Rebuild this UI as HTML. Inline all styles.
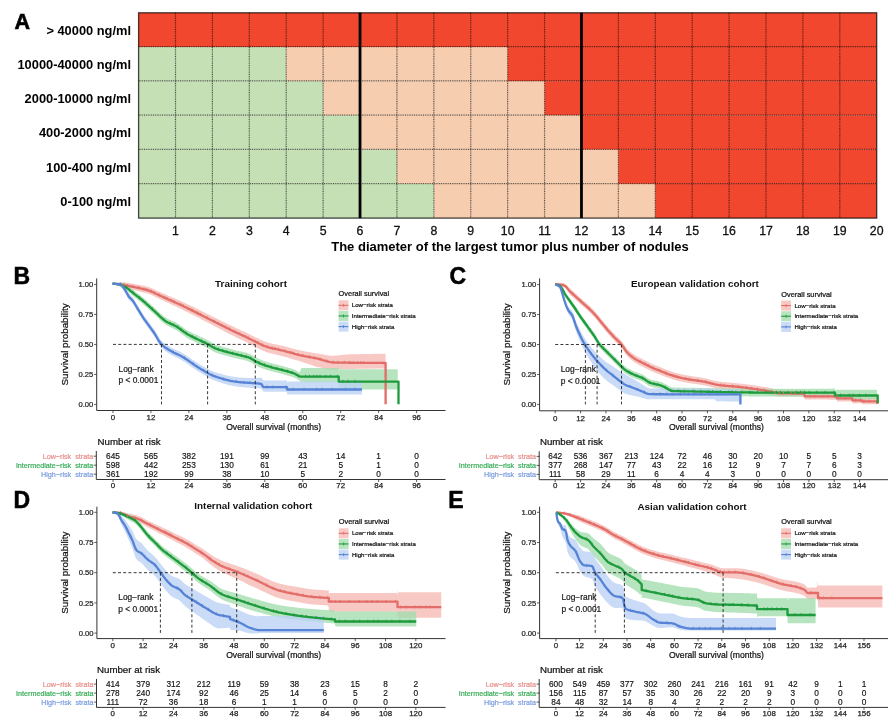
<!DOCTYPE html>
<html><head><meta charset="utf-8"><style>
html,body{margin:0;padding:0;background:#fff;}
svg{display:block;will-change:transform;}
text{font-family:"Liberation Sans", sans-serif;}
</style></head><body>
<svg width="891" height="720" viewBox="0 0 891 720">
<rect width="891" height="720" fill="#fff"/>
<rect x="138.60" y="12.80" width="738.10" height="34.22" fill="#F2472F"/>
<rect x="138.60" y="47.02" width="147.62" height="34.22" fill="#C6E0B6"/>
<rect x="286.22" y="47.02" width="221.43" height="34.22" fill="#F7CDAF"/>
<rect x="507.65" y="47.02" width="369.05" height="34.22" fill="#F2472F"/>
<rect x="138.60" y="81.23" width="184.53" height="34.22" fill="#C6E0B6"/>
<rect x="323.12" y="81.23" width="221.43" height="34.22" fill="#F7CDAF"/>
<rect x="544.56" y="81.23" width="332.14" height="34.22" fill="#F2472F"/>
<rect x="138.60" y="115.45" width="221.43" height="34.22" fill="#C6E0B6"/>
<rect x="360.03" y="115.45" width="221.43" height="34.22" fill="#F7CDAF"/>
<rect x="581.46" y="115.45" width="295.24" height="34.22" fill="#F2472F"/>
<rect x="138.60" y="149.67" width="258.34" height="34.22" fill="#C6E0B6"/>
<rect x="396.94" y="149.67" width="221.43" height="34.22" fill="#F7CDAF"/>
<rect x="618.37" y="149.67" width="258.34" height="34.22" fill="#F2472F"/>
<rect x="138.60" y="183.88" width="295.24" height="34.22" fill="#C6E0B6"/>
<rect x="433.84" y="183.88" width="221.43" height="34.22" fill="#F7CDAF"/>
<rect x="655.27" y="183.88" width="221.43" height="34.22" fill="#F2472F"/>
<line x1="175.50" y1="12.8" x2="175.50" y2="218.1" stroke="#000" stroke-width="1.2" stroke-dasharray="1,0.8" opacity="0.62"/>
<line x1="212.41" y1="12.8" x2="212.41" y2="218.1" stroke="#000" stroke-width="1.2" stroke-dasharray="1,0.8" opacity="0.62"/>
<line x1="249.31" y1="12.8" x2="249.31" y2="218.1" stroke="#000" stroke-width="1.2" stroke-dasharray="1,0.8" opacity="0.62"/>
<line x1="286.22" y1="12.8" x2="286.22" y2="218.1" stroke="#000" stroke-width="1.2" stroke-dasharray="1,0.8" opacity="0.62"/>
<line x1="323.12" y1="12.8" x2="323.12" y2="218.1" stroke="#000" stroke-width="1.2" stroke-dasharray="1,0.8" opacity="0.62"/>
<line x1="360.03" y1="12.8" x2="360.03" y2="218.1" stroke="#000" stroke-width="1.2" stroke-dasharray="1,0.8" opacity="0.62"/>
<line x1="396.94" y1="12.8" x2="396.94" y2="218.1" stroke="#000" stroke-width="1.2" stroke-dasharray="1,0.8" opacity="0.62"/>
<line x1="433.84" y1="12.8" x2="433.84" y2="218.1" stroke="#000" stroke-width="1.2" stroke-dasharray="1,0.8" opacity="0.62"/>
<line x1="470.75" y1="12.8" x2="470.75" y2="218.1" stroke="#000" stroke-width="1.2" stroke-dasharray="1,0.8" opacity="0.62"/>
<line x1="507.65" y1="12.8" x2="507.65" y2="218.1" stroke="#000" stroke-width="1.2" stroke-dasharray="1,0.8" opacity="0.62"/>
<line x1="544.56" y1="12.8" x2="544.56" y2="218.1" stroke="#000" stroke-width="1.2" stroke-dasharray="1,0.8" opacity="0.62"/>
<line x1="581.46" y1="12.8" x2="581.46" y2="218.1" stroke="#000" stroke-width="1.2" stroke-dasharray="1,0.8" opacity="0.62"/>
<line x1="618.37" y1="12.8" x2="618.37" y2="218.1" stroke="#000" stroke-width="1.2" stroke-dasharray="1,0.8" opacity="0.62"/>
<line x1="655.27" y1="12.8" x2="655.27" y2="218.1" stroke="#000" stroke-width="1.2" stroke-dasharray="1,0.8" opacity="0.62"/>
<line x1="692.18" y1="12.8" x2="692.18" y2="218.1" stroke="#000" stroke-width="1.2" stroke-dasharray="1,0.8" opacity="0.62"/>
<line x1="729.08" y1="12.8" x2="729.08" y2="218.1" stroke="#000" stroke-width="1.2" stroke-dasharray="1,0.8" opacity="0.62"/>
<line x1="765.99" y1="12.8" x2="765.99" y2="218.1" stroke="#000" stroke-width="1.2" stroke-dasharray="1,0.8" opacity="0.62"/>
<line x1="802.89" y1="12.8" x2="802.89" y2="218.1" stroke="#000" stroke-width="1.2" stroke-dasharray="1,0.8" opacity="0.62"/>
<line x1="839.80" y1="12.8" x2="839.80" y2="218.1" stroke="#000" stroke-width="1.2" stroke-dasharray="1,0.8" opacity="0.62"/>
<line x1="138.6" y1="46.72" x2="876.7" y2="46.72" stroke="#000" stroke-width="1.2" stroke-dasharray="1,0.8" opacity="0.62"/>
<line x1="138.6" y1="80.93" x2="876.7" y2="80.93" stroke="#000" stroke-width="1.2" stroke-dasharray="1,0.8" opacity="0.62"/>
<line x1="138.6" y1="115.15" x2="876.7" y2="115.15" stroke="#000" stroke-width="1.2" stroke-dasharray="1,0.8" opacity="0.62"/>
<line x1="138.6" y1="149.37" x2="876.7" y2="149.37" stroke="#000" stroke-width="1.2" stroke-dasharray="1,0.8" opacity="0.62"/>
<line x1="138.6" y1="183.58" x2="876.7" y2="183.58" stroke="#000" stroke-width="1.2" stroke-dasharray="1,0.8" opacity="0.62"/>
<rect x="138.6" y="12.8" width="738.10" height="205.30" fill="none" stroke="#000" stroke-opacity="0.72" stroke-width="1.3"/>
<line x1="360.03" y1="12.8" x2="360.03" y2="218.1" stroke="#000" stroke-width="2.8"/>
<line x1="581.46" y1="12.8" x2="581.46" y2="218.1" stroke="#000" stroke-width="2.8"/>
<text x="14.4" y="29" font-size="21.5" font-weight="bold" stroke="#000" stroke-width="0.6">A</text>
<text x="131" y="34.71" font-size="12.85" font-weight="bold" text-anchor="end">&gt; 40000 ng/ml</text>
<text x="131" y="68.92" font-size="12.85" font-weight="bold" text-anchor="end">10000-40000 ng/ml</text>
<text x="131" y="103.14" font-size="12.85" font-weight="bold" text-anchor="end">2000-10000 ng/ml</text>
<text x="131" y="137.36" font-size="12.85" font-weight="bold" text-anchor="end">400-2000 ng/ml</text>
<text x="131" y="171.57" font-size="12.85" font-weight="bold" text-anchor="end">100-400 ng/ml</text>
<text x="131" y="205.79" font-size="12.85" font-weight="bold" text-anchor="end">0-100 ng/ml</text>
<text x="175.50" y="235.2" font-size="12.3" text-anchor="middle" fill="#111" stroke="#111" stroke-width="0.3" stroke="#111" stroke-width="0.22">1</text>
<text x="212.41" y="235.2" font-size="12.3" text-anchor="middle" fill="#111" stroke="#111" stroke-width="0.3" stroke="#111" stroke-width="0.22">2</text>
<text x="249.31" y="235.2" font-size="12.3" text-anchor="middle" fill="#111" stroke="#111" stroke-width="0.3" stroke="#111" stroke-width="0.22">3</text>
<text x="286.22" y="235.2" font-size="12.3" text-anchor="middle" fill="#111" stroke="#111" stroke-width="0.3" stroke="#111" stroke-width="0.22">4</text>
<text x="323.12" y="235.2" font-size="12.3" text-anchor="middle" fill="#111" stroke="#111" stroke-width="0.3" stroke="#111" stroke-width="0.22">5</text>
<text x="360.03" y="235.2" font-size="12.3" text-anchor="middle" fill="#111" stroke="#111" stroke-width="0.3" stroke="#111" stroke-width="0.22">6</text>
<text x="396.94" y="235.2" font-size="12.3" text-anchor="middle" fill="#111" stroke="#111" stroke-width="0.3" stroke="#111" stroke-width="0.22">7</text>
<text x="433.84" y="235.2" font-size="12.3" text-anchor="middle" fill="#111" stroke="#111" stroke-width="0.3" stroke="#111" stroke-width="0.22">8</text>
<text x="470.75" y="235.2" font-size="12.3" text-anchor="middle" fill="#111" stroke="#111" stroke-width="0.3" stroke="#111" stroke-width="0.22">9</text>
<text x="507.65" y="235.2" font-size="12.3" text-anchor="middle" fill="#111" stroke="#111" stroke-width="0.3" stroke="#111" stroke-width="0.22">10</text>
<text x="544.56" y="235.2" font-size="12.3" text-anchor="middle" fill="#111" stroke="#111" stroke-width="0.3" stroke="#111" stroke-width="0.22">11</text>
<text x="581.46" y="235.2" font-size="12.3" text-anchor="middle" fill="#111" stroke="#111" stroke-width="0.3" stroke="#111" stroke-width="0.22">12</text>
<text x="618.37" y="235.2" font-size="12.3" text-anchor="middle" fill="#111" stroke="#111" stroke-width="0.3" stroke="#111" stroke-width="0.22">13</text>
<text x="655.27" y="235.2" font-size="12.3" text-anchor="middle" fill="#111" stroke="#111" stroke-width="0.3" stroke="#111" stroke-width="0.22">14</text>
<text x="692.18" y="235.2" font-size="12.3" text-anchor="middle" fill="#111" stroke="#111" stroke-width="0.3" stroke="#111" stroke-width="0.22">15</text>
<text x="729.08" y="235.2" font-size="12.3" text-anchor="middle" fill="#111" stroke="#111" stroke-width="0.3" stroke="#111" stroke-width="0.22">16</text>
<text x="765.99" y="235.2" font-size="12.3" text-anchor="middle" fill="#111" stroke="#111" stroke-width="0.3" stroke="#111" stroke-width="0.22">17</text>
<text x="802.89" y="235.2" font-size="12.3" text-anchor="middle" fill="#111" stroke="#111" stroke-width="0.3" stroke="#111" stroke-width="0.22">18</text>
<text x="839.80" y="235.2" font-size="12.3" text-anchor="middle" fill="#111" stroke="#111" stroke-width="0.3" stroke="#111" stroke-width="0.22">19</text>
<text x="876.70" y="235.2" font-size="12.3" text-anchor="middle" fill="#111" stroke="#111" stroke-width="0.3" stroke="#111" stroke-width="0.22">20</text>
<text x="510" y="251" font-size="13" font-weight="bold" text-anchor="middle">The diameter of the largest tumor plus number of nodules</text>
<polygon points="112.50,283.48 113.50,283.36 114.50,283.23 115.50,283.09 116.50,282.96 117.50,282.83 118.50,282.71 119.50,282.60 120.50,282.51 121.50,282.43 122.50,282.38 123.50,282.33 124.50,282.29 125.50,282.36 126.50,282.54 127.50,282.71 128.50,282.88 129.50,283.05 130.50,283.23 131.50,283.40 132.50,283.58 133.50,283.76 134.50,283.95 135.50,284.14 136.50,284.33 137.50,284.53 138.50,284.74 139.50,284.94 140.50,285.15 141.50,285.36 142.50,285.58 143.50,285.80 144.50,286.03 145.50,286.28 146.50,286.53 147.50,286.81 148.50,287.10 149.50,287.41 150.50,287.76 151.50,288.15 152.50,288.57 153.50,289.02 154.50,289.48 155.50,289.95 156.50,290.42 157.50,290.90 158.50,291.37 159.50,291.82 160.50,292.26 161.50,292.69 162.50,293.13 163.50,293.56 164.50,294.00 165.50,294.43 166.50,294.86 167.50,295.30 168.50,295.73 169.50,296.17 170.50,296.60 171.50,297.04 172.50,297.47 173.50,297.90 174.50,298.33 175.50,298.75 176.50,299.18 177.50,299.61 178.50,300.05 179.50,300.48 180.50,300.92 181.50,301.37 182.50,301.82 183.50,302.28 184.50,302.75 185.50,303.22 186.50,303.69 187.50,304.17 188.50,304.64 189.50,305.12 190.50,305.60 191.50,306.08 192.50,306.56 193.50,307.04 194.50,307.53 195.50,308.01 196.50,308.50 197.50,308.98 198.50,309.47 199.50,309.96 200.50,310.45 201.50,310.94 202.50,311.44 203.50,311.94 204.50,312.44 205.50,312.93 206.50,313.43 207.50,313.93 208.50,314.43 209.50,314.93 210.50,315.43 211.50,315.92 212.50,316.42 213.50,316.92 214.50,317.41 215.50,317.91 216.50,318.41 217.50,318.91 218.50,319.41 219.50,319.91 220.50,320.41 221.50,320.91 222.50,321.41 223.50,321.91 224.50,322.41 225.50,322.90 226.50,323.40 227.50,323.89 228.50,324.39 229.50,324.88 230.50,325.36 231.50,325.85 232.50,326.33 233.50,326.81 234.50,327.28 235.50,327.75 236.50,328.21 237.50,328.66 238.50,329.12 239.50,329.57 240.50,330.02 241.50,330.47 242.50,330.93 243.50,331.39 244.50,331.85 245.50,332.33 246.50,332.81 247.50,333.30 248.50,333.80 249.50,334.31 250.50,334.81 251.50,335.32 252.50,335.82 253.50,336.31 254.50,336.79 255.50,337.26 256.50,337.73 257.50,338.21 258.50,338.70 259.50,339.18 260.50,339.65 261.50,340.11 262.50,340.56 263.50,340.99 264.50,341.39 265.50,341.77 266.50,342.10 267.50,342.41 268.50,342.70 269.50,342.97 270.50,343.22 271.50,343.46 272.50,343.69 273.50,343.91 274.50,344.13 275.50,344.33 276.50,344.54 277.50,344.74 278.50,344.95 279.50,345.16 280.50,345.37 281.50,345.59 282.50,345.81 283.50,346.05 284.50,346.30 285.50,346.55 286.50,346.81 287.50,347.08 288.50,347.35 289.50,347.63 290.50,347.91 291.50,348.18 292.50,348.46 293.50,348.73 294.50,349.01 295.50,349.27 296.50,349.53 297.50,349.79 298.50,350.03 299.50,350.27 300.50,350.49 301.50,350.70 302.50,350.91 303.50,351.10 304.50,351.29 305.50,351.48 306.50,351.66 307.50,351.83 308.50,352.01 309.50,352.18 310.50,352.35 311.50,352.53 312.50,352.70 313.50,352.88 314.50,353.06 315.50,353.25 316.50,353.44 317.50,353.59 318.50,353.72 319.50,353.86 320.50,354.03 321.50,354.21 322.50,354.40 323.50,354.60 324.50,354.79 325.50,354.98 326.50,355.16 327.50,355.32 328.50,355.46 329.50,355.58 330.50,355.67 331.50,355.73 332.50,355.75 333.50,355.72 334.50,355.65 335.50,355.57 336.50,355.48 337.50,355.39 338.50,355.31 339.50,355.22 340.50,355.13 341.50,355.04 342.50,354.95 343.50,354.86 344.50,354.76 345.50,354.67 346.50,354.58 347.50,354.48 348.50,354.39 349.50,354.30 350.50,354.24 351.50,354.23 352.50,354.22 353.50,354.20 354.50,354.19 355.50,354.17 356.50,354.16 357.50,354.14 358.50,354.13 359.50,354.11 360.50,354.10 361.50,354.08 362.50,354.07 363.50,354.05 364.50,354.03 365.50,354.02 366.50,354.00 367.50,353.98 368.50,353.96 369.50,353.95 370.50,353.93 371.50,353.91 372.50,353.90 373.50,353.88 374.50,353.86 375.50,353.85 376.50,353.83 377.50,353.82 378.50,353.80 379.50,353.79 380.50,353.77 381.50,353.76 382.50,353.74 383.50,353.73 384.50,353.71 385.50,353.70 385.60,353.70 385.60,395.00 385.60,409.80 385.60,368.50 385.50,368.50 384.50,368.51 383.50,368.52 382.50,368.53 381.50,368.54 380.50,368.56 379.50,368.57 378.50,368.58 377.50,368.59 376.50,368.61 375.50,368.62 374.50,368.63 373.50,368.65 372.50,368.66 371.50,368.67 370.50,368.69 369.50,368.70 368.50,368.72 367.50,368.73 366.50,368.74 365.50,368.76 364.50,368.77 363.50,368.79 362.50,368.80 361.50,368.81 360.50,368.83 359.50,368.84 358.50,368.85 357.50,368.87 356.50,368.88 355.50,368.89 354.50,368.90 353.50,368.91 352.50,368.92 351.50,368.93 350.50,368.94 349.50,368.98 348.50,369.03 347.50,369.09 346.50,369.14 345.50,369.19 344.50,369.25 343.50,369.30 342.50,369.35 341.50,369.40 340.50,369.45 339.50,369.50 338.50,369.55 337.50,369.60 336.50,369.65 335.50,369.69 334.50,369.74 333.50,369.77 332.50,369.76 331.50,369.70 330.50,369.61 329.50,369.48 328.50,369.32 327.50,369.13 326.50,368.93 325.50,368.71 324.50,368.48 323.50,368.25 322.50,368.02 321.50,367.79 320.50,367.57 319.50,367.36 318.50,367.17 317.50,367.01 316.50,366.76 315.50,366.42 314.50,366.08 313.50,365.74 312.50,365.41 311.50,365.08 310.50,364.76 309.50,364.43 308.50,364.11 307.50,363.78 306.50,363.45 305.50,363.12 304.50,362.78 303.50,362.44 302.50,362.09 301.50,361.73 300.50,361.37 299.50,361.06 298.50,360.80 297.50,360.53 296.50,360.25 295.50,359.96 294.50,359.67 293.50,359.38 292.50,359.08 291.50,358.78 290.50,358.48 289.50,358.18 288.50,357.88 287.50,357.58 286.50,357.29 285.50,357.00 284.50,356.72 283.50,356.45 282.50,356.19 281.50,355.94 280.50,355.70 279.50,355.46 278.50,355.23 277.50,355.00 276.50,354.78 275.50,354.55 274.50,354.31 273.50,354.08 272.50,353.83 271.50,353.58 270.50,353.31 269.50,353.03 268.50,352.74 267.50,352.43 266.50,352.10 265.50,351.74 264.50,351.34 263.50,350.91 262.50,350.46 261.50,349.99 260.50,349.50 259.50,349.01 258.50,348.50 257.50,347.99 256.50,347.49 255.50,346.99 254.50,346.50 253.50,345.99 252.50,345.48 251.50,344.95 250.50,344.42 249.50,343.89 248.50,343.37 247.50,342.84 246.50,342.33 245.50,341.82 244.50,341.32 243.50,340.83 242.50,340.35 241.50,339.87 240.50,339.39 239.50,338.92 238.50,338.44 237.50,337.96 236.50,337.48 235.50,337.00 234.50,336.51 233.50,336.01 232.50,335.51 231.50,335.00 230.50,334.49 229.50,333.98 228.50,333.47 227.50,332.95 226.50,332.43 225.50,331.91 224.50,331.39 223.50,330.87 222.50,330.35 221.50,329.82 220.50,329.30 219.50,328.77 218.50,328.25 217.50,327.73 216.50,327.20 215.50,326.68 214.50,326.16 213.50,325.64 212.50,325.12 211.50,324.60 210.50,324.08 209.50,323.56 208.50,323.03 207.50,322.51 206.50,321.99 205.50,321.47 204.50,320.94 203.50,320.42 202.50,319.90 201.50,319.38 200.50,318.86 199.50,318.34 198.50,317.82 197.50,317.30 196.50,316.79 195.50,316.27 194.50,315.75 193.50,315.23 192.50,314.72 191.50,314.21 190.50,313.69 189.50,313.19 188.50,312.68 187.50,312.17 186.50,311.66 185.50,311.15 184.50,310.65 183.50,310.15 182.50,309.66 181.50,309.18 180.50,308.70 179.50,308.23 178.50,307.76 177.50,307.29 176.50,306.83 175.50,306.37 174.50,305.91 173.50,305.45 172.50,304.99 171.50,304.52 170.50,304.06 169.50,303.59 168.50,303.12 167.50,302.66 166.50,302.19 165.50,301.73 164.50,301.26 163.50,300.79 162.50,300.33 161.50,299.86 160.50,299.39 159.50,298.92 158.50,298.44 157.50,297.94 156.50,297.43 155.50,296.92 154.50,296.42 153.50,295.93 152.50,295.45 151.50,295.00 150.50,294.58 149.50,294.19 148.50,293.85 147.50,293.53 146.50,293.22 145.50,292.93 144.50,292.66 143.50,292.39 142.50,292.14 141.50,291.89 140.50,291.65 139.50,291.41 138.50,291.17 137.50,290.93 136.50,290.70 135.50,290.47 134.50,290.25 133.50,290.03 132.50,289.82 131.50,289.61 130.50,289.40 129.50,289.20 128.50,288.99 127.50,288.79 126.50,288.59 125.50,288.38 124.50,288.06 123.50,287.64 122.50,287.22 121.50,286.82 120.50,286.43 119.50,286.07 118.50,285.71 117.50,285.37 116.50,285.04 115.50,284.71 114.50,284.38 113.50,284.05 112.50,283.72" fill="#F6BBB5" opacity="0.8"/>
<polygon points="112.50,283.48 113.50,283.38 114.50,283.26 115.50,283.14 116.50,283.02 117.50,282.91 118.50,282.83 119.50,282.77 120.50,282.76 121.50,282.85 122.50,283.04 123.50,283.30 124.50,283.61 125.50,284.07 126.50,284.66 127.50,285.29 128.50,286.03 129.50,286.85 130.50,287.69 131.50,288.54 132.50,289.34 133.50,290.12 134.50,290.90 135.50,291.67 136.50,292.45 137.50,293.22 138.50,294.00 139.50,294.78 140.50,295.57 141.50,296.38 142.50,297.19 143.50,298.02 144.50,298.87 145.50,299.74 146.50,300.61 147.50,301.50 148.50,302.40 149.50,303.30 150.50,304.21 151.50,305.11 152.50,306.01 153.50,306.91 154.50,307.80 155.50,308.70 156.50,309.64 157.50,310.60 158.50,311.56 159.50,312.51 160.50,313.45 161.50,314.37 162.50,315.24 163.50,316.06 164.50,316.81 165.50,317.50 166.50,318.10 167.50,318.65 168.50,319.16 169.50,319.63 170.50,320.08 171.50,320.52 172.50,320.96 173.50,321.40 174.50,321.87 175.50,322.36 176.50,322.90 177.50,323.49 178.50,324.12 179.50,324.80 180.50,325.51 181.50,326.24 182.50,326.97 183.50,327.71 184.50,328.42 185.50,329.12 186.50,329.78 187.50,330.39 188.50,330.95 189.50,331.49 190.50,332.01 191.50,332.51 192.50,332.99 193.50,333.46 194.50,333.93 195.50,334.40 196.50,334.86 197.50,335.33 198.50,335.79 199.50,336.24 200.50,336.68 201.50,337.13 202.50,337.58 203.50,338.03 204.50,338.49 205.50,338.96 206.50,339.44 207.50,339.95 208.50,340.50 209.50,341.10 210.50,341.74 211.50,342.37 212.50,342.98 213.50,343.53 214.50,344.00 215.50,344.40 216.50,344.79 217.50,345.15 218.50,345.50 219.50,345.84 220.50,346.15 221.50,346.46 222.50,346.75 223.50,347.04 224.50,347.32 225.50,347.59 226.50,347.85 227.50,348.11 228.50,348.37 229.50,348.63 230.50,348.89 231.50,349.15 232.50,349.42 233.50,349.69 234.50,349.96 235.50,350.22 236.50,350.46 237.50,350.70 238.50,350.92 239.50,351.14 240.50,351.35 241.50,351.57 242.50,351.80 243.50,352.03 244.50,352.28 245.50,352.54 246.50,352.82 247.50,353.12 248.50,353.45 249.50,353.81 250.50,354.22 251.50,354.77 252.50,355.42 253.50,356.11 254.50,356.77 255.50,357.35 256.50,357.84 257.50,358.31 258.50,358.76 259.50,359.19 260.50,359.61 261.50,360.01 262.50,360.39 263.50,360.76 264.50,361.12 265.50,361.47 266.50,361.80 267.50,362.12 268.50,362.43 269.50,362.72 270.50,363.01 271.50,363.28 272.50,363.54 273.50,363.80 274.50,364.05 275.50,364.30 276.50,364.54 277.50,364.79 278.50,365.03 279.50,365.28 280.50,365.54 281.50,365.80 282.50,366.07 283.50,366.34 284.50,366.63 285.50,366.90 286.50,367.18 287.50,367.45 288.50,367.73 289.50,368.01 290.50,368.31 291.50,368.61 292.50,368.94 293.50,369.28 294.50,369.65 295.50,370.08 296.50,370.67 297.50,371.34 298.50,371.96 299.50,372.42 300.50,370.35 301.50,368.10 302.50,368.10 303.50,368.10 304.50,368.10 305.50,368.10 306.50,368.10 307.50,368.10 308.50,368.10 309.50,368.10 310.50,368.10 311.50,368.10 312.50,368.10 313.50,368.10 314.50,368.10 315.50,368.10 316.50,368.10 317.50,368.10 318.50,368.10 319.50,368.10 320.50,368.10 321.50,368.10 322.50,368.10 323.50,368.10 324.50,368.10 325.50,368.10 326.50,368.10 327.50,368.10 328.50,368.10 329.50,368.10 330.50,368.10 331.50,368.10 332.50,368.10 333.50,368.10 334.50,368.10 335.50,368.10 336.50,368.10 337.50,368.10 338.50,366.20 338.70,365.44 338.70,370.44 339.70,369.30 340.70,369.30 341.70,369.30 342.70,369.30 343.70,369.30 344.70,369.30 345.70,369.30 346.70,369.30 347.70,369.30 348.70,369.30 349.70,369.30 350.70,369.30 351.70,369.30 352.70,369.30 353.70,369.30 354.70,369.30 355.70,369.30 356.70,369.30 357.70,369.30 358.70,369.30 359.70,369.30 360.70,369.30 361.70,369.30 362.70,369.30 363.70,369.30 364.70,369.30 365.70,369.30 366.70,369.30 367.70,369.30 368.70,369.30 369.70,369.30 370.70,369.30 371.70,369.30 372.70,369.30 373.70,369.30 374.70,369.30 375.70,369.30 376.70,369.30 377.70,369.30 378.70,369.30 379.70,369.30 380.70,369.30 381.70,369.30 382.70,369.30 383.70,369.30 384.70,369.30 385.70,369.30 386.70,369.30 387.70,369.30 388.70,369.30 389.70,369.30 390.70,369.30 391.70,369.30 392.70,369.30 393.70,369.30 394.70,369.30 395.70,369.30 396.70,369.30 397.70,369.30 397.70,389.60 396.70,389.60 395.70,389.60 394.70,389.60 393.70,389.60 392.70,389.60 391.70,389.60 390.70,389.60 389.70,389.60 388.70,389.60 387.70,389.60 386.70,389.60 385.70,389.60 384.70,389.60 383.70,389.60 382.70,389.60 381.70,389.60 380.70,389.60 379.70,389.60 378.70,389.60 377.70,389.60 376.70,389.60 375.70,389.60 374.70,389.60 373.70,389.60 372.70,389.60 371.70,389.60 370.70,389.60 369.70,389.60 368.70,389.60 367.70,389.60 366.70,389.60 365.70,389.60 364.70,389.60 363.70,389.60 362.70,389.60 361.70,389.60 360.70,389.60 359.70,389.60 358.70,389.60 357.70,389.60 356.70,389.60 355.70,389.60 354.70,389.60 353.70,389.60 352.70,389.60 351.70,389.60 350.70,389.60 349.70,389.60 348.70,389.60 347.70,389.60 346.70,389.60 345.70,389.60 344.70,389.60 343.70,389.60 342.70,389.60 341.70,389.60 340.70,389.60 339.70,389.60 338.70,389.00 338.70,384.00 338.50,383.60 337.50,382.60 336.50,382.60 335.50,382.60 334.50,382.60 333.50,382.60 332.50,382.60 331.50,382.60 330.50,382.60 329.50,382.60 328.50,382.60 327.50,382.60 326.50,382.60 325.50,382.60 324.50,382.60 323.50,382.60 322.50,382.60 321.50,382.60 320.50,382.60 319.50,382.60 318.50,382.60 317.50,382.60 316.50,382.60 315.50,382.60 314.50,382.60 313.50,382.60 312.50,382.60 311.50,382.60 310.50,382.60 309.50,382.60 308.50,382.60 307.50,382.60 306.50,382.60 305.50,382.60 304.50,382.60 303.50,382.60 302.50,382.60 301.50,382.60 300.50,381.60 299.50,380.42 298.50,379.96 297.50,379.34 296.50,378.67 295.50,378.08 294.50,377.65 293.50,377.28 292.50,376.94 291.50,376.61 290.50,376.31 289.50,376.01 288.50,375.73 287.50,375.45 286.50,375.18 285.50,374.90 284.50,374.63 283.50,374.34 282.50,374.07 281.50,373.80 280.50,373.54 279.50,373.28 278.50,373.03 277.50,372.79 276.50,372.54 275.50,372.30 274.50,372.05 273.50,371.80 272.50,371.54 271.50,371.28 270.50,371.01 269.50,370.72 268.50,370.43 267.50,370.12 266.50,369.80 265.50,369.47 264.50,369.12 263.50,368.76 262.50,368.39 261.50,368.01 260.50,367.61 259.50,367.19 258.50,366.76 257.50,366.31 256.50,365.84 255.50,365.35 254.50,364.77 253.50,364.11 252.50,363.42 251.50,362.77 250.50,362.22 249.50,361.81 248.50,361.45 247.50,361.12 246.50,360.82 245.50,360.54 244.50,360.28 243.50,360.03 242.50,359.80 241.50,359.57 240.50,359.35 239.50,359.14 238.50,358.92 237.50,358.70 236.50,358.46 235.50,358.22 234.50,357.96 233.50,357.69 232.50,357.42 231.50,357.15 230.50,356.89 229.50,356.63 228.50,356.37 227.50,356.11 226.50,355.85 225.50,355.59 224.50,355.32 223.50,355.04 222.50,354.75 221.50,354.46 220.50,354.15 219.50,353.84 218.50,353.50 217.50,353.15 216.50,352.79 215.50,352.40 214.50,352.00 213.50,351.53 212.50,350.98 211.50,350.37 210.50,349.74 209.50,349.10 208.50,348.50 207.50,347.95 206.50,347.44 205.50,346.96 204.50,346.49 203.50,346.03 202.50,345.58 201.50,345.13 200.50,344.68 199.50,344.22 198.50,343.75 197.50,343.26 196.50,342.77 195.50,342.28 194.50,341.78 193.50,341.29 192.50,340.79 191.50,340.28 190.50,339.76 189.50,339.21 188.50,338.65 187.50,338.06 186.50,337.42 185.50,336.73 184.50,336.01 183.50,335.27 182.50,334.51 181.50,333.74 180.50,332.99 179.50,332.26 178.50,331.55 177.50,330.89 176.50,330.27 175.50,329.71 174.50,329.19 173.50,328.70 172.50,328.22 171.50,327.76 170.50,327.30 169.50,326.82 168.50,326.32 167.50,325.79 166.50,325.21 165.50,324.58 164.50,323.87 163.50,323.08 162.50,322.24 161.50,321.34 160.50,320.40 159.50,319.43 158.50,318.45 157.50,317.46 156.50,316.48 155.50,315.52 154.50,314.58 153.50,313.67 152.50,312.75 151.50,311.82 150.50,310.89 149.50,309.96 148.50,309.03 147.50,308.10 146.50,307.19 145.50,306.28 144.50,305.39 143.50,304.52 142.50,303.66 141.50,302.82 140.50,301.99 139.50,301.17 138.50,300.36 137.50,299.55 136.50,298.75 135.50,297.95 134.50,297.15 133.50,296.35 132.50,295.54 131.50,294.71 130.50,293.84 129.50,292.97 128.50,292.13 127.50,291.36 126.50,290.70 125.50,290.08 124.50,289.38 123.50,288.60 122.50,287.88 121.50,287.23 120.50,286.68 119.50,286.23 118.50,285.83 117.50,285.45 116.50,285.09 115.50,284.75 114.50,284.41 113.50,284.07 112.50,283.72" fill="#A3DDAE" opacity="0.8"/>
<polygon points="112.50,283.48 113.50,283.35 114.50,283.20 115.50,283.04 116.50,282.89 117.50,282.75 118.50,282.64 119.50,282.57 120.50,282.62 121.50,283.12 122.50,283.99 123.50,285.06 124.50,286.15 125.50,287.62 126.50,289.50 127.50,291.43 128.50,293.11 129.50,294.32 130.50,295.25 131.50,296.15 132.50,297.27 133.50,298.65 134.50,300.21 135.50,301.88 136.50,303.58 137.50,305.25 138.50,306.85 139.50,308.49 140.50,310.13 141.50,311.76 142.50,313.34 143.50,314.85 144.50,316.29 145.50,317.67 146.50,319.03 147.50,320.37 148.50,321.73 149.50,323.11 150.50,324.47 151.50,325.83 152.50,327.20 153.50,328.61 154.50,330.06 155.50,331.64 156.50,333.36 157.50,335.12 158.50,336.83 159.50,338.41 160.50,339.75 161.50,340.81 162.50,341.73 163.50,342.58 164.50,343.35 165.50,344.07 166.50,344.74 167.50,345.37 168.50,345.97 169.50,346.56 170.50,347.14 171.50,347.71 172.50,348.26 173.50,348.77 174.50,349.26 175.50,349.73 176.50,350.18 177.50,350.64 178.50,351.09 179.50,351.56 180.50,352.05 181.50,352.56 182.50,353.10 183.50,353.68 184.50,354.28 185.50,354.91 186.50,355.55 187.50,356.21 188.50,356.89 189.50,357.57 190.50,358.26 191.50,358.95 192.50,359.64 193.50,360.33 194.50,361.01 195.50,361.68 196.50,362.34 197.50,362.99 198.50,363.61 199.50,364.21 200.50,364.79 201.50,365.36 202.50,365.94 203.50,366.53 204.50,367.10 205.50,367.68 206.50,368.24 207.50,368.79 208.50,369.32 209.50,369.83 210.50,370.31 211.50,370.77 212.50,371.20 213.50,371.59 214.50,371.94 215.50,372.26 216.50,372.59 217.50,372.90 218.50,373.21 219.50,373.51 220.50,373.81 221.50,374.10 222.50,374.37 223.50,374.64 224.50,374.91 225.50,375.16 226.50,375.40 227.50,375.63 228.50,375.85 229.50,376.06 230.50,376.26 231.50,376.44 232.50,376.62 233.50,376.78 234.50,376.93 235.50,377.06 236.50,377.18 237.50,377.28 238.50,377.38 239.50,377.46 240.50,377.53 241.50,377.60 242.50,377.66 243.50,377.71 244.50,377.76 245.50,377.81 246.50,377.85 247.50,377.90 248.50,377.94 249.50,377.98 250.50,378.03 251.50,378.07 252.50,378.12 253.50,378.18 254.50,378.24 255.50,378.21 256.50,378.07 257.50,377.92 258.50,377.78 259.50,377.67 260.50,377.60 261.50,377.72 262.50,379.33 263.50,380.50 264.50,380.50 265.50,380.50 266.50,380.50 267.50,380.50 268.50,380.50 269.50,380.50 270.50,380.50 271.50,380.50 272.50,380.50 273.50,380.50 274.50,380.50 275.50,380.50 276.50,380.50 277.50,380.50 278.50,380.50 279.50,380.50 280.50,380.50 281.50,380.50 282.50,380.50 283.50,380.50 284.50,380.50 285.50,380.50 286.50,380.50 287.00,380.50 287.00,382.80 288.00,381.50 289.00,381.50 290.00,381.50 291.00,381.50 292.00,381.50 293.00,381.50 294.00,381.50 295.00,381.50 296.00,381.50 297.00,381.50 298.00,381.50 299.00,381.50 300.00,381.50 301.00,381.50 302.00,381.50 303.00,381.50 304.00,381.50 305.00,381.50 306.00,381.50 307.00,381.50 308.00,381.50 309.00,381.50 310.00,381.50 311.00,381.50 312.00,381.50 313.00,381.50 314.00,381.50 315.00,381.50 316.00,381.50 317.00,381.50 318.00,381.50 319.00,381.50 320.00,381.50 321.00,381.50 322.00,381.50 323.00,381.50 324.00,381.50 325.00,381.50 326.00,381.50 327.00,381.50 328.00,381.50 329.00,381.50 330.00,381.50 331.00,381.50 332.00,381.50 333.00,381.50 334.00,381.50 335.00,381.50 336.00,381.50 337.00,381.50 338.00,381.50 339.00,381.50 340.00,381.50 341.00,381.50 342.00,381.50 343.00,381.50 344.00,381.50 345.00,381.50 346.00,381.50 347.00,381.50 348.00,381.50 349.00,381.50 350.00,381.50 351.00,381.50 352.00,381.50 353.00,381.50 354.00,381.50 355.00,381.50 356.00,381.50 357.00,381.50 358.00,381.50 359.00,381.50 360.00,381.50 361.00,381.50 361.90,381.50 361.90,394.50 361.00,394.50 360.00,394.50 359.00,394.50 358.00,394.50 357.00,394.50 356.00,394.50 355.00,394.50 354.00,394.50 353.00,394.50 352.00,394.50 351.00,394.50 350.00,394.50 349.00,394.50 348.00,394.50 347.00,394.50 346.00,394.50 345.00,394.50 344.00,394.50 343.00,394.50 342.00,394.50 341.00,394.50 340.00,394.50 339.00,394.50 338.00,394.50 337.00,394.50 336.00,394.50 335.00,394.50 334.00,394.50 333.00,394.50 332.00,394.50 331.00,394.50 330.00,394.50 329.00,394.50 328.00,394.50 327.00,394.50 326.00,394.50 325.00,394.50 324.00,394.50 323.00,394.50 322.00,394.50 321.00,394.50 320.00,394.50 319.00,394.50 318.00,394.50 317.00,394.50 316.00,394.50 315.00,394.50 314.00,394.50 313.00,394.50 312.00,394.50 311.00,394.50 310.00,394.50 309.00,394.50 308.00,394.50 307.00,394.50 306.00,394.50 305.00,394.50 304.00,394.50 303.00,394.50 302.00,394.50 301.00,394.50 300.00,394.50 299.00,394.50 298.00,394.50 297.00,394.50 296.00,394.50 295.00,394.50 294.00,394.50 293.00,394.50 292.00,394.50 291.00,394.50 290.00,394.50 289.00,394.50 288.00,394.50 287.00,394.00 287.00,391.70 286.50,391.70 285.50,391.70 284.50,391.70 283.50,391.70 282.50,391.70 281.50,391.70 280.50,391.70 279.50,391.70 278.50,391.70 277.50,391.70 276.50,391.70 275.50,391.70 274.50,391.70 273.50,391.70 272.50,391.70 271.50,391.70 270.50,391.70 269.50,391.70 268.50,391.70 267.50,391.70 266.50,391.70 265.50,391.70 264.50,391.70 263.50,391.70 262.50,390.46 261.50,388.70 260.50,388.42 259.50,388.34 258.50,388.31 257.50,388.30 256.50,388.30 255.50,388.29 254.50,388.22 253.50,388.13 252.50,388.03 251.50,387.95 250.50,387.86 249.50,387.78 248.50,387.70 247.50,387.62 246.50,387.54 245.50,387.46 244.50,387.38 243.50,387.29 242.50,387.20 241.50,387.11 240.50,387.00 239.50,386.89 238.50,386.78 237.50,386.65 236.50,386.51 235.50,386.35 234.50,386.18 233.50,386.00 232.50,385.80 231.50,385.59 230.50,385.37 229.50,385.13 228.50,384.89 227.50,384.63 226.50,384.36 225.50,384.08 224.50,383.80 223.50,383.50 222.50,383.19 221.50,382.88 220.50,382.55 219.50,382.22 218.50,381.88 217.50,381.54 216.50,381.19 215.50,380.83 214.50,380.46 213.50,380.08 212.50,379.65 211.50,379.19 210.50,378.69 209.50,378.17 208.50,377.63 207.50,377.06 206.50,376.47 205.50,375.88 204.50,375.27 203.50,374.65 202.50,374.03 201.50,373.42 200.50,372.80 199.50,372.20 198.50,371.57 197.50,370.92 196.50,370.25 195.50,369.56 194.50,368.87 193.50,368.16 192.50,367.44 191.50,366.72 190.50,366.00 189.50,365.29 188.50,364.58 187.50,363.88 186.50,363.19 185.50,362.52 184.50,361.87 183.50,361.24 182.50,360.64 181.50,360.07 180.50,359.53 179.50,359.01 178.50,358.52 177.50,358.04 176.50,357.56 175.50,357.07 174.50,356.58 173.50,356.07 172.50,355.53 171.50,354.95 170.50,354.35 169.50,353.75 168.50,353.13 167.50,352.50 166.50,351.85 165.50,351.15 164.50,350.41 163.50,349.60 162.50,348.73 161.50,347.79 160.50,346.70 159.50,345.33 158.50,343.72 157.50,341.99 156.50,340.20 155.50,338.46 154.50,336.84 153.50,335.37 152.50,333.94 151.50,332.54 150.50,331.15 149.50,329.76 148.50,328.36 147.50,326.97 146.50,325.60 145.50,324.22 144.50,322.81 143.50,321.34 142.50,319.81 141.50,318.20 140.50,316.55 139.50,314.88 138.50,313.21 137.50,311.58 136.50,309.89 135.50,308.16 134.50,306.47 133.50,304.88 132.50,303.47 131.50,302.33 130.50,301.40 129.50,300.44 128.50,299.20 127.50,297.49 126.50,295.54 125.50,293.63 124.50,291.92 123.50,290.36 122.50,288.84 121.50,287.51 120.50,286.54 119.50,286.03 118.50,285.64 117.50,285.29 116.50,284.96 115.50,284.65 114.50,284.35 113.50,284.04 112.50,283.72" fill="#BBD2F4" opacity="0.8"/>
<polyline points="112.50,283.60 113.50,283.70 114.50,283.80 115.50,283.90 116.50,284.00 117.50,284.10 118.50,284.21 119.50,284.33 120.50,284.47 121.50,284.63 122.50,284.80 123.50,284.98 124.50,285.18 125.50,285.37 126.50,285.56 127.50,285.75 128.50,285.94 129.50,286.13 130.50,286.32 131.50,286.51 132.50,286.70 133.50,286.90 134.50,287.10 135.50,287.31 136.50,287.52 137.50,287.73 138.50,287.96 139.50,288.18 140.50,288.40 141.50,288.63 142.50,288.86 143.50,289.10 144.50,289.34 145.50,289.60 146.50,289.88 147.50,290.17 148.50,290.47 149.50,290.80 150.50,291.17 151.50,291.58 152.50,292.01 153.50,292.47 154.50,292.95 155.50,293.44 156.50,293.93 157.50,294.42 158.50,294.90 159.50,295.37 160.50,295.83 161.50,296.28 162.50,296.73 163.50,297.18 164.50,297.63 165.50,298.08 166.50,298.53 167.50,298.98 168.50,299.43 169.50,299.88 170.50,300.33 171.50,300.78 172.50,301.23 173.50,301.67 174.50,302.12 175.50,302.56 176.50,303.01 177.50,303.45 178.50,303.90 179.50,304.35 180.50,304.81 181.50,305.27 182.50,305.74 183.50,306.22 184.50,306.70 185.50,307.18 186.50,307.67 187.50,308.17 188.50,308.66 189.50,309.15 190.50,309.65 191.50,310.14 192.50,310.64 193.50,311.14 194.50,311.64 195.50,312.14 196.50,312.64 197.50,313.14 198.50,313.65 199.50,314.15 200.50,314.65 201.50,315.15 202.50,315.66 203.50,316.16 204.50,316.66 205.50,317.17 206.50,317.67 207.50,318.18 208.50,318.68 209.50,319.18 210.50,319.69 211.50,320.19 212.50,320.70 213.50,321.20 214.50,321.70 215.50,322.20 216.50,322.71 217.50,323.21 218.50,323.72 219.50,324.22 220.50,324.73 221.50,325.24 222.50,325.74 223.50,326.25 224.50,326.75 225.50,327.26 226.50,327.76 227.50,328.26 228.50,328.76 229.50,329.25 230.50,329.75 231.50,330.24 232.50,330.72 233.50,331.21 234.50,331.69 235.50,332.16 236.50,332.63 237.50,333.09 238.50,333.55 239.50,334.01 240.50,334.46 241.50,334.92 242.50,335.38 243.50,335.85 244.50,336.32 245.50,336.80 246.50,337.29 247.50,337.79 248.50,338.29 249.50,338.80 250.50,339.32 251.50,339.83 252.50,340.33 253.50,340.83 254.50,341.32 255.50,341.79 256.50,342.27 257.50,342.76 258.50,343.25 259.50,343.73 260.50,344.21 261.50,344.68 262.50,345.14 263.50,345.57 264.50,345.98 265.50,346.36 266.50,346.70 267.50,347.02 268.50,347.31 269.50,347.58 270.50,347.84 271.50,348.09 272.50,348.33 273.50,348.55 274.50,348.77 275.50,348.99 276.50,349.20 277.50,349.41 278.50,349.62 279.50,349.83 280.50,350.05 281.50,350.27 282.50,350.51 283.50,350.75 284.50,351.00 285.50,351.27 286.50,351.53 287.50,351.81 288.50,352.09 289.50,352.37 290.50,352.65 291.50,352.93 292.50,353.21 293.50,353.50 294.50,353.77 295.50,354.05 296.50,354.31 297.50,354.57 298.50,354.82 299.50,355.07 300.50,355.30 301.50,355.52 302.50,355.74 303.50,355.94 304.50,356.14 305.50,356.34 306.50,356.53 307.50,356.72 308.50,356.91 309.50,357.09 310.50,357.28 311.50,357.46 312.50,357.65 313.50,357.84 314.50,358.03 315.50,358.23 316.50,358.43 317.50,358.64 318.50,358.87 319.50,359.13 320.50,359.40 321.50,359.69 322.50,359.98 323.50,360.29 324.50,360.58 325.50,360.88 326.50,361.16 327.50,361.43 328.50,361.68 329.50,361.91 330.50,362.11 331.50,362.27 332.50,362.39 333.50,362.47 334.50,362.51 335.50,362.53 336.50,362.55 337.50,362.57 338.50,362.59 339.50,362.60 340.50,362.62 341.50,362.64 342.50,362.65 343.50,362.67 344.50,362.68 345.50,362.69 346.50,362.71 347.50,362.72 348.50,362.73 349.50,362.74 350.50,362.75 351.50,362.76 352.50,362.77 353.50,362.78 354.50,362.79 355.50,362.80 356.50,362.81 357.50,362.81 358.50,362.82 359.50,362.83 360.50,362.83 361.50,362.84 362.50,362.85 363.50,362.85 364.50,362.86 365.50,362.86 366.50,362.87 367.50,362.87 368.50,362.88 369.50,362.89 370.50,362.89 371.50,362.90 372.50,362.90 373.50,362.91 374.50,362.92 375.50,362.92 376.50,362.93 377.50,362.93 378.50,362.94 379.50,362.95 380.50,362.96 381.50,362.96 382.50,362.97 383.50,362.98 384.50,362.99 385.50,363.00 385.60,363.00 385.60,404.30" fill="none" stroke="#E36D68" stroke-width="2.3" stroke-linejoin="round"/>
<polyline points="112.50,283.60 113.50,283.72 114.50,283.84 115.50,283.94 116.50,284.06 117.50,284.18 118.50,284.33 119.50,284.50 120.50,284.72 121.50,285.04 122.50,285.46 123.50,285.95 124.50,286.50 125.50,287.08 126.50,287.68 127.50,288.32 128.50,289.08 129.50,289.91 130.50,290.77 131.50,291.62 132.50,292.44 133.50,293.24 134.50,294.03 135.50,294.81 136.50,295.60 137.50,296.39 138.50,297.18 139.50,297.98 140.50,298.78 141.50,299.60 142.50,300.43 143.50,301.27 144.50,302.13 145.50,303.01 146.50,303.90 147.50,304.80 148.50,305.71 149.50,306.63 150.50,307.55 151.50,308.46 152.50,309.38 153.50,310.29 154.50,311.19 155.50,312.11 156.50,313.06 157.50,314.03 158.50,315.00 159.50,315.97 160.50,316.93 161.50,317.85 162.50,318.74 163.50,319.57 164.50,320.34 165.50,321.04 166.50,321.66 167.50,322.22 168.50,322.74 169.50,323.23 170.50,323.69 171.50,324.14 172.50,324.59 173.50,325.05 174.50,325.53 175.50,326.03 176.50,326.58 177.50,327.19 178.50,327.84 179.50,328.53 180.50,329.25 181.50,329.99 182.50,330.74 183.50,331.49 184.50,332.22 185.50,332.92 186.50,333.60 187.50,334.22 188.50,334.80 189.50,335.35 190.50,335.88 191.50,336.39 192.50,336.89 193.50,337.38 194.50,337.86 195.50,338.34 196.50,338.81 197.50,339.30 198.50,339.77 199.50,340.23 200.50,340.68 201.50,341.13 202.50,341.58 203.50,342.03 204.50,342.49 205.50,342.96 206.50,343.44 207.50,343.95 208.50,344.50 209.50,345.10 210.50,345.74 211.50,346.37 212.50,346.98 213.50,347.53 214.50,348.00 215.50,348.40 216.50,348.79 217.50,349.15 218.50,349.50 219.50,349.84 220.50,350.15 221.50,350.46 222.50,350.75 223.50,351.04 224.50,351.32 225.50,351.59 226.50,351.85 227.50,352.11 228.50,352.37 229.50,352.63 230.50,352.89 231.50,353.15 232.50,353.42 233.50,353.69 234.50,353.96 235.50,354.22 236.50,354.46 237.50,354.70 238.50,354.92 239.50,355.14 240.50,355.35 241.50,355.57 242.50,355.80 243.50,356.03 244.50,356.28 245.50,356.54 246.50,356.82 247.50,357.12 248.50,357.45 249.50,357.81 250.50,358.22 251.50,358.77 252.50,359.42 253.50,360.11 254.50,360.77 255.50,361.35 256.50,361.84 257.50,362.31 258.50,362.76 259.50,363.19 260.50,363.61 261.50,364.01 262.50,364.39 263.50,364.76 264.50,365.12 265.50,365.47 266.50,365.80 267.50,366.12 268.50,366.43 269.50,366.72 270.50,367.01 271.50,367.28 272.50,367.54 273.50,367.80 274.50,368.05 275.50,368.30 276.50,368.54 277.50,368.79 278.50,369.03 279.50,369.28 280.50,369.54 281.50,369.80 282.50,370.07 283.50,370.34 284.50,370.63 285.50,370.90 286.50,371.18 287.50,371.45 288.50,371.73 289.50,372.01 290.50,372.31 291.50,372.61 292.50,372.94 293.50,373.28 294.50,373.65 295.50,374.08 296.50,374.67 297.50,375.34 298.50,375.96 299.50,376.42 300.50,376.60 301.50,376.60 302.50,376.60 303.50,376.60 304.50,376.60 305.50,376.60 306.50,376.60 307.50,376.60 308.50,376.60 309.50,376.60 310.50,376.60 311.50,376.60 312.50,376.60 313.50,376.60 314.50,376.60 315.50,376.60 316.50,376.60 317.50,376.60 318.50,376.60 319.50,376.60 320.50,376.60 321.50,376.60 322.50,376.60 323.50,376.60 324.50,376.60 325.50,376.60 326.50,376.60 327.50,376.60 328.50,376.60 329.50,376.60 330.50,376.60 331.50,376.60 332.50,376.60 333.50,376.60 334.50,376.60 335.50,376.60 336.50,376.60 337.50,376.60 338.50,376.60 338.70,376.60 338.70,381.60 339.70,381.60 340.70,381.60 341.70,381.60 342.70,381.60 343.70,381.60 344.70,381.60 345.70,381.60 346.70,381.60 347.70,381.60 348.70,381.60 349.70,381.60 350.70,381.60 351.70,381.60 352.70,381.60 353.70,381.60 354.70,381.60 355.70,381.60 356.70,381.60 357.70,381.60 358.70,381.60 359.70,381.60 360.70,381.60 361.70,381.60 362.70,381.60 363.70,381.60 364.70,381.60 365.70,381.60 366.70,381.60 367.70,381.60 368.70,381.60 369.70,381.60 370.70,381.60 371.70,381.60 372.70,381.60 373.70,381.60 374.70,381.60 375.70,381.60 376.70,381.60 377.70,381.60 378.70,381.60 379.70,381.60 380.70,381.60 381.70,381.60 382.70,381.60 383.70,381.60 384.70,381.60 385.70,381.60 386.70,381.60 387.70,381.60 388.70,381.60 389.70,381.60 390.70,381.60 391.70,381.60 392.70,381.60 393.70,381.60 394.70,381.60 395.70,381.60 396.70,381.60 397.70,381.60 398.50,381.60 398.50,404.30" fill="none" stroke="#1E9B3C" stroke-width="2.3" stroke-linejoin="round"/>
<polyline points="112.50,283.60 113.50,283.69 114.50,283.77 115.50,283.85 116.50,283.93 117.50,284.02 118.50,284.14 119.50,284.30 120.50,284.58 121.50,285.31 122.50,286.42 123.50,287.71 124.50,289.03 125.50,290.62 126.50,292.52 127.50,294.46 128.50,296.15 129.50,297.38 130.50,298.33 131.50,299.24 132.50,300.37 133.50,301.77 134.50,303.34 135.50,305.02 136.50,306.73 137.50,308.41 138.50,310.03 139.50,311.68 140.50,313.34 141.50,314.98 142.50,316.57 143.50,318.10 144.50,319.55 145.50,320.95 146.50,322.32 147.50,323.67 148.50,325.04 149.50,326.43 150.50,327.81 151.50,329.18 152.50,330.57 153.50,331.99 154.50,333.45 155.50,335.05 156.50,336.78 157.50,338.55 158.50,340.28 159.50,341.87 160.50,343.23 161.50,344.30 162.50,345.23 163.50,346.09 164.50,346.88 165.50,347.61 166.50,348.29 167.50,348.94 168.50,349.55 169.50,350.15 170.50,350.74 171.50,351.33 172.50,351.89 173.50,352.42 174.50,352.92 175.50,353.40 176.50,353.87 177.50,354.34 178.50,354.81 179.50,355.29 180.50,355.79 181.50,356.31 182.50,356.87 183.50,357.46 184.50,358.08 185.50,358.72 186.50,359.37 187.50,360.05 188.50,360.73 189.50,361.43 190.50,362.13 191.50,362.84 192.50,363.54 193.50,364.24 194.50,364.94 195.50,365.62 196.50,366.30 197.50,366.95 198.50,367.59 199.50,368.20 200.50,368.79 201.50,369.39 202.50,369.99 203.50,370.59 204.50,371.19 205.50,371.78 206.50,372.36 207.50,372.92 208.50,373.47 209.50,374.00 210.50,374.50 211.50,374.98 212.50,375.42 213.50,375.83 214.50,376.20 215.50,376.55 216.50,376.89 217.50,377.22 218.50,377.55 219.50,377.87 220.50,378.18 221.50,378.49 222.50,378.78 223.50,379.07 224.50,379.35 225.50,379.62 226.50,379.88 227.50,380.13 228.50,380.37 229.50,380.60 230.50,380.81 231.50,381.02 232.50,381.21 233.50,381.39 234.50,381.55 235.50,381.70 236.50,381.84 237.50,381.97 238.50,382.08 239.50,382.18 240.50,382.27 241.50,382.35 242.50,382.43 243.50,382.50 244.50,382.57 245.50,382.64 246.50,382.70 247.50,382.76 248.50,382.82 249.50,382.88 250.50,382.94 251.50,383.01 252.50,383.08 253.50,383.15 254.50,383.23 255.50,383.32 256.50,383.39 257.50,383.45 258.50,383.52 259.50,383.62 260.50,383.76 261.50,384.10 262.50,385.92 263.50,387.20 264.50,387.20 265.50,387.20 266.50,387.20 267.50,387.20 268.50,387.20 269.50,387.20 270.50,387.20 271.50,387.20 272.50,387.20 273.50,387.20 274.50,387.20 275.50,387.20 276.50,387.20 277.50,387.20 278.50,387.20 279.50,387.20 280.50,387.20 281.50,387.20 282.50,387.20 283.50,387.20 284.50,387.20 285.50,387.20 286.50,387.20 287.00,387.20 287.00,389.50 288.00,389.50 289.00,389.50 290.00,389.50 291.00,389.50 292.00,389.50 293.00,389.50 294.00,389.50 295.00,389.50 296.00,389.50 297.00,389.50 298.00,389.50 299.00,389.50 300.00,389.50 301.00,389.50 302.00,389.50 303.00,389.50 304.00,389.50 305.00,389.50 306.00,389.50 307.00,389.50 308.00,389.50 309.00,389.50 310.00,389.50 311.00,389.50 312.00,389.50 313.00,389.50 314.00,389.50 315.00,389.50 316.00,389.50 317.00,389.50 318.00,389.50 319.00,389.50 320.00,389.50 321.00,389.50 322.00,389.50 323.00,389.50 324.00,389.50 325.00,389.50 326.00,389.50 327.00,389.50 328.00,389.50 329.00,389.50 330.00,389.50 331.00,389.50 332.00,389.50 333.00,389.50 334.00,389.50 335.00,389.50 336.00,389.50 337.00,389.50 338.00,389.50 339.00,389.50 340.00,389.50 341.00,389.50 342.00,389.50 343.00,389.50 344.00,389.50 345.00,389.50 346.00,389.50 347.00,389.50 348.00,389.50 349.00,389.50 350.00,389.50 351.00,389.50 352.00,389.50 353.00,389.50 354.00,389.50 355.00,389.50 356.00,389.50 357.00,389.50 358.00,389.50 359.00,389.50 360.00,389.50 361.00,389.50 361.90,389.50" fill="none" stroke="#5683D6" stroke-width="2.3" stroke-linejoin="round"/>
<path d="M120.50 282.67V285.67M123.95 283.27V286.27M127.42 283.94V286.94M132.73 284.95V287.95M138.67 286.19V289.19M144.05 287.43V290.43M146.83 288.17V291.17M150.85 289.51V292.51M154.40 291.10V294.10M159.29 293.47V296.47M164.40 295.78V298.78M166.97 296.94V299.94M171.68 299.06V302.06M174.46 300.30V303.30M180.77 303.14V306.14M183.52 304.43V307.43M187.66 306.44V309.44M192.15 308.67V311.67M197.72 311.45V314.45M200.45 312.83V315.83M207.41 316.33V319.33M214.27 319.78V322.78M218.21 321.77V324.77M221.95 323.66V326.66M225.72 325.56V328.56M229.34 327.37V330.37M234.04 329.67V332.67M239.79 332.34V335.34M245.70 335.10V338.10M248.51 336.50V339.50M254.97 339.74V342.74M258.14 341.27V344.27M262.47 343.32V346.32M267.29 345.15V348.15M272.26 346.47V349.47M275.07 347.10V350.10M278.54 347.83V350.83M284.68 349.25V352.25M290.92 350.97V353.97M293.65 351.74V354.74M298.20 352.95V355.95M302.74 353.99V356.99M309.43 355.28V358.28M314.65 356.26V359.26M320.18 357.51V360.51M326.74 359.43V362.43M333.09 360.64V363.64M337.89 360.78V363.78M344.27 360.88V363.88M349.48 360.94V363.94M354.12 360.99V363.99M357.70 361.01V364.01M360.93 361.04V364.04M363.81 361.05V364.05" stroke="#E36D68" stroke-width="0.9" fill="none"/>
<path d="M120.50 282.92V285.92M126.37 285.80V288.80M133.33 291.30V294.30M139.83 296.44V299.44M142.65 298.75V301.75M145.47 301.18V304.18M152.31 307.40V310.40M158.49 313.19V316.19M164.55 318.58V321.58M170.26 321.78V324.78M173.86 323.42V326.42M177.91 325.65V328.65M180.98 327.81V330.81M186.46 331.77V334.77M192.42 335.05V338.05M195.63 336.60V339.60M201.42 339.30V342.30M205.14 340.99V343.99M210.14 343.71V346.71M214.62 346.25V349.25M218.22 347.61V350.61M222.70 349.01V352.01M226.80 350.13V353.13M232.78 351.69V354.69M237.13 352.81V355.81M241.40 353.75V356.75M246.01 354.88V357.88M250.84 356.59V359.59M254.36 358.89V361.89M259.19 361.26V364.26M264.66 363.38V366.38M271.26 365.41V368.41M277.14 366.90V369.90M281.80 368.08V371.08M287.58 369.67V372.67M292.16 371.03V374.03M298.91 374.37V377.37M305.46 374.80V377.80M309.69 374.80V377.80M313.49 374.80V377.80M316.98 374.80V377.80M320.04 374.80V377.80M325.92 374.80V377.80M330.54 374.80V377.80M337.41 374.80V377.80M342.89 379.80V382.80M348.06 379.80V382.80M354.78 379.80V382.80" stroke="#1E9B3C" stroke-width="0.9" fill="none"/>
<path d="M120.50 282.78V285.78M129.02 295.04V298.04M141.60 313.34V316.34M153.66 330.42V333.42M160.49 341.41V344.41M173.28 350.51V353.51M184.54 356.30V359.30M192.98 362.08V365.08M203.69 368.90V371.90M212.54 373.64V376.64M223.69 377.33V380.33M236.46 380.04V383.04M244.20 380.75V383.75M249.61 381.09V384.09M255.53 381.52V384.52M266.86 385.40V388.40M272.99 385.40V388.40M285.62 385.40V388.40M292.95 387.70V390.70M304.14 387.70V390.70M316.61 387.70V390.70M322.19 387.70V390.70M331.83 387.70V390.70M345.60 387.70V390.70M354.91 387.70V390.70" stroke="#5683D6" stroke-width="0.9" fill="none"/>
<line x1="113.00" y1="344.40" x2="255.30" y2="344.40" stroke="#222" stroke-width="0.9" stroke-dasharray="3,2.2"/>
<line x1="161.50" y1="344.40" x2="161.50" y2="404.40" stroke="#222" stroke-width="0.9" stroke-dasharray="3,2.2"/>
<line x1="207.60" y1="344.40" x2="207.60" y2="404.40" stroke="#222" stroke-width="0.9" stroke-dasharray="3,2.2"/>
<line x1="255.30" y1="344.40" x2="255.30" y2="404.40" stroke="#222" stroke-width="0.9" stroke-dasharray="3,2.2"/>
<line x1="96.70" y1="278.40" x2="96.70" y2="410.50" stroke="#333" stroke-width="1"/>
<line x1="96.70" y1="410.50" x2="445.50" y2="410.50" stroke="#333" stroke-width="1"/>
<line x1="94.10" y1="404.40" x2="96.70" y2="404.40" stroke="#333" stroke-width="0.8"/>
<text x="93.30" y="407.10" font-size="7.6" text-anchor="end" fill="#222" stroke="#222" stroke-width="0.22">0.00</text>
<line x1="94.10" y1="374.40" x2="96.70" y2="374.40" stroke="#333" stroke-width="0.8"/>
<text x="93.30" y="377.10" font-size="7.6" text-anchor="end" fill="#222" stroke="#222" stroke-width="0.22">0.25</text>
<line x1="94.10" y1="344.40" x2="96.70" y2="344.40" stroke="#333" stroke-width="0.8"/>
<text x="93.30" y="347.10" font-size="7.6" text-anchor="end" fill="#222" stroke="#222" stroke-width="0.22">0.50</text>
<line x1="94.10" y1="314.40" x2="96.70" y2="314.40" stroke="#333" stroke-width="0.8"/>
<text x="93.30" y="317.10" font-size="7.6" text-anchor="end" fill="#222" stroke="#222" stroke-width="0.22">0.75</text>
<line x1="94.10" y1="284.40" x2="96.70" y2="284.40" stroke="#333" stroke-width="0.8"/>
<text x="93.30" y="287.10" font-size="7.6" text-anchor="end" fill="#222" stroke="#222" stroke-width="0.22">1.00</text>
<line x1="113.00" y1="410.50" x2="113.00" y2="413.10" stroke="#333" stroke-width="0.8"/>
<text x="113.00" y="420.30" font-size="7.9" text-anchor="middle" fill="#222" stroke="#222" stroke-width="0.25">0</text>
<line x1="150.95" y1="410.50" x2="150.95" y2="413.10" stroke="#333" stroke-width="0.8"/>
<text x="150.95" y="420.30" font-size="7.9" text-anchor="middle" fill="#222" stroke="#222" stroke-width="0.25">12</text>
<line x1="188.90" y1="410.50" x2="188.90" y2="413.10" stroke="#333" stroke-width="0.8"/>
<text x="188.90" y="420.30" font-size="7.9" text-anchor="middle" fill="#222" stroke="#222" stroke-width="0.25">24</text>
<line x1="226.85" y1="410.50" x2="226.85" y2="413.10" stroke="#333" stroke-width="0.8"/>
<text x="226.85" y="420.30" font-size="7.9" text-anchor="middle" fill="#222" stroke="#222" stroke-width="0.25">36</text>
<line x1="264.80" y1="410.50" x2="264.80" y2="413.10" stroke="#333" stroke-width="0.8"/>
<text x="264.80" y="420.30" font-size="7.9" text-anchor="middle" fill="#222" stroke="#222" stroke-width="0.25">48</text>
<line x1="302.75" y1="410.50" x2="302.75" y2="413.10" stroke="#333" stroke-width="0.8"/>
<text x="302.75" y="420.30" font-size="7.9" text-anchor="middle" fill="#222" stroke="#222" stroke-width="0.25">60</text>
<line x1="340.70" y1="410.50" x2="340.70" y2="413.10" stroke="#333" stroke-width="0.8"/>
<text x="340.70" y="420.30" font-size="7.9" text-anchor="middle" fill="#222" stroke="#222" stroke-width="0.25">72</text>
<line x1="378.65" y1="410.50" x2="378.65" y2="413.10" stroke="#333" stroke-width="0.8"/>
<text x="378.65" y="420.30" font-size="7.9" text-anchor="middle" fill="#222" stroke="#222" stroke-width="0.25">84</text>
<line x1="416.60" y1="410.50" x2="416.60" y2="413.10" stroke="#333" stroke-width="0.8"/>
<text x="416.60" y="420.30" font-size="7.9" text-anchor="middle" fill="#222" stroke="#222" stroke-width="0.25">96</text>
<text x="273.70" y="429.80" font-size="8.6" text-anchor="middle" fill="#111" stroke="#111" stroke-width="0.22">Overall survival (months)</text>
<text transform="translate(67.50,344.40) rotate(-90)" font-size="9.8" text-anchor="middle" fill="#111" stroke="#111" stroke-width="0.22">Survival probability</text>
<text x="251.00" y="287.00" font-size="9.9" font-weight="bold" text-anchor="middle" fill="#111">Training cohort</text>
<text x="13.50" y="284.30" font-size="23" font-weight="bold" stroke="#000" stroke-width="0.5">B</text>
<text x="118.50" y="372.00" font-size="8.4" fill="#222" stroke="#222" stroke-width="0.22">Log−rank</text>
<text x="118.50" y="383.40" font-size="8.4" fill="#222" stroke="#222" stroke-width="0.22">p &lt; 0.0001</text>
<text x="338.60" y="296.40" font-size="7.4" fill="#111" stroke="#111" stroke-width="0.22">Overall survival</text>
<rect x="338.60" y="300.30" width="9.8" height="10" fill="#F6BBB5" opacity="0.8"/>
<line x1="338.60" y1="305.30" x2="348.40" y2="305.30" stroke="#E36D68" stroke-width="1.1"/>
<line x1="343.50" y1="303.80" x2="343.50" y2="306.80" stroke="#E36D68" stroke-width="0.8"/>
<text x="351.80" y="307.40" font-size="6.1" fill="#111" stroke="#111" stroke-width="0.22">Low−risk strata</text>
<rect x="338.60" y="310.95" width="9.8" height="10" fill="#A3DDAE" opacity="0.8"/>
<line x1="338.60" y1="315.95" x2="348.40" y2="315.95" stroke="#1E9B3C" stroke-width="1.1"/>
<line x1="343.50" y1="314.45" x2="343.50" y2="317.45" stroke="#1E9B3C" stroke-width="0.8"/>
<text x="351.80" y="318.05" font-size="6.1" fill="#111" stroke="#111" stroke-width="0.22">Intermediate−risk strata</text>
<rect x="338.60" y="321.60" width="9.8" height="10" fill="#BBD2F4" opacity="0.8"/>
<line x1="338.60" y1="326.60" x2="348.40" y2="326.60" stroke="#5683D6" stroke-width="1.1"/>
<line x1="343.50" y1="325.10" x2="343.50" y2="328.10" stroke="#5683D6" stroke-width="0.8"/>
<text x="351.80" y="328.70" font-size="6.1" fill="#111" stroke="#111" stroke-width="0.22">High−risk strata</text>
<text x="97.60" y="445.00" font-size="9.7" fill="#111" stroke="#111" stroke-width="0.22">Number at risk</text>
<line x1="96.30" y1="451.00" x2="96.30" y2="479.50" stroke="#333" stroke-width="1"/>
<line x1="96.30" y1="479.50" x2="445.50" y2="479.50" stroke="#333" stroke-width="1"/>
<line x1="93.70" y1="456.20" x2="96.70" y2="456.20" stroke="#333" stroke-width="0.8"/>
<text x="93.20" y="458.80" font-size="7.2" text-anchor="end" fill="#E8908C" stroke="#E8908C" stroke-width="0.22">Low−risk <tspan dx="2.0">strata</tspan></text>
<text x="113.00" y="459.20" font-size="8.3" text-anchor="middle" fill="#111" stroke="#111" stroke-width="0.16">645</text>
<text x="150.95" y="459.20" font-size="8.3" text-anchor="middle" fill="#111" stroke="#111" stroke-width="0.16">565</text>
<text x="188.90" y="459.20" font-size="8.3" text-anchor="middle" fill="#111" stroke="#111" stroke-width="0.16">382</text>
<text x="226.85" y="459.20" font-size="8.3" text-anchor="middle" fill="#111" stroke="#111" stroke-width="0.16">191</text>
<text x="264.80" y="459.20" font-size="8.3" text-anchor="middle" fill="#111" stroke="#111" stroke-width="0.16">99</text>
<text x="302.75" y="459.20" font-size="8.3" text-anchor="middle" fill="#111" stroke="#111" stroke-width="0.16">43</text>
<text x="340.70" y="459.20" font-size="8.3" text-anchor="middle" fill="#111" stroke="#111" stroke-width="0.16">14</text>
<text x="378.65" y="459.20" font-size="8.3" text-anchor="middle" fill="#111" stroke="#111" stroke-width="0.16">1</text>
<text x="416.60" y="459.20" font-size="8.3" text-anchor="middle" fill="#111" stroke="#111" stroke-width="0.16">0</text>
<line x1="93.70" y1="465.20" x2="96.70" y2="465.20" stroke="#333" stroke-width="0.8"/>
<text x="93.20" y="467.80" font-size="7.2" text-anchor="end" fill="#3DAF5C" stroke="#3DAF5C" stroke-width="0.22">Intermediate−risk <tspan dx="2.0">strata</tspan></text>
<text x="113.00" y="468.20" font-size="8.3" text-anchor="middle" fill="#111" stroke="#111" stroke-width="0.16">598</text>
<text x="150.95" y="468.20" font-size="8.3" text-anchor="middle" fill="#111" stroke="#111" stroke-width="0.16">442</text>
<text x="188.90" y="468.20" font-size="8.3" text-anchor="middle" fill="#111" stroke="#111" stroke-width="0.16">253</text>
<text x="226.85" y="468.20" font-size="8.3" text-anchor="middle" fill="#111" stroke="#111" stroke-width="0.16">130</text>
<text x="264.80" y="468.20" font-size="8.3" text-anchor="middle" fill="#111" stroke="#111" stroke-width="0.16">61</text>
<text x="302.75" y="468.20" font-size="8.3" text-anchor="middle" fill="#111" stroke="#111" stroke-width="0.16">21</text>
<text x="340.70" y="468.20" font-size="8.3" text-anchor="middle" fill="#111" stroke="#111" stroke-width="0.16">5</text>
<text x="378.65" y="468.20" font-size="8.3" text-anchor="middle" fill="#111" stroke="#111" stroke-width="0.16">1</text>
<text x="416.60" y="468.20" font-size="8.3" text-anchor="middle" fill="#111" stroke="#111" stroke-width="0.16">0</text>
<line x1="93.70" y1="474.20" x2="96.70" y2="474.20" stroke="#333" stroke-width="0.8"/>
<text x="93.20" y="476.80" font-size="7.2" text-anchor="end" fill="#7C9EE0" stroke="#7C9EE0" stroke-width="0.22">High−risk <tspan dx="2.0">strata</tspan></text>
<text x="113.00" y="477.20" font-size="8.3" text-anchor="middle" fill="#111" stroke="#111" stroke-width="0.16">361</text>
<text x="150.95" y="477.20" font-size="8.3" text-anchor="middle" fill="#111" stroke="#111" stroke-width="0.16">192</text>
<text x="188.90" y="477.20" font-size="8.3" text-anchor="middle" fill="#111" stroke="#111" stroke-width="0.16">99</text>
<text x="226.85" y="477.20" font-size="8.3" text-anchor="middle" fill="#111" stroke="#111" stroke-width="0.16">38</text>
<text x="264.80" y="477.20" font-size="8.3" text-anchor="middle" fill="#111" stroke="#111" stroke-width="0.16">10</text>
<text x="302.75" y="477.20" font-size="8.3" text-anchor="middle" fill="#111" stroke="#111" stroke-width="0.16">5</text>
<text x="340.70" y="477.20" font-size="8.3" text-anchor="middle" fill="#111" stroke="#111" stroke-width="0.16">2</text>
<text x="378.65" y="477.20" font-size="8.3" text-anchor="middle" fill="#111" stroke="#111" stroke-width="0.16">0</text>
<text x="416.60" y="477.20" font-size="8.3" text-anchor="middle" fill="#111" stroke="#111" stroke-width="0.16">0</text>
<line x1="113.00" y1="479.50" x2="113.00" y2="482.00" stroke="#333" stroke-width="0.8"/>
<text x="113.00" y="487.90" font-size="7.9" text-anchor="middle" fill="#222" stroke="#222" stroke-width="0.25">0</text>
<line x1="150.95" y1="479.50" x2="150.95" y2="482.00" stroke="#333" stroke-width="0.8"/>
<text x="150.95" y="487.90" font-size="7.9" text-anchor="middle" fill="#222" stroke="#222" stroke-width="0.25">12</text>
<line x1="188.90" y1="479.50" x2="188.90" y2="482.00" stroke="#333" stroke-width="0.8"/>
<text x="188.90" y="487.90" font-size="7.9" text-anchor="middle" fill="#222" stroke="#222" stroke-width="0.25">24</text>
<line x1="226.85" y1="479.50" x2="226.85" y2="482.00" stroke="#333" stroke-width="0.8"/>
<text x="226.85" y="487.90" font-size="7.9" text-anchor="middle" fill="#222" stroke="#222" stroke-width="0.25">36</text>
<line x1="264.80" y1="479.50" x2="264.80" y2="482.00" stroke="#333" stroke-width="0.8"/>
<text x="264.80" y="487.90" font-size="7.9" text-anchor="middle" fill="#222" stroke="#222" stroke-width="0.25">48</text>
<line x1="302.75" y1="479.50" x2="302.75" y2="482.00" stroke="#333" stroke-width="0.8"/>
<text x="302.75" y="487.90" font-size="7.9" text-anchor="middle" fill="#222" stroke="#222" stroke-width="0.25">60</text>
<line x1="340.70" y1="479.50" x2="340.70" y2="482.00" stroke="#333" stroke-width="0.8"/>
<text x="340.70" y="487.90" font-size="7.9" text-anchor="middle" fill="#222" stroke="#222" stroke-width="0.25">72</text>
<line x1="378.65" y1="479.50" x2="378.65" y2="482.00" stroke="#333" stroke-width="0.8"/>
<text x="378.65" y="487.90" font-size="7.9" text-anchor="middle" fill="#222" stroke="#222" stroke-width="0.25">84</text>
<line x1="416.60" y1="479.50" x2="416.60" y2="482.00" stroke="#333" stroke-width="0.8"/>
<text x="416.60" y="487.90" font-size="7.9" text-anchor="middle" fill="#222" stroke="#222" stroke-width="0.25">96</text>
<polygon points="555.20,284.16 556.20,284.00 557.20,283.83 558.20,283.66 559.20,283.51 560.20,283.38 561.20,283.33 562.20,283.40 563.20,283.55 564.20,283.78 565.20,284.07 566.20,284.69 567.20,285.63 568.20,286.71 569.20,287.78 570.20,288.69 571.20,289.61 572.20,290.48 573.20,291.35 574.20,292.23 575.20,293.13 576.20,294.04 577.20,294.94 578.20,295.85 579.20,296.76 580.20,297.66 581.20,298.55 582.20,299.42 583.20,300.28 584.20,301.14 585.20,302.00 586.20,302.87 587.20,303.77 588.20,304.69 589.20,305.63 590.20,306.59 591.20,307.56 592.20,308.55 593.20,309.57 594.20,310.62 595.20,311.70 596.20,312.84 597.20,314.01 598.20,315.22 599.20,316.44 600.20,317.67 601.20,318.88 602.20,320.08 603.20,321.29 604.20,322.50 605.20,323.72 606.20,324.92 607.20,326.10 608.20,327.26 609.20,328.39 610.20,329.49 611.20,330.57 612.20,331.64 613.20,332.69 614.20,333.73 615.20,334.75 616.20,335.73 617.20,336.67 618.20,337.60 619.20,338.54 620.20,339.55 621.20,340.63 622.20,341.88 623.20,343.30 624.20,344.80 625.20,346.29 626.20,347.69 627.20,348.91 628.20,349.91 629.20,350.84 630.20,351.71 631.20,352.53 632.20,353.29 633.20,354.02 634.20,354.70 635.20,355.34 636.20,355.96 637.20,356.53 638.20,357.06 639.20,357.56 640.20,358.03 641.20,358.50 642.20,358.98 643.20,359.47 644.20,359.98 645.20,360.49 646.20,361.01 647.20,361.52 648.20,362.03 649.20,362.52 650.20,363.01 651.20,363.49 652.20,363.94 653.20,364.38 654.20,364.80 655.20,365.20 656.20,365.60 657.20,365.99 658.20,366.38 659.20,366.77 660.20,367.16 661.20,367.56 662.20,367.96 663.20,368.37 664.20,368.78 665.20,369.18 666.20,369.58 667.20,369.98 668.20,370.36 669.20,370.72 670.20,371.07 671.20,371.41 672.20,371.74 673.20,372.06 674.20,372.38 675.20,372.68 676.20,372.98 677.20,373.26 678.20,373.52 679.20,373.77 680.20,374.00 681.20,374.23 682.20,374.44 683.20,374.65 684.20,374.85 685.20,375.04 686.20,375.23 687.20,375.42 688.20,375.60 689.20,375.77 690.20,375.94 691.20,376.10 692.20,376.25 693.20,376.40 694.20,376.54 695.20,376.69 696.20,376.83 697.20,376.98 698.20,377.12 699.20,377.27 700.20,377.43 701.20,377.59 702.20,377.76 703.20,377.94 704.20,378.13 705.20,378.32 706.20,378.55 707.20,378.80 708.20,379.07 709.20,379.35 710.20,379.63 711.20,379.90 712.20,380.16 713.20,380.39 714.20,380.60 715.20,380.81 716.20,381.00 717.20,381.19 718.20,381.36 719.20,381.52 720.20,381.66 721.20,381.79 722.20,381.91 723.20,382.02 724.20,382.12 725.20,382.22 726.20,382.31 727.20,382.40 728.20,382.49 729.20,382.58 730.20,382.66 731.20,382.74 732.20,382.83 733.20,382.91 734.20,383.00 735.20,383.09 736.20,383.18 737.20,383.28 738.20,383.39 739.20,383.50 740.20,383.61 741.20,383.73 742.20,383.84 743.20,383.96 744.20,384.08 745.20,384.21 746.20,384.33 747.20,384.46 748.20,384.59 749.20,384.72 750.20,384.85 751.20,384.99 752.20,385.13 753.20,385.27 754.20,385.41 755.20,385.55 756.20,385.69 757.20,385.84 758.20,385.99 759.20,386.14 760.20,386.29 761.20,386.44 762.20,386.60 763.20,386.76 764.20,386.91 765.20,387.07 766.20,387.23 767.20,387.41 768.20,387.62 769.20,387.84 770.20,388.07 771.20,388.31 772.20,388.55 773.20,388.78 774.20,389.01 775.20,389.21 776.20,389.40 777.20,389.56 778.20,389.68 779.20,389.76 780.20,389.80 781.20,389.83 782.20,389.85 783.20,389.87 784.20,389.89 785.20,389.90 786.20,389.92 787.20,389.93 788.20,389.95 789.20,389.96 790.20,389.97 791.20,389.98 792.20,389.99 793.20,390.00 794.20,390.01 795.20,390.01 796.20,390.02 797.20,390.03 798.20,390.04 799.20,390.05 800.20,390.06 801.20,390.06 802.20,390.07 803.20,390.08 804.20,390.10 804.50,390.10 804.50,392.80 805.50,392.81 806.50,392.81 807.50,392.82 808.50,392.82 809.50,392.83 810.50,392.84 811.50,392.84 812.50,392.85 813.50,392.86 814.50,392.86 815.50,392.87 816.50,392.87 817.50,392.88 818.50,392.89 819.50,392.89 820.50,392.90 821.50,392.90 822.50,392.91 823.50,392.92 824.50,392.92 825.50,392.93 826.50,392.94 827.50,392.94 828.50,392.95 829.50,392.95 830.50,392.96 831.50,392.97 832.50,392.97 833.50,392.98 834.50,392.98 835.50,392.99 836.50,393.00 837.00,393.00 837.00,394.90 838.00,394.90 839.00,394.90 840.00,394.90 841.00,394.90 842.00,394.90 843.00,394.90 844.00,394.90 845.00,394.90 846.00,394.90 847.00,394.90 848.00,394.90 849.00,394.90 850.00,394.90 851.00,394.90 852.00,394.90 852.40,394.90 852.40,396.80 853.40,396.80 854.40,396.80 855.40,396.80 856.40,396.80 857.40,396.80 858.40,396.80 859.40,396.80 860.40,396.80 861.40,396.80 862.00,396.80 862.00,397.80 863.00,397.80 864.00,397.80 865.00,397.80 866.00,397.80 867.00,397.80 868.00,397.80 869.00,397.80 870.00,397.80 871.00,397.80 872.00,397.80 873.00,397.80 874.00,397.80 875.00,397.80 876.00,397.80 877.00,397.80 877.00,404.30 876.00,404.30 875.00,404.31 874.00,404.31 873.00,404.31 872.00,404.32 871.00,404.32 870.00,404.33 869.00,404.33 868.00,404.33 867.00,404.34 866.00,404.34 865.00,404.34 864.00,404.35 863.00,404.35 862.00,404.35 862.00,403.35 861.40,403.36 860.40,403.36 859.40,403.36 858.40,403.37 857.40,403.37 856.40,403.38 855.40,403.38 854.40,403.38 853.40,403.39 852.40,403.39 852.40,401.49 852.00,401.49 851.00,401.49 850.00,401.50 849.00,401.50 848.00,401.51 847.00,401.51 846.00,401.51 845.00,401.52 844.00,401.52 843.00,401.52 842.00,401.53 841.00,401.53 840.00,401.54 839.00,401.54 838.00,401.54 837.00,401.55 837.00,399.65 836.50,399.64 835.50,399.64 834.50,399.64 833.50,399.64 832.50,399.63 831.50,399.63 830.50,399.63 829.50,399.63 828.50,399.62 827.50,399.62 826.50,399.62 825.50,399.62 824.50,399.61 823.50,399.61 822.50,399.61 821.50,399.61 820.50,399.60 819.50,399.60 818.50,399.60 817.50,399.60 816.50,399.59 815.50,399.59 814.50,399.59 813.50,399.59 812.50,399.58 811.50,399.58 810.50,399.58 809.50,399.58 808.50,399.57 807.50,399.57 806.50,399.57 805.50,399.57 804.50,399.56 804.50,396.86 804.20,396.86 803.20,396.85 802.20,396.85 801.20,396.84 800.20,396.84 799.20,396.83 798.20,396.83 797.20,396.82 796.20,396.82 795.20,396.81 794.20,396.81 793.20,396.80 792.20,396.80 791.20,396.79 790.20,396.79 789.20,396.78 788.20,396.77 787.20,396.76 786.20,396.75 785.20,396.74 784.20,396.73 783.20,396.71 782.20,396.70 781.20,396.68 780.20,396.66 779.20,396.62 778.20,396.54 777.20,396.42 776.20,396.27 775.20,396.09 774.20,395.88 773.20,395.66 772.20,395.43 771.20,395.20 770.20,394.96 769.20,394.73 768.20,394.51 767.20,394.31 766.20,394.14 765.20,393.98 764.20,393.82 763.20,393.67 762.20,393.52 761.20,393.37 760.20,393.22 759.20,393.07 758.20,392.92 757.20,392.78 756.20,392.64 755.20,392.49 754.20,392.35 753.20,392.22 752.20,392.08 751.20,391.95 750.20,391.82 749.20,391.69 748.20,391.56 747.20,391.43 746.20,391.31 745.20,391.19 744.20,391.07 743.20,390.95 742.20,390.83 741.20,390.72 740.20,390.61 739.20,390.50 738.20,390.40 737.20,390.30 736.20,390.21 735.20,390.12 734.20,390.04 733.20,389.96 732.20,389.88 731.20,389.80 730.20,389.73 729.20,389.65 728.20,389.57 727.20,389.49 726.20,389.41 725.20,389.32 724.20,389.23 723.20,389.13 722.20,389.02 721.20,388.91 720.20,388.79 719.20,388.66 718.20,388.51 717.20,388.34 716.20,388.16 715.20,387.97 714.20,387.77 713.20,387.57 712.20,387.34 711.20,387.10 710.20,386.83 709.20,386.56 708.20,386.28 707.20,386.02 706.20,385.78 705.20,385.56 704.20,385.36 703.20,385.18 702.20,385.01 701.20,384.85 700.20,384.70 699.20,384.55 698.20,384.40 697.20,384.26 696.20,384.12 695.20,383.99 694.20,383.85 693.20,383.71 692.20,383.57 691.20,383.42 690.20,383.27 689.20,383.11 688.20,382.94 687.20,382.77 686.20,382.59 685.20,382.41 684.20,382.22 683.20,382.03 682.20,381.83 681.20,381.62 680.20,381.40 679.20,381.17 678.20,380.93 677.20,380.67 676.20,380.40 675.20,380.12 674.20,379.82 673.20,379.51 672.20,379.19 671.20,378.87 670.20,378.53 669.20,378.19 668.20,377.84 667.20,377.46 666.20,377.08 665.20,376.68 664.20,376.28 663.20,375.88 662.20,375.48 661.20,375.08 660.20,374.69 659.20,374.31 658.20,373.93 657.20,373.55 656.20,373.16 655.20,372.77 654.20,372.37 653.20,371.95 652.20,371.53 651.20,371.08 650.20,370.61 649.20,370.11 648.20,369.59 647.20,369.06 646.20,368.53 645.20,367.99 644.20,367.46 643.20,366.93 642.20,366.42 641.20,365.93 640.20,365.44 639.20,364.94 638.20,364.42 637.20,363.88 636.20,363.28 635.20,362.65 634.20,361.98 633.20,361.28 632.20,360.54 631.20,359.75 630.20,358.92 629.20,358.03 628.20,357.08 627.20,356.05 626.20,354.82 625.20,353.40 624.20,351.88 623.20,350.36 622.20,348.92 621.20,347.65 620.20,346.55 619.20,345.53 618.20,344.56 617.20,343.61 616.20,342.65 615.20,341.66 614.20,340.61 613.20,339.55 612.20,338.48 611.20,337.40 610.20,336.29 609.20,335.17 608.20,334.02 607.20,332.85 606.20,331.64 605.20,330.42 604.20,329.19 603.20,327.95 602.20,326.73 601.20,325.51 600.20,324.27 599.20,323.03 598.20,321.79 597.20,320.56 596.20,319.36 595.20,318.20 594.20,317.10 593.20,316.03 592.20,314.99 591.20,313.98 590.20,312.99 589.20,312.02 588.20,311.06 587.20,310.11 586.20,309.20 585.20,308.30 584.20,307.42 583.20,306.54 582.20,305.66 581.20,304.77 580.20,303.86 579.20,302.94 578.20,302.02 577.20,301.09 576.20,300.16 575.20,299.23 574.20,298.31 573.20,297.41 572.20,296.53 571.20,295.64 570.20,294.70 569.20,293.46 568.20,291.99 567.20,290.51 566.20,289.17 565.20,288.15 564.20,287.46 563.20,286.83 562.20,286.28 561.20,285.81 560.20,285.46 559.20,285.19 558.20,284.94 557.20,284.71 556.20,284.48 555.20,284.24" fill="#F6BBB5" opacity="0.8"/>
<polygon points="555.20,284.16 556.20,284.30 557.20,284.40 558.20,284.53 559.20,284.74 560.20,285.09 561.20,285.96 562.20,287.33 563.20,288.98 564.20,290.72 565.20,292.32 566.20,293.66 567.20,294.92 568.20,296.15 569.20,297.35 570.20,298.57 571.20,299.96 572.20,301.35 573.20,302.76 574.20,304.21 575.20,305.70 576.20,307.21 577.20,308.74 578.20,310.26 579.20,311.77 580.20,313.26 581.20,314.71 582.20,316.13 583.20,317.53 584.20,318.92 585.20,320.29 586.20,321.67 587.20,323.05 588.20,324.44 589.20,325.82 590.20,327.18 591.20,328.54 592.20,329.92 593.20,331.34 594.20,332.79 595.20,334.34 596.20,336.05 597.20,337.80 598.20,339.43 599.20,340.80 600.20,341.99 601.20,343.08 602.20,344.10 603.20,345.07 604.20,346.02 605.20,346.98 606.20,347.98 607.20,348.98 608.20,349.98 609.20,350.98 610.20,351.96 611.20,352.95 612.20,353.94 613.20,354.93 614.20,355.93 615.20,356.93 616.20,357.93 617.20,358.93 618.20,359.93 619.20,360.92 620.20,361.90 621.20,362.88 622.20,363.90 623.20,364.91 624.20,365.83 625.20,366.60 626.20,367.27 627.20,367.89 628.20,368.47 629.20,369.01 630.20,369.52 631.20,370.01 632.20,370.48 633.20,370.94 634.20,371.39 635.20,371.81 636.20,372.20 637.20,372.57 638.20,372.93 639.20,373.28 640.20,373.65 641.20,374.04 642.20,374.47 643.20,374.94 644.20,375.53 645.20,376.20 646.20,376.93 647.20,377.65 648.20,378.32 649.20,378.90 650.20,379.34 651.20,379.67 652.20,379.95 653.20,380.20 654.20,380.41 655.20,380.61 656.20,380.81 657.20,381.01 658.20,381.22 659.20,381.46 660.20,381.74 661.20,382.07 662.20,382.47 663.20,382.94 664.20,383.45 665.20,383.99 666.20,384.54 667.20,385.08 668.20,385.59 669.20,386.19 670.20,386.80 671.20,387.24 672.20,387.36 673.20,387.41 674.20,387.46 675.20,387.50 676.20,387.54 677.20,387.57 678.20,387.59 679.20,387.62 680.20,387.64 681.20,387.65 682.20,387.67 683.20,387.68 684.20,387.69 685.20,387.70 686.20,387.71 687.20,387.73 688.20,387.74 689.20,387.75 690.20,387.77 691.20,387.79 692.20,387.80 693.20,387.82 694.20,387.84 695.20,387.86 696.20,387.88 697.20,387.89 698.20,387.91 699.20,387.93 700.20,387.95 701.20,387.96 702.20,387.98 703.20,388.00 704.20,388.02 705.20,388.04 706.20,388.05 707.20,388.07 708.20,388.09 709.20,388.11 710.20,388.12 711.20,388.14 712.20,388.16 713.20,388.17 714.20,388.19 715.20,388.21 716.20,388.23 717.20,388.24 718.20,388.26 719.20,388.28 720.20,388.29 721.20,388.31 722.20,388.32 723.20,388.34 724.20,388.35 725.20,388.37 726.20,388.38 727.20,388.40 728.20,388.41 729.20,388.43 730.20,388.44 731.20,388.46 732.20,388.47 733.20,388.48 734.20,388.50 735.20,388.51 736.20,388.52 737.20,388.53 738.20,388.54 739.20,388.56 740.20,388.57 741.20,388.58 742.20,388.60 743.20,388.61 744.20,388.62 745.20,388.63 746.20,388.65 747.20,388.66 748.20,388.67 749.20,388.68 750.20,388.69 751.20,388.70 752.20,388.71 753.20,388.72 754.20,388.73 755.20,388.74 756.20,388.75 757.20,388.75 758.20,388.76 759.20,388.77 760.20,388.77 761.20,388.78 762.20,388.78 763.20,388.79 764.20,388.79 765.20,388.79 766.20,388.80 767.20,388.80 768.20,388.80 769.20,388.80 770.20,388.80 771.20,388.80 772.20,388.80 773.20,388.80 774.20,388.80 775.20,388.80 776.20,388.80 777.20,388.80 778.20,388.80 779.20,388.80 780.20,388.80 781.20,388.80 782.20,388.80 783.20,388.80 784.20,388.80 785.20,388.80 786.20,388.80 787.20,388.80 788.20,388.80 789.20,388.80 790.20,388.80 791.20,388.80 792.20,388.80 793.20,388.80 794.20,388.80 795.20,388.80 796.20,388.80 797.20,388.80 798.20,388.80 799.20,388.80 800.20,388.80 801.20,388.80 802.20,388.80 803.20,388.80 804.20,388.80 805.20,388.80 806.20,388.80 807.20,388.80 808.20,388.80 809.20,388.80 810.20,388.80 811.20,388.80 812.20,388.80 813.20,388.80 814.20,388.80 815.20,388.80 816.20,388.80 817.20,388.80 818.20,388.80 819.20,388.80 820.20,388.80 821.20,388.80 822.20,388.80 823.20,388.80 824.20,388.80 825.20,388.80 826.20,388.80 827.20,388.80 828.20,388.80 829.20,388.80 830.20,388.80 831.20,388.80 832.20,388.80 833.20,388.80 834.20,388.60 835.00,387.80 835.00,390.70 836.00,389.70 837.00,389.70 838.00,389.70 839.00,389.70 840.00,389.70 841.00,389.70 842.00,389.70 843.00,389.70 844.00,389.70 845.00,389.70 846.00,389.70 847.00,389.70 848.00,389.70 849.00,389.70 850.00,389.70 851.00,389.70 852.00,389.70 853.00,389.70 854.00,389.70 855.00,389.70 856.00,389.70 857.00,389.70 858.00,389.70 859.00,389.70 860.00,389.70 861.00,389.70 862.00,389.70 863.00,389.70 864.00,389.70 865.00,389.70 866.00,389.70 867.00,389.70 868.00,389.70 869.00,389.70 870.00,389.70 871.00,389.70 872.00,389.70 873.00,389.70 874.00,389.70 875.00,389.70 876.00,389.70 877.00,389.70 877.00,399.30 876.00,399.30 875.00,399.30 874.00,399.30 873.00,399.30 872.00,399.30 871.00,399.30 870.00,399.30 869.00,399.30 868.00,399.30 867.00,399.30 866.00,399.30 865.00,399.30 864.00,399.30 863.00,399.30 862.00,399.30 861.00,399.30 860.00,399.30 859.00,399.30 858.00,399.30 857.00,399.30 856.00,399.30 855.00,399.30 854.00,399.30 853.00,399.30 852.00,399.30 851.00,399.30 850.00,399.30 849.00,399.30 848.00,399.30 847.00,399.30 846.00,399.30 845.00,399.30 844.00,399.30 843.00,399.30 842.00,399.30 841.00,399.30 840.00,399.30 839.00,399.30 838.00,399.30 837.00,399.30 836.00,399.30 835.00,399.35 835.00,396.45 834.20,396.49 833.20,396.50 832.20,396.50 831.20,396.50 830.20,396.50 829.20,396.50 828.20,396.50 827.20,396.50 826.20,396.50 825.20,396.50 824.20,396.50 823.20,396.50 822.20,396.50 821.20,396.50 820.20,396.50 819.20,396.50 818.20,396.50 817.20,396.50 816.20,396.50 815.20,396.50 814.20,396.50 813.20,396.50 812.20,396.50 811.20,396.50 810.20,396.50 809.20,396.50 808.20,396.50 807.20,396.50 806.20,396.50 805.20,396.50 804.20,396.50 803.20,396.50 802.20,396.50 801.20,396.50 800.20,396.50 799.20,396.50 798.20,396.50 797.20,396.50 796.20,396.50 795.20,396.50 794.20,396.50 793.20,396.50 792.20,396.50 791.20,396.50 790.20,396.50 789.20,396.50 788.20,396.50 787.20,396.50 786.20,396.50 785.20,396.50 784.20,396.50 783.20,396.50 782.20,396.50 781.20,396.50 780.20,396.50 779.20,396.50 778.20,396.50 777.20,396.50 776.20,396.50 775.20,396.50 774.20,396.50 773.20,396.50 772.20,396.50 771.20,396.50 770.20,396.50 769.20,396.50 768.20,396.50 767.20,396.50 766.20,396.50 765.20,396.49 764.20,396.49 763.20,396.49 762.20,396.48 761.20,396.48 760.20,396.47 759.20,396.47 758.20,396.46 757.20,396.45 756.20,396.45 755.20,396.44 754.20,396.43 753.20,396.42 752.20,396.41 751.20,396.40 750.20,396.39 749.20,396.38 748.20,396.37 747.20,396.36 746.20,396.35 745.20,396.33 744.20,396.32 743.20,396.31 742.20,396.30 741.20,396.28 740.20,396.27 739.20,396.25 738.20,396.23 737.20,396.21 736.20,396.19 735.20,396.17 734.20,396.15 733.20,396.13 732.20,396.11 731.20,396.09 730.20,396.07 729.20,396.04 728.20,396.02 727.20,396.00 726.20,395.98 725.20,395.95 724.20,395.93 723.20,395.91 722.20,395.88 721.20,395.86 720.20,395.84 719.20,395.81 718.20,395.79 717.20,395.76 716.20,395.74 715.20,395.72 714.20,395.69 713.20,395.67 712.20,395.64 711.20,395.62 710.20,395.59 709.20,395.57 708.20,395.54 707.20,395.52 706.20,395.49 705.20,395.46 704.20,395.44 703.20,395.41 702.20,395.39 701.20,395.36 700.20,395.34 699.20,395.31 698.20,395.29 697.20,395.26 696.20,395.23 695.20,395.21 694.20,395.18 693.20,395.16 692.20,395.13 691.20,395.11 690.20,395.08 689.20,395.06 688.20,395.04 687.20,395.02 686.20,395.00 685.20,394.98 684.20,394.96 683.20,394.94 682.20,394.92 681.20,394.90 680.20,394.87 679.20,394.84 678.20,394.81 677.20,394.78 676.20,394.74 675.20,394.70 674.20,394.65 673.20,394.59 672.20,394.53 671.20,394.41 670.20,393.96 669.20,393.34 668.20,392.73 667.20,392.21 666.20,391.66 665.20,391.11 664.20,390.56 663.20,390.04 662.20,389.57 661.20,389.16 660.20,388.82 659.20,388.53 658.20,388.28 657.20,388.06 656.20,387.85 655.20,387.65 654.20,387.44 653.20,387.22 652.20,386.97 651.20,386.68 650.20,386.34 649.20,385.89 648.20,385.30 647.20,384.62 646.20,383.88 645.20,383.14 644.20,382.45 643.20,381.86 642.20,381.37 641.20,380.93 640.20,380.53 639.20,380.15 638.20,379.78 637.20,379.41 636.20,379.03 635.20,378.63 634.20,378.19 633.20,377.73 632.20,377.25 631.20,376.77 630.20,376.27 629.20,375.75 628.20,375.19 627.20,374.60 626.20,373.97 625.20,373.29 624.20,372.51 623.20,371.57 622.20,370.56 621.20,369.52 620.20,368.52 619.20,367.53 618.20,366.53 617.20,365.52 616.20,364.51 615.20,363.49 614.20,362.48 613.20,361.47 612.20,360.47 611.20,359.47 610.20,358.47 609.20,357.47 608.20,356.46 607.20,355.45 606.20,354.43 605.20,353.42 604.20,352.45 603.20,351.48 602.20,350.50 601.20,349.47 600.20,348.37 599.20,347.17 598.20,345.78 597.20,344.14 596.20,342.37 595.20,340.65 594.20,339.10 593.20,337.63 592.20,336.20 591.20,334.81 590.20,333.43 589.20,332.06 588.20,330.67 587.20,329.27 586.20,327.87 585.20,326.48 584.20,325.09 583.20,323.69 582.20,322.28 581.20,320.85 580.20,319.39 579.20,317.89 578.20,316.36 577.20,314.83 576.20,313.29 575.20,311.77 574.20,310.27 573.20,308.80 572.20,307.38 571.20,305.97 570.20,304.58 569.20,303.03 568.20,301.43 567.20,299.80 566.20,298.14 565.20,296.40 564.20,294.40 563.20,292.26 562.20,290.21 561.20,288.44 560.20,287.17 559.20,286.42 558.20,285.81 557.20,285.28 556.20,284.78 555.20,284.24" fill="#A3DDAE" opacity="0.8"/>
<polygon points="555.20,284.14 556.20,284.35 557.20,284.49 558.20,284.68 559.20,285.03 560.20,285.69 561.20,287.78 562.20,290.86 563.20,293.84 564.20,297.02 565.20,299.82 566.20,302.42 567.20,304.75 568.20,306.64 569.20,307.99 570.20,308.98 571.20,309.93 572.20,311.19 573.20,313.27 574.20,316.36 575.20,319.40 576.20,321.84 577.20,324.13 578.20,326.28 579.20,328.34 580.20,330.34 581.20,332.28 582.20,334.15 583.20,335.91 584.20,337.55 585.20,339.08 586.20,340.57 587.20,342.00 588.20,343.37 589.20,344.68 590.20,345.96 591.20,347.20 592.20,348.42 593.20,349.60 594.20,350.74 595.20,351.85 596.20,352.93 597.20,353.98 598.20,355.01 599.20,356.01 600.20,356.98 601.20,357.90 602.20,358.78 603.20,359.64 604.20,360.48 605.20,361.27 606.20,362.03 607.20,362.75 608.20,363.43 609.20,364.08 610.20,364.72 611.20,365.35 612.20,365.98 613.20,366.63 614.20,367.29 615.20,367.97 616.20,368.65 617.20,369.32 618.20,369.99 619.20,370.64 620.20,371.26 621.20,371.86 622.20,372.46 623.20,373.04 624.20,373.56 625.20,374.04 626.20,374.73 627.20,375.38 628.20,375.99 629.20,376.58 630.20,377.15 631.20,377.72 632.20,378.29 633.20,378.86 634.20,379.46 635.20,380.06 636.20,380.67 637.20,381.27 638.20,381.87 639.20,382.47 640.20,383.08 641.20,383.68 642.20,384.29 643.20,384.90 644.20,385.57 645.20,386.27 646.20,386.95 647.20,387.55 648.20,388.00 649.20,388.26 650.20,388.40 651.20,388.41 652.20,388.41 653.20,388.42 654.20,388.42 655.20,388.43 656.20,388.44 657.20,388.44 658.20,388.45 659.20,388.45 660.20,388.46 661.20,388.46 662.20,388.46 663.20,388.47 664.20,388.47 665.20,388.48 666.20,388.48 667.20,388.48 668.20,388.49 669.20,388.49 670.20,388.49 671.20,388.50 672.20,388.50 673.20,388.50 674.20,388.51 675.20,388.51 676.20,388.51 677.20,388.51 678.20,388.52 679.20,388.52 680.20,388.52 681.20,388.52 682.20,388.53 683.20,388.53 684.20,388.53 685.20,388.53 686.20,388.53 687.20,388.53 688.20,388.54 689.20,388.54 690.20,388.54 691.20,388.54 692.20,388.54 693.20,388.54 694.20,388.54 695.20,388.55 696.20,388.55 697.20,388.55 698.20,388.55 699.20,388.55 700.20,388.55 701.20,388.55 702.20,388.55 703.20,388.55 704.20,388.56 705.20,388.56 706.20,388.56 707.20,388.56 708.20,388.56 709.20,388.56 710.20,388.56 711.20,388.56 712.20,388.56 713.20,388.56 714.20,388.56 715.20,388.72 716.20,389.37 717.20,389.37 718.20,389.37 719.20,389.37 720.20,389.37 721.20,389.37 722.20,389.37 723.20,389.37 724.20,389.37 725.20,389.38 726.20,389.38 727.20,389.38 728.20,389.38 729.20,389.38 730.20,389.38 731.20,389.38 732.20,389.38 733.20,389.39 734.20,389.39 735.20,389.39 736.20,389.39 737.20,389.39 738.20,389.40 739.20,389.40 740.20,389.40 740.20,401.40 739.20,401.40 738.20,401.40 737.20,401.39 736.20,401.39 735.20,401.39 734.20,401.39 733.20,401.39 732.20,401.38 731.20,401.38 730.20,401.38 729.20,401.38 728.20,401.38 727.20,401.38 726.20,401.38 725.20,401.38 724.20,401.37 723.20,401.37 722.20,401.37 721.20,401.37 720.20,401.37 719.20,401.37 718.20,401.37 717.20,401.37 716.20,401.37 715.20,399.76 714.20,399.36 713.20,399.36 712.20,399.36 711.20,399.36 710.20,399.36 709.20,399.36 708.20,399.36 707.20,399.36 706.20,399.36 705.20,399.36 704.20,399.36 703.20,399.35 702.20,399.35 701.20,399.35 700.20,399.35 699.20,399.35 698.20,399.35 697.20,399.35 696.20,399.35 695.20,399.35 694.20,399.34 693.20,399.34 692.20,399.34 691.20,399.34 690.20,399.34 689.20,399.34 688.20,399.34 687.20,399.33 686.20,399.33 685.20,399.33 684.20,399.33 683.20,399.33 682.20,399.33 681.20,399.32 680.20,399.32 679.20,399.32 678.20,399.32 677.20,399.31 676.20,399.31 675.20,399.31 674.20,399.31 673.20,399.30 672.20,399.30 671.20,399.30 670.20,399.29 669.20,399.29 668.20,399.29 667.20,399.28 666.20,399.28 665.20,399.28 664.20,399.27 663.20,399.27 662.20,399.26 661.20,399.26 660.20,399.26 659.20,399.25 658.20,399.25 657.20,399.24 656.20,399.24 655.20,399.23 654.20,399.22 653.20,399.22 652.20,399.21 651.20,399.21 650.20,399.20 649.20,399.34 648.20,399.43 647.20,399.34 646.20,399.09 645.20,398.77 644.20,398.42 643.20,398.11 642.20,397.86 641.20,397.61 640.20,397.36 639.20,397.11 638.20,396.86 637.20,396.62 636.20,396.37 635.20,396.13 634.20,395.88 633.20,395.64 632.20,395.42 631.20,395.21 630.20,395.00 629.20,394.78 628.20,394.55 627.20,394.30 626.20,394.01 625.20,393.67 624.20,393.19 623.20,392.59 622.20,391.93 621.20,391.24 620.20,390.56 619.20,389.85 618.20,389.12 617.20,388.37 616.20,387.61 615.20,386.84 614.20,386.08 613.20,385.33 612.20,384.60 611.20,383.89 610.20,383.18 609.20,382.46 608.20,381.72 607.20,380.96 606.20,380.15 605.20,379.31 604.20,378.43 603.20,377.51 602.20,376.57 601.20,375.60 600.20,374.60 599.20,373.37 598.20,372.06 597.20,370.73 596.20,369.37 595.20,367.98 594.20,366.56 593.20,365.11 592.20,363.62 591.20,362.10 590.20,360.55 589.20,358.97 588.20,357.35 587.20,355.67 586.20,353.94 585.20,352.14 584.20,350.27 583.20,348.28 582.20,346.17 581.20,343.95 580.20,341.66 579.20,339.31 578.20,336.90 577.20,334.40 576.20,331.76 575.20,328.97 574.20,325.58 573.20,322.14 572.20,319.71 571.20,318.10 570.20,316.80 569.20,315.46 568.20,313.76 567.20,311.52 566.20,308.84 565.20,305.89 564.20,302.54 563.20,298.76 562.20,295.18 561.20,291.50 560.20,288.81 559.20,287.55 558.20,286.60 557.20,285.81 556.20,285.07 555.20,284.26" fill="#BBD2F4" opacity="0.8"/>
<polyline points="555.20,284.20 556.20,284.24 557.20,284.27 558.20,284.30 559.20,284.35 560.20,284.42 561.20,284.57 562.20,284.84 563.20,285.19 564.20,285.62 565.20,286.11 566.20,286.93 567.20,288.07 568.20,289.35 569.20,290.62 570.20,291.70 571.20,292.63 572.20,293.51 573.20,294.38 574.20,295.27 575.20,296.18 576.20,297.10 577.20,298.02 578.20,298.93 579.20,299.85 580.20,300.76 581.20,301.66 582.20,302.54 583.20,303.41 584.20,304.28 585.20,305.15 586.20,306.04 587.20,306.94 588.20,307.88 589.20,308.83 590.20,309.79 591.20,310.77 592.20,311.77 593.20,312.80 594.20,313.86 595.20,314.95 596.20,316.10 597.20,317.29 598.20,318.50 599.20,319.74 600.20,320.97 601.20,322.20 602.20,323.40 603.20,324.62 604.20,325.84 605.20,327.07 606.20,328.28 607.20,329.47 608.20,330.64 609.20,331.78 610.20,332.89 611.20,333.98 612.20,335.06 613.20,336.12 614.20,337.17 615.20,338.21 616.20,339.19 617.20,340.14 618.20,341.08 619.20,342.04 620.20,343.05 621.20,344.14 622.20,345.40 623.20,346.83 624.20,348.34 625.20,349.85 626.20,351.26 627.20,352.48 628.20,353.50 629.20,354.43 630.20,355.31 631.20,356.14 632.20,356.92 633.20,357.65 634.20,358.34 635.20,359.00 636.20,359.62 637.20,360.20 638.20,360.74 639.20,361.25 640.20,361.73 641.20,362.21 642.20,362.70 643.20,363.20 644.20,363.72 645.20,364.24 646.20,364.77 647.20,365.29 648.20,365.81 649.20,366.31 650.20,366.81 651.20,367.28 652.20,367.73 653.20,368.17 654.20,368.58 655.20,368.99 656.20,369.38 657.20,369.77 658.20,370.15 659.20,370.54 660.20,370.93 661.20,371.32 662.20,371.72 663.20,372.12 664.20,372.53 665.20,372.93 666.20,373.33 667.20,373.72 668.20,374.10 669.20,374.46 670.20,374.80 671.20,375.14 672.20,375.46 673.20,375.79 674.20,376.10 675.20,376.40 676.20,376.69 677.20,376.97 678.20,377.23 679.20,377.47 680.20,377.70 681.20,377.93 682.20,378.14 683.20,378.34 684.20,378.54 685.20,378.73 686.20,378.91 687.20,379.09 688.20,379.27 689.20,379.44 690.20,379.60 691.20,379.76 692.20,379.91 693.20,380.05 694.20,380.20 695.20,380.34 696.20,380.48 697.20,380.62 698.20,380.76 699.20,380.91 700.20,381.06 701.20,381.22 702.20,381.39 703.20,381.56 704.20,381.74 705.20,381.94 706.20,382.16 707.20,382.41 708.20,382.68 709.20,382.95 710.20,383.23 711.20,383.50 712.20,383.75 713.20,383.98 714.20,384.19 715.20,384.39 716.20,384.58 717.20,384.77 718.20,384.94 719.20,385.09 720.20,385.23 721.20,385.35 722.20,385.46 723.20,385.57 724.20,385.67 725.20,385.77 726.20,385.86 727.20,385.95 728.20,386.03 729.20,386.11 730.20,386.19 731.20,386.27 732.20,386.35 733.20,386.44 734.20,386.52 735.20,386.61 736.20,386.70 737.20,386.79 738.20,386.89 739.20,387.00 740.20,387.11 741.20,387.23 742.20,387.34 743.20,387.46 744.20,387.58 745.20,387.71 746.20,387.83 747.20,387.96 748.20,388.09 749.20,388.22 750.20,388.35 751.20,388.49 752.20,388.63 753.20,388.77 754.20,388.91 755.20,389.05 756.20,389.19 757.20,389.34 758.20,389.49 759.20,389.64 760.20,389.79 761.20,389.94 762.20,390.10 763.20,390.26 764.20,390.41 765.20,390.57 766.20,390.73 767.20,390.91 768.20,391.12 769.20,391.34 770.20,391.57 771.20,391.81 772.20,392.05 773.20,392.28 774.20,392.51 775.20,392.71 776.20,392.90 777.20,393.06 778.20,393.18 779.20,393.26 780.20,393.30 781.20,393.33 782.20,393.35 783.20,393.37 784.20,393.39 785.20,393.40 786.20,393.42 787.20,393.43 788.20,393.45 789.20,393.46 790.20,393.47 791.20,393.48 792.20,393.49 793.20,393.50 794.20,393.51 795.20,393.51 796.20,393.52 797.20,393.53 798.20,393.54 799.20,393.55 800.20,393.56 801.20,393.56 802.20,393.57 803.20,393.58 804.20,393.60 804.50,393.60 804.50,396.30 805.50,396.31 806.50,396.31 807.50,396.32 808.50,396.32 809.50,396.33 810.50,396.34 811.50,396.34 812.50,396.35 813.50,396.36 814.50,396.36 815.50,396.37 816.50,396.37 817.50,396.38 818.50,396.39 819.50,396.39 820.50,396.40 821.50,396.40 822.50,396.41 823.50,396.42 824.50,396.42 825.50,396.43 826.50,396.44 827.50,396.44 828.50,396.45 829.50,396.45 830.50,396.46 831.50,396.47 832.50,396.47 833.50,396.48 834.50,396.48 835.50,396.49 836.50,396.50 837.00,396.50 837.00,398.40 838.00,398.40 839.00,398.40 840.00,398.40 841.00,398.40 842.00,398.40 843.00,398.40 844.00,398.40 845.00,398.40 846.00,398.40 847.00,398.40 848.00,398.40 849.00,398.40 850.00,398.40 851.00,398.40 852.00,398.40 852.40,398.40 852.40,400.30 853.40,400.30 854.40,400.30 855.40,400.30 856.40,400.30 857.40,400.30 858.40,400.30 859.40,400.30 860.40,400.30 861.40,400.30 862.00,400.30 862.00,401.30 863.00,401.30 864.00,401.30 865.00,401.30 866.00,401.30 867.00,401.30 868.00,401.30 869.00,401.30 870.00,401.30 871.00,401.30 872.00,401.30 873.00,401.30 874.00,401.30 875.00,401.30 876.00,401.30 877.00,401.30 877.40,401.30 877.40,404.00" fill="none" stroke="#E36D68" stroke-width="2.3" stroke-linejoin="round"/>
<polyline points="555.20,284.20 556.20,284.54 557.20,284.84 558.20,285.17 559.20,285.58 560.20,286.13 561.20,287.20 562.20,288.77 563.20,290.62 564.20,292.56 565.20,294.36 566.20,295.90 567.20,297.36 568.20,298.79 569.20,300.19 570.20,301.58 571.20,302.96 572.20,304.36 573.20,305.78 574.20,307.24 575.20,308.73 576.20,310.25 577.20,311.78 578.20,313.31 579.20,314.83 580.20,316.32 581.20,317.78 582.20,319.21 583.20,320.61 584.20,322.00 585.20,323.39 586.20,324.77 587.20,326.16 588.20,327.56 589.20,328.94 590.20,330.31 591.20,331.68 592.20,333.06 593.20,334.48 594.20,335.95 595.20,337.49 596.20,339.21 597.20,340.97 598.20,342.61 599.20,343.98 600.20,345.18 601.20,346.28 602.20,347.30 603.20,348.28 604.20,349.23 605.20,350.20 606.20,351.20 607.20,352.22 608.20,353.22 609.20,354.22 610.20,355.22 611.20,356.21 612.20,357.20 613.20,358.20 614.20,359.20 615.20,360.21 616.20,361.22 617.20,362.22 618.20,363.23 619.20,364.22 620.20,365.21 621.20,366.20 622.20,367.23 623.20,368.24 624.20,369.17 625.20,369.94 626.20,370.62 627.20,371.25 628.20,371.83 629.20,372.38 630.20,372.90 631.20,373.39 632.20,373.87 633.20,374.33 634.20,374.79 635.20,375.22 636.20,375.62 637.20,375.99 638.20,376.35 639.20,376.72 640.20,377.09 641.20,377.49 642.20,377.92 643.20,378.40 644.20,378.99 645.20,379.67 646.20,380.40 647.20,381.13 648.20,381.81 649.20,382.40 650.20,382.84 651.20,383.17 652.20,383.46 653.20,383.71 654.20,383.93 655.20,384.13 656.20,384.33 657.20,384.53 658.20,384.75 659.20,384.99 660.20,385.27 661.20,385.61 662.20,386.01 663.20,386.48 664.20,387.00 665.20,387.54 666.20,388.09 667.20,388.63 668.20,389.15 669.20,389.75 670.20,390.37 671.20,390.81 672.20,390.93 673.20,390.99 674.20,391.04 675.20,391.09 676.20,391.12 677.20,391.16 678.20,391.19 679.20,391.22 680.20,391.24 681.20,391.26 682.20,391.28 683.20,391.29 684.20,391.31 685.20,391.32 686.20,391.34 687.20,391.35 688.20,391.37 689.20,391.38 690.20,391.40 691.20,391.42 692.20,391.45 693.20,391.47 694.20,391.49 695.20,391.51 696.20,391.53 697.20,391.55 698.20,391.57 699.20,391.59 700.20,391.61 701.20,391.63 702.20,391.66 703.20,391.68 704.20,391.70 705.20,391.72 706.20,391.74 707.20,391.76 708.20,391.78 709.20,391.80 710.20,391.82 711.20,391.84 712.20,391.86 713.20,391.89 714.20,391.91 715.20,391.93 716.20,391.95 717.20,391.97 718.20,391.99 719.20,392.01 720.20,392.03 721.20,392.04 722.20,392.06 723.20,392.08 724.20,392.10 725.20,392.12 726.20,392.14 727.20,392.16 728.20,392.17 729.20,392.19 730.20,392.21 731.20,392.23 732.20,392.24 733.20,392.26 734.20,392.28 735.20,392.29 736.20,392.31 737.20,392.32 738.20,392.34 739.20,392.35 740.20,392.37 741.20,392.38 742.20,392.40 743.20,392.41 744.20,392.42 745.20,392.43 746.20,392.45 747.20,392.46 748.20,392.47 749.20,392.48 750.20,392.49 751.20,392.50 752.20,392.51 753.20,392.52 754.20,392.53 755.20,392.54 756.20,392.55 757.20,392.55 758.20,392.56 759.20,392.57 760.20,392.57 761.20,392.58 762.20,392.58 763.20,392.59 764.20,392.59 765.20,392.59 766.20,392.60 767.20,392.60 768.20,392.60 769.20,392.60 770.20,392.60 771.20,392.60 772.20,392.60 773.20,392.60 774.20,392.60 775.20,392.60 776.20,392.60 777.20,392.60 778.20,392.60 779.20,392.60 780.20,392.60 781.20,392.60 782.20,392.60 783.20,392.60 784.20,392.60 785.20,392.60 786.20,392.60 787.20,392.60 788.20,392.60 789.20,392.60 790.20,392.60 791.20,392.60 792.20,392.60 793.20,392.60 794.20,392.60 795.20,392.60 796.20,392.60 797.20,392.60 798.20,392.60 799.20,392.60 800.20,392.60 801.20,392.60 802.20,392.60 803.20,392.60 804.20,392.60 805.20,392.60 806.20,392.60 807.20,392.60 808.20,392.60 809.20,392.60 810.20,392.60 811.20,392.60 812.20,392.60 813.20,392.60 814.20,392.60 815.20,392.60 816.20,392.60 817.20,392.60 818.20,392.60 819.20,392.60 820.20,392.60 821.20,392.60 822.20,392.60 823.20,392.60 824.20,392.60 825.20,392.60 826.20,392.60 827.20,392.60 828.20,392.60 829.20,392.60 830.20,392.60 831.20,392.60 832.20,392.60 833.20,392.60 834.20,392.60 835.00,392.60 835.00,395.50 836.00,395.50 837.00,395.50 838.00,395.50 839.00,395.50 840.00,395.50 841.00,395.50 842.00,395.50 843.00,395.50 844.00,395.50 845.00,395.50 846.00,395.50 847.00,395.50 848.00,395.50 849.00,395.50 850.00,395.50 851.00,395.50 852.00,395.50 853.00,395.50 854.00,395.50 855.00,395.50 856.00,395.50 857.00,395.50 858.00,395.50 859.00,395.50 860.00,395.50 861.00,395.50 862.00,395.50 863.00,395.50 864.00,395.50 865.00,395.50 866.00,395.50 867.00,395.50 868.00,395.50 869.00,395.50 870.00,395.50 871.00,395.50 872.00,395.50 873.00,395.50 874.00,395.50 875.00,395.50 876.00,395.50 877.00,395.50 877.70,395.50 877.70,403.00" fill="none" stroke="#1E9B3C" stroke-width="2.3" stroke-linejoin="round"/>
<polyline points="555.20,284.20 556.20,284.71 557.20,285.15 558.20,285.64 559.20,286.29 560.20,287.25 561.20,289.64 562.20,293.02 563.20,296.30 564.20,299.78 565.20,302.85 566.20,305.60 567.20,308.08 568.20,310.12 569.20,311.62 570.20,312.76 571.20,313.86 572.20,315.27 573.20,317.50 574.20,320.74 575.20,323.93 576.20,326.52 577.20,328.96 578.20,331.26 579.20,333.47 580.20,335.62 581.20,337.71 582.20,339.73 583.20,341.64 584.20,343.43 585.20,345.09 586.20,346.68 587.20,348.19 588.20,349.64 589.20,351.04 590.20,352.41 591.20,353.74 592.20,355.04 593.20,356.31 594.20,357.54 595.20,358.74 596.20,359.90 597.20,361.04 598.20,362.15 599.20,363.24 600.20,364.31 601.20,365.36 602.20,366.38 603.20,367.38 604.20,368.35 605.20,369.28 606.20,370.18 607.20,371.03 608.20,371.85 609.20,372.63 610.20,373.41 611.20,374.17 612.20,374.94 613.20,375.72 614.20,376.52 615.20,377.33 616.20,378.15 617.20,378.96 618.20,379.76 619.20,380.55 620.20,381.31 621.20,382.04 622.20,382.78 623.20,383.50 624.20,384.15 625.20,384.70 626.20,385.19 627.20,385.63 628.20,386.04 629.20,386.42 630.20,386.79 631.20,387.15 632.20,387.51 633.20,387.89 634.20,388.28 635.20,388.68 636.20,389.08 637.20,389.47 638.20,389.87 639.20,390.27 640.20,390.67 641.20,391.07 642.20,391.47 643.20,391.88 644.20,392.35 645.20,392.84 646.20,393.31 647.20,393.71 648.20,393.98 649.20,394.14 650.20,394.20 651.20,394.21 652.20,394.21 653.20,394.22 654.20,394.22 655.20,394.23 656.20,394.24 657.20,394.24 658.20,394.25 659.20,394.25 660.20,394.26 661.20,394.26 662.20,394.26 663.20,394.27 664.20,394.27 665.20,394.28 666.20,394.28 667.20,394.28 668.20,394.29 669.20,394.29 670.20,394.29 671.20,394.30 672.20,394.30 673.20,394.30 674.20,394.31 675.20,394.31 676.20,394.31 677.20,394.31 678.20,394.32 679.20,394.32 680.20,394.32 681.20,394.32 682.20,394.33 683.20,394.33 684.20,394.33 685.20,394.33 686.20,394.33 687.20,394.33 688.20,394.34 689.20,394.34 690.20,394.34 691.20,394.34 692.20,394.34 693.20,394.34 694.20,394.34 695.20,394.35 696.20,394.35 697.20,394.35 698.20,394.35 699.20,394.35 700.20,394.35 701.20,394.35 702.20,394.35 703.20,394.35 704.20,394.36 705.20,394.36 706.20,394.36 707.20,394.36 708.20,394.36 709.20,394.36 710.20,394.36 711.20,394.36 712.20,394.36 713.20,394.36 714.20,394.36 715.20,394.36 716.20,394.37 717.20,394.37 718.20,394.37 719.20,394.37 720.20,394.37 721.20,394.37 722.20,394.37 723.20,394.37 724.20,394.37 725.20,394.38 726.20,394.38 727.20,394.38 728.20,394.38 729.20,394.38 730.20,394.38 731.20,394.38 732.20,394.38 733.20,394.39 734.20,394.39 735.20,394.39 736.20,394.39 737.20,394.39 738.20,394.40 739.20,394.40 740.20,394.40 740.40,394.40 740.40,404.40" fill="none" stroke="#5683D6" stroke-width="2.3" stroke-linejoin="round"/>
<path d="M563.20 283.39V286.39M566.65 285.61V288.61M573.06 292.45V295.45M580.64 299.35V302.35M589.12 306.95V309.95M597.66 316.04V319.04M606.56 326.92V329.92M612.54 333.62V336.62M620.34 341.39V344.39M624.29 346.68V349.68M631.89 354.88V357.88M639.98 359.83V362.83M645.11 362.39V365.39M648.32 364.07V367.07M653.00 366.28V369.28M659.62 368.90V371.90M665.63 371.31V374.31M673.73 374.15V377.15M677.15 375.15V378.15M685.76 377.03V380.03M689.12 377.63V380.63M697.47 378.86V381.86M705.73 380.26V383.26M712.09 381.92V384.92M720.67 383.49V386.49M724.30 383.88V386.88M732.64 384.59V387.59M737.94 385.07V388.07M746.56 386.08V389.08M751.80 386.77V389.77M757.74 387.62V390.62M764.02 388.58V391.58M771.60 390.11V393.11M774.71 390.82V393.82M779.35 391.47V394.47M783.42 391.57V394.57M791.14 391.68V394.68M794.81 391.71V394.71M801.67 391.77V394.77M810.02 394.53V397.53M814.68 394.56V397.56M822.64 394.61V397.61M828.17 394.65V397.65M836.80 394.70V397.70M845.21 396.60V399.60M851.97 396.60V399.60M855.63 398.50V401.50M860.37 398.50V401.50M864.14 399.50V402.50M868.96 399.50V402.50" stroke="#E36D68" stroke-width="0.9" fill="none"/>
<path d="M563.20 288.82V291.82M570.57 300.29V303.29M575.68 307.67V310.67M584.42 320.51V323.51M589.95 328.16V331.16M595.45 336.11V339.11M603.18 346.46V349.46M607.85 351.07V354.07M615.17 358.38V361.38M622.90 366.14V369.14M629.44 370.70V373.70M636.56 373.95V376.95M642.52 376.27V379.27M650.04 380.97V383.97M654.08 382.10V385.10M657.61 382.82V385.82M665.38 385.84V388.84M670.82 388.87V391.87M678.36 389.39V392.39M684.38 389.51V392.51M693.27 389.67V392.67M700.74 389.83V392.83M708.88 390.00V393.00M712.50 390.07V393.07M720.48 390.23V393.23M728.93 390.39V393.39M732.17 390.44V393.44M735.83 390.50V393.50M741.87 390.59V393.59M749.86 390.69V393.69M757.43 390.75V393.75M765.74 390.79V393.79M771.48 390.80V393.80M776.51 390.80V393.80M780.54 390.80V393.80M787.85 390.80V393.80M796.36 390.80V393.80M800.73 390.80V393.80M804.52 390.80V393.80M809.13 390.80V393.80M816.90 390.80V393.80M825.08 390.80V393.80M833.84 390.80V393.80M840.50 393.70V396.70M849.47 393.70V396.70M853.07 393.70V396.70M859.37 393.70V396.70M865.77 393.70V396.70" stroke="#1E9B3C" stroke-width="0.9" fill="none"/>
<path d="M563.20 294.50V297.50M574.76 320.80V323.80M580.13 333.67V336.67M584.50 342.13V345.13M591.25 352.00V355.00M602.47 364.85V367.85M606.60 368.72V371.72M612.61 373.46V376.46M621.29 380.31V383.31M630.22 385.00V388.00M637.96 387.98V390.98M644.48 390.68V393.68M653.33 392.42V395.42M660.34 392.46V395.46M666.82 392.48V395.48M672.07 392.50V395.50M680.37 392.52V395.52M688.63 392.54V395.54M693.98 392.54V395.54M700.92 392.55V395.55M709.86 392.56V395.56M717.61 392.57V395.57" stroke="#5683D6" stroke-width="0.9" fill="none"/>
<line x1="555.20" y1="344.50" x2="621.50" y2="344.50" stroke="#222" stroke-width="0.9" stroke-dasharray="3,2.2"/>
<line x1="585.40" y1="344.50" x2="585.40" y2="404.40" stroke="#222" stroke-width="0.9" stroke-dasharray="3,2.2"/>
<line x1="597.10" y1="344.50" x2="597.10" y2="404.40" stroke="#222" stroke-width="0.9" stroke-dasharray="3,2.2"/>
<line x1="621.50" y1="344.50" x2="621.50" y2="404.40" stroke="#222" stroke-width="0.9" stroke-dasharray="3,2.2"/>
<line x1="539.60" y1="278.40" x2="539.60" y2="410.80" stroke="#333" stroke-width="1"/>
<line x1="539.60" y1="410.80" x2="888.00" y2="410.80" stroke="#333" stroke-width="1"/>
<line x1="537.00" y1="404.40" x2="539.60" y2="404.40" stroke="#333" stroke-width="0.8"/>
<text x="536.20" y="407.10" font-size="7.6" text-anchor="end" fill="#222" stroke="#222" stroke-width="0.22">0.00</text>
<line x1="537.00" y1="374.45" x2="539.60" y2="374.45" stroke="#333" stroke-width="0.8"/>
<text x="536.20" y="377.15" font-size="7.6" text-anchor="end" fill="#222" stroke="#222" stroke-width="0.22">0.25</text>
<line x1="537.00" y1="344.50" x2="539.60" y2="344.50" stroke="#333" stroke-width="0.8"/>
<text x="536.20" y="347.20" font-size="7.6" text-anchor="end" fill="#222" stroke="#222" stroke-width="0.22">0.50</text>
<line x1="537.00" y1="314.55" x2="539.60" y2="314.55" stroke="#333" stroke-width="0.8"/>
<text x="536.20" y="317.25" font-size="7.6" text-anchor="end" fill="#222" stroke="#222" stroke-width="0.22">0.75</text>
<line x1="537.00" y1="284.60" x2="539.60" y2="284.60" stroke="#333" stroke-width="0.8"/>
<text x="536.20" y="287.30" font-size="7.6" text-anchor="end" fill="#222" stroke="#222" stroke-width="0.22">1.00</text>
<line x1="555.20" y1="410.80" x2="555.20" y2="413.40" stroke="#333" stroke-width="0.8"/>
<text x="555.20" y="420.60" font-size="7.9" text-anchor="middle" fill="#222" stroke="#222" stroke-width="0.25">0</text>
<line x1="580.57" y1="410.80" x2="580.57" y2="413.40" stroke="#333" stroke-width="0.8"/>
<text x="580.57" y="420.60" font-size="7.9" text-anchor="middle" fill="#222" stroke="#222" stroke-width="0.25">12</text>
<line x1="605.94" y1="410.80" x2="605.94" y2="413.40" stroke="#333" stroke-width="0.8"/>
<text x="605.94" y="420.60" font-size="7.9" text-anchor="middle" fill="#222" stroke="#222" stroke-width="0.25">24</text>
<line x1="631.30" y1="410.80" x2="631.30" y2="413.40" stroke="#333" stroke-width="0.8"/>
<text x="631.30" y="420.60" font-size="7.9" text-anchor="middle" fill="#222" stroke="#222" stroke-width="0.25">36</text>
<line x1="656.67" y1="410.80" x2="656.67" y2="413.40" stroke="#333" stroke-width="0.8"/>
<text x="656.67" y="420.60" font-size="7.9" text-anchor="middle" fill="#222" stroke="#222" stroke-width="0.25">48</text>
<line x1="682.04" y1="410.80" x2="682.04" y2="413.40" stroke="#333" stroke-width="0.8"/>
<text x="682.04" y="420.60" font-size="7.9" text-anchor="middle" fill="#222" stroke="#222" stroke-width="0.25">60</text>
<line x1="707.41" y1="410.80" x2="707.41" y2="413.40" stroke="#333" stroke-width="0.8"/>
<text x="707.41" y="420.60" font-size="7.9" text-anchor="middle" fill="#222" stroke="#222" stroke-width="0.25">72</text>
<line x1="732.78" y1="410.80" x2="732.78" y2="413.40" stroke="#333" stroke-width="0.8"/>
<text x="732.78" y="420.60" font-size="7.9" text-anchor="middle" fill="#222" stroke="#222" stroke-width="0.25">84</text>
<line x1="758.14" y1="410.80" x2="758.14" y2="413.40" stroke="#333" stroke-width="0.8"/>
<text x="758.14" y="420.60" font-size="7.9" text-anchor="middle" fill="#222" stroke="#222" stroke-width="0.25">96</text>
<line x1="783.51" y1="410.80" x2="783.51" y2="413.40" stroke="#333" stroke-width="0.8"/>
<text x="783.51" y="420.60" font-size="7.9" text-anchor="middle" fill="#222" stroke="#222" stroke-width="0.25">108</text>
<line x1="808.88" y1="410.80" x2="808.88" y2="413.40" stroke="#333" stroke-width="0.8"/>
<text x="808.88" y="420.60" font-size="7.9" text-anchor="middle" fill="#222" stroke="#222" stroke-width="0.25">120</text>
<line x1="834.25" y1="410.80" x2="834.25" y2="413.40" stroke="#333" stroke-width="0.8"/>
<text x="834.25" y="420.60" font-size="7.9" text-anchor="middle" fill="#222" stroke="#222" stroke-width="0.25">132</text>
<line x1="859.62" y1="410.80" x2="859.62" y2="413.40" stroke="#333" stroke-width="0.8"/>
<text x="859.62" y="420.60" font-size="7.9" text-anchor="middle" fill="#222" stroke="#222" stroke-width="0.25">144</text>
<text x="716.40" y="430.10" font-size="8.6" text-anchor="middle" fill="#111" stroke="#111" stroke-width="0.22">Overall survival (months)</text>
<text transform="translate(509.50,344.50) rotate(-90)" font-size="9.8" text-anchor="middle" fill="#111" stroke="#111" stroke-width="0.22">Survival probability</text>
<text x="694.90" y="286.50" font-size="9.9" font-weight="bold" text-anchor="middle" fill="#111">European validation cohort</text>
<text x="449.50" y="283.90" font-size="23" font-weight="bold" stroke="#000" stroke-width="0.5">C</text>
<text x="560.70" y="372.10" font-size="8.4" fill="#222" stroke="#222" stroke-width="0.22">Log−rank</text>
<text x="560.70" y="383.50" font-size="8.4" fill="#222" stroke="#222" stroke-width="0.22">p &lt; 0.0001</text>
<text x="781.20" y="296.70" font-size="7.4" fill="#111" stroke="#111" stroke-width="0.22">Overall survival</text>
<rect x="781.20" y="300.60" width="9.8" height="10" fill="#F6BBB5" opacity="0.8"/>
<line x1="781.20" y1="305.60" x2="791.00" y2="305.60" stroke="#E36D68" stroke-width="1.1"/>
<line x1="786.10" y1="304.10" x2="786.10" y2="307.10" stroke="#E36D68" stroke-width="0.8"/>
<text x="794.40" y="307.70" font-size="6.1" fill="#111" stroke="#111" stroke-width="0.22">Low−risk strata</text>
<rect x="781.20" y="311.25" width="9.8" height="10" fill="#A3DDAE" opacity="0.8"/>
<line x1="781.20" y1="316.25" x2="791.00" y2="316.25" stroke="#1E9B3C" stroke-width="1.1"/>
<line x1="786.10" y1="314.75" x2="786.10" y2="317.75" stroke="#1E9B3C" stroke-width="0.8"/>
<text x="794.40" y="318.35" font-size="6.1" fill="#111" stroke="#111" stroke-width="0.22">Intermediate−risk strata</text>
<rect x="781.20" y="321.90" width="9.8" height="10" fill="#BBD2F4" opacity="0.8"/>
<line x1="781.20" y1="326.90" x2="791.00" y2="326.90" stroke="#5683D6" stroke-width="1.1"/>
<line x1="786.10" y1="325.40" x2="786.10" y2="328.40" stroke="#5683D6" stroke-width="0.8"/>
<text x="794.40" y="329.00" font-size="6.1" fill="#111" stroke="#111" stroke-width="0.22">High−risk strata</text>
<text x="539.90" y="445.20" font-size="9.7" fill="#111" stroke="#111" stroke-width="0.22">Number at risk</text>
<line x1="539.20" y1="451.20" x2="539.20" y2="479.70" stroke="#333" stroke-width="1"/>
<line x1="539.20" y1="479.70" x2="888.00" y2="479.70" stroke="#333" stroke-width="1"/>
<line x1="536.60" y1="456.40" x2="539.60" y2="456.40" stroke="#333" stroke-width="0.8"/>
<text x="536.10" y="459.00" font-size="7.2" text-anchor="end" fill="#E8908C" stroke="#E8908C" stroke-width="0.22">Low−risk <tspan dx="2.0">strata</tspan></text>
<text x="555.20" y="459.40" font-size="8.3" text-anchor="middle" fill="#111" stroke="#111" stroke-width="0.16">642</text>
<text x="580.57" y="459.40" font-size="8.3" text-anchor="middle" fill="#111" stroke="#111" stroke-width="0.16">536</text>
<text x="605.94" y="459.40" font-size="8.3" text-anchor="middle" fill="#111" stroke="#111" stroke-width="0.16">367</text>
<text x="631.30" y="459.40" font-size="8.3" text-anchor="middle" fill="#111" stroke="#111" stroke-width="0.16">213</text>
<text x="656.67" y="459.40" font-size="8.3" text-anchor="middle" fill="#111" stroke="#111" stroke-width="0.16">124</text>
<text x="682.04" y="459.40" font-size="8.3" text-anchor="middle" fill="#111" stroke="#111" stroke-width="0.16">72</text>
<text x="707.41" y="459.40" font-size="8.3" text-anchor="middle" fill="#111" stroke="#111" stroke-width="0.16">46</text>
<text x="732.78" y="459.40" font-size="8.3" text-anchor="middle" fill="#111" stroke="#111" stroke-width="0.16">30</text>
<text x="758.14" y="459.40" font-size="8.3" text-anchor="middle" fill="#111" stroke="#111" stroke-width="0.16">20</text>
<text x="783.51" y="459.40" font-size="8.3" text-anchor="middle" fill="#111" stroke="#111" stroke-width="0.16">10</text>
<text x="808.88" y="459.40" font-size="8.3" text-anchor="middle" fill="#111" stroke="#111" stroke-width="0.16">5</text>
<text x="834.25" y="459.40" font-size="8.3" text-anchor="middle" fill="#111" stroke="#111" stroke-width="0.16">5</text>
<text x="859.62" y="459.40" font-size="8.3" text-anchor="middle" fill="#111" stroke="#111" stroke-width="0.16">3</text>
<line x1="536.60" y1="465.40" x2="539.60" y2="465.40" stroke="#333" stroke-width="0.8"/>
<text x="536.10" y="468.00" font-size="7.2" text-anchor="end" fill="#3DAF5C" stroke="#3DAF5C" stroke-width="0.22">Intermediate−risk <tspan dx="2.0">strata</tspan></text>
<text x="555.20" y="468.40" font-size="8.3" text-anchor="middle" fill="#111" stroke="#111" stroke-width="0.16">377</text>
<text x="580.57" y="468.40" font-size="8.3" text-anchor="middle" fill="#111" stroke="#111" stroke-width="0.16">268</text>
<text x="605.94" y="468.40" font-size="8.3" text-anchor="middle" fill="#111" stroke="#111" stroke-width="0.16">147</text>
<text x="631.30" y="468.40" font-size="8.3" text-anchor="middle" fill="#111" stroke="#111" stroke-width="0.16">77</text>
<text x="656.67" y="468.40" font-size="8.3" text-anchor="middle" fill="#111" stroke="#111" stroke-width="0.16">43</text>
<text x="682.04" y="468.40" font-size="8.3" text-anchor="middle" fill="#111" stroke="#111" stroke-width="0.16">22</text>
<text x="707.41" y="468.40" font-size="8.3" text-anchor="middle" fill="#111" stroke="#111" stroke-width="0.16">16</text>
<text x="732.78" y="468.40" font-size="8.3" text-anchor="middle" fill="#111" stroke="#111" stroke-width="0.16">12</text>
<text x="758.14" y="468.40" font-size="8.3" text-anchor="middle" fill="#111" stroke="#111" stroke-width="0.16">9</text>
<text x="783.51" y="468.40" font-size="8.3" text-anchor="middle" fill="#111" stroke="#111" stroke-width="0.16">7</text>
<text x="808.88" y="468.40" font-size="8.3" text-anchor="middle" fill="#111" stroke="#111" stroke-width="0.16">7</text>
<text x="834.25" y="468.40" font-size="8.3" text-anchor="middle" fill="#111" stroke="#111" stroke-width="0.16">6</text>
<text x="859.62" y="468.40" font-size="8.3" text-anchor="middle" fill="#111" stroke="#111" stroke-width="0.16">3</text>
<line x1="536.60" y1="474.40" x2="539.60" y2="474.40" stroke="#333" stroke-width="0.8"/>
<text x="536.10" y="477.00" font-size="7.2" text-anchor="end" fill="#7C9EE0" stroke="#7C9EE0" stroke-width="0.22">High−risk <tspan dx="2.0">strata</tspan></text>
<text x="555.20" y="477.40" font-size="8.3" text-anchor="middle" fill="#111" stroke="#111" stroke-width="0.16">111</text>
<text x="580.57" y="477.40" font-size="8.3" text-anchor="middle" fill="#111" stroke="#111" stroke-width="0.16">58</text>
<text x="605.94" y="477.40" font-size="8.3" text-anchor="middle" fill="#111" stroke="#111" stroke-width="0.16">29</text>
<text x="631.30" y="477.40" font-size="8.3" text-anchor="middle" fill="#111" stroke="#111" stroke-width="0.16">11</text>
<text x="656.67" y="477.40" font-size="8.3" text-anchor="middle" fill="#111" stroke="#111" stroke-width="0.16">6</text>
<text x="682.04" y="477.40" font-size="8.3" text-anchor="middle" fill="#111" stroke="#111" stroke-width="0.16">4</text>
<text x="707.41" y="477.40" font-size="8.3" text-anchor="middle" fill="#111" stroke="#111" stroke-width="0.16">4</text>
<text x="732.78" y="477.40" font-size="8.3" text-anchor="middle" fill="#111" stroke="#111" stroke-width="0.16">3</text>
<text x="758.14" y="477.40" font-size="8.3" text-anchor="middle" fill="#111" stroke="#111" stroke-width="0.16">0</text>
<text x="783.51" y="477.40" font-size="8.3" text-anchor="middle" fill="#111" stroke="#111" stroke-width="0.16">0</text>
<text x="808.88" y="477.40" font-size="8.3" text-anchor="middle" fill="#111" stroke="#111" stroke-width="0.16">0</text>
<text x="834.25" y="477.40" font-size="8.3" text-anchor="middle" fill="#111" stroke="#111" stroke-width="0.16">0</text>
<text x="859.62" y="477.40" font-size="8.3" text-anchor="middle" fill="#111" stroke="#111" stroke-width="0.16">0</text>
<line x1="555.20" y1="479.70" x2="555.20" y2="482.20" stroke="#333" stroke-width="0.8"/>
<text x="555.20" y="488.10" font-size="7.9" text-anchor="middle" fill="#222" stroke="#222" stroke-width="0.25">0</text>
<line x1="580.57" y1="479.70" x2="580.57" y2="482.20" stroke="#333" stroke-width="0.8"/>
<text x="580.57" y="488.10" font-size="7.9" text-anchor="middle" fill="#222" stroke="#222" stroke-width="0.25">12</text>
<line x1="605.94" y1="479.70" x2="605.94" y2="482.20" stroke="#333" stroke-width="0.8"/>
<text x="605.94" y="488.10" font-size="7.9" text-anchor="middle" fill="#222" stroke="#222" stroke-width="0.25">24</text>
<line x1="631.30" y1="479.70" x2="631.30" y2="482.20" stroke="#333" stroke-width="0.8"/>
<text x="631.30" y="488.10" font-size="7.9" text-anchor="middle" fill="#222" stroke="#222" stroke-width="0.25">36</text>
<line x1="656.67" y1="479.70" x2="656.67" y2="482.20" stroke="#333" stroke-width="0.8"/>
<text x="656.67" y="488.10" font-size="7.9" text-anchor="middle" fill="#222" stroke="#222" stroke-width="0.25">48</text>
<line x1="682.04" y1="479.70" x2="682.04" y2="482.20" stroke="#333" stroke-width="0.8"/>
<text x="682.04" y="488.10" font-size="7.9" text-anchor="middle" fill="#222" stroke="#222" stroke-width="0.25">60</text>
<line x1="707.41" y1="479.70" x2="707.41" y2="482.20" stroke="#333" stroke-width="0.8"/>
<text x="707.41" y="488.10" font-size="7.9" text-anchor="middle" fill="#222" stroke="#222" stroke-width="0.25">72</text>
<line x1="732.78" y1="479.70" x2="732.78" y2="482.20" stroke="#333" stroke-width="0.8"/>
<text x="732.78" y="488.10" font-size="7.9" text-anchor="middle" fill="#222" stroke="#222" stroke-width="0.25">84</text>
<line x1="758.14" y1="479.70" x2="758.14" y2="482.20" stroke="#333" stroke-width="0.8"/>
<text x="758.14" y="488.10" font-size="7.9" text-anchor="middle" fill="#222" stroke="#222" stroke-width="0.25">96</text>
<line x1="783.51" y1="479.70" x2="783.51" y2="482.20" stroke="#333" stroke-width="0.8"/>
<text x="783.51" y="488.10" font-size="7.9" text-anchor="middle" fill="#222" stroke="#222" stroke-width="0.25">108</text>
<line x1="808.88" y1="479.70" x2="808.88" y2="482.20" stroke="#333" stroke-width="0.8"/>
<text x="808.88" y="488.10" font-size="7.9" text-anchor="middle" fill="#222" stroke="#222" stroke-width="0.25">120</text>
<line x1="834.25" y1="479.70" x2="834.25" y2="482.20" stroke="#333" stroke-width="0.8"/>
<text x="834.25" y="488.10" font-size="7.9" text-anchor="middle" fill="#222" stroke="#222" stroke-width="0.25">132</text>
<line x1="859.62" y1="479.70" x2="859.62" y2="482.20" stroke="#333" stroke-width="0.8"/>
<text x="859.62" y="488.10" font-size="7.9" text-anchor="middle" fill="#222" stroke="#222" stroke-width="0.25">144</text>
<polygon points="112.50,512.22 113.50,512.14 114.50,512.05 115.50,511.96 116.50,511.87 117.50,511.79 118.50,511.73 119.50,511.68 120.50,511.67 121.50,511.75 122.50,511.92 123.50,512.15 124.50,512.41 125.50,512.70 126.50,512.98 127.50,513.24 128.50,513.45 129.50,513.61 130.50,513.80 131.50,514.06 132.50,514.30 133.50,514.54 134.50,514.78 135.50,515.04 136.50,515.32 137.50,515.62 138.50,515.97 139.50,516.37 140.50,516.82 141.50,517.30 142.50,517.81 143.50,518.34 144.50,518.87 145.50,519.41 146.50,519.93 147.50,520.42 148.50,520.91 149.50,521.39 150.50,521.88 151.50,522.36 152.50,522.84 153.50,523.32 154.50,523.79 155.50,524.27 156.50,524.74 157.50,525.20 158.50,525.66 159.50,526.12 160.50,526.57 161.50,527.02 162.50,527.47 163.50,527.93 164.50,528.38 165.50,528.85 166.50,529.32 167.50,529.79 168.50,530.28 169.50,530.77 170.50,531.26 171.50,531.75 172.50,532.25 173.50,532.74 174.50,533.23 175.50,533.72 176.50,534.21 177.50,534.68 178.50,535.15 179.50,535.62 180.50,536.09 181.50,536.57 182.50,537.05 183.50,537.55 184.50,538.06 185.50,538.59 186.50,539.14 187.50,539.70 188.50,540.28 189.50,540.87 190.50,541.47 191.50,542.07 192.50,542.67 193.50,543.28 194.50,543.88 195.50,544.48 196.50,545.08 197.50,545.68 198.50,546.28 199.50,546.89 200.50,547.50 201.50,548.10 202.50,548.72 203.50,549.36 204.50,550.01 205.50,550.70 206.50,551.42 207.50,552.15 208.50,552.88 209.50,553.61 210.50,554.33 211.50,555.02 212.50,555.67 213.50,556.28 214.50,556.88 215.50,557.46 216.50,558.03 217.50,558.58 218.50,559.11 219.50,559.62 220.50,560.10 221.50,560.55 222.50,560.96 223.50,561.36 224.50,561.73 225.50,562.09 226.50,562.43 227.50,562.76 228.50,563.08 229.50,563.39 230.50,563.70 231.50,564.01 232.50,564.32 233.50,564.64 234.50,564.97 235.50,565.31 236.50,565.66 237.50,566.03 238.50,566.40 239.50,566.77 240.50,567.15 241.50,567.54 242.50,567.93 243.50,568.32 244.50,568.71 245.50,569.11 246.50,569.51 247.50,569.91 248.50,570.31 249.50,570.72 250.50,571.13 251.50,571.55 252.50,571.98 253.50,572.40 254.50,572.82 255.50,573.25 256.50,573.69 257.50,574.14 258.50,574.60 259.50,575.06 260.50,575.54 261.50,576.02 262.50,576.50 263.50,576.99 264.50,577.47 265.50,577.95 266.50,578.43 267.50,578.91 268.50,579.37 269.50,579.83 270.50,580.28 271.50,580.71 272.50,581.13 273.50,581.54 274.50,581.92 275.50,582.29 276.50,582.64 277.50,582.96 278.50,583.26 279.50,583.54 280.50,583.79 281.50,584.04 282.50,584.27 283.50,584.49 284.50,584.71 285.50,584.91 286.50,585.11 287.50,585.29 288.50,585.48 289.50,585.66 290.50,585.83 291.50,586.00 292.50,586.17 293.50,586.33 294.50,586.50 295.50,586.67 296.50,586.83 297.50,587.00 298.50,587.17 299.50,587.35 300.50,587.53 301.50,587.73 302.50,587.92 303.50,588.10 304.50,588.29 305.50,588.46 306.50,588.63 307.50,588.79 308.50,588.93 309.50,589.07 310.50,589.19 311.50,589.30 312.50,589.40 313.50,589.49 314.50,589.57 315.50,589.65 316.50,589.72 317.50,589.79 318.50,589.86 319.50,589.93 320.50,589.99 321.50,590.05 322.50,590.11 323.50,590.17 324.50,590.23 325.50,590.29 326.50,590.35 327.50,590.42 328.50,589.93 328.75,589.67 328.75,593.38 329.75,593.10 330.75,593.10 331.75,593.10 332.75,593.10 333.75,593.10 334.75,593.10 335.75,593.10 336.75,593.10 337.75,593.10 338.75,593.10 339.75,593.10 340.75,593.10 341.75,593.10 342.75,593.10 343.75,593.10 344.75,593.10 345.75,593.10 346.75,593.10 347.75,593.10 348.75,593.10 349.75,593.10 350.75,593.10 351.75,593.10 352.75,593.10 353.75,593.10 354.75,593.10 355.75,593.10 356.75,593.10 357.75,593.10 358.75,593.10 359.75,593.10 360.75,593.10 361.75,593.10 362.75,593.10 363.75,593.10 364.75,593.10 365.75,593.10 366.75,593.10 367.75,593.10 368.75,593.10 369.75,593.10 370.75,593.10 371.75,593.10 372.75,593.10 373.75,593.10 374.75,593.10 375.75,593.10 376.75,593.10 377.75,593.10 378.75,593.10 379.75,593.10 380.75,593.10 381.75,593.10 382.75,593.10 383.75,593.10 384.75,593.10 385.75,593.10 386.75,593.10 387.75,593.10 388.75,593.10 389.75,593.10 390.75,593.10 391.75,593.10 392.75,593.10 393.75,593.10 394.75,593.10 395.75,593.10 396.75,593.10 397.50,589.90 397.50,595.40 398.50,592.20 399.50,592.20 400.50,592.20 401.50,592.20 402.50,592.20 403.50,592.20 404.50,592.20 405.50,592.20 406.50,592.20 407.50,592.20 408.50,592.20 409.50,592.20 410.50,592.20 411.50,592.20 412.50,592.20 413.50,592.20 414.50,592.20 415.50,592.20 416.50,592.20 417.50,592.20 418.50,592.20 419.50,592.20 420.50,592.20 421.50,592.20 422.50,592.20 423.50,592.20 424.50,592.20 425.50,592.20 426.50,592.20 427.50,592.20 428.50,592.20 429.50,592.20 430.50,592.20 431.50,592.20 432.50,592.20 433.50,592.20 434.50,592.20 435.50,592.20 436.50,592.20 437.50,592.20 438.50,592.20 439.50,592.20 440.50,592.20 441.25,592.20 441.25,617.80 440.50,617.80 439.50,617.80 438.50,617.80 437.50,617.80 436.50,617.80 435.50,617.80 434.50,617.80 433.50,617.80 432.50,617.80 431.50,617.80 430.50,617.80 429.50,617.80 428.50,617.80 427.50,617.80 426.50,617.80 425.50,617.80 424.50,617.80 423.50,617.80 422.50,617.80 421.50,617.80 420.50,617.80 419.50,617.80 418.50,617.80 417.50,617.80 416.50,617.80 415.50,617.80 414.50,617.80 413.50,617.80 412.50,617.80 411.50,617.80 410.50,617.80 409.50,617.80 408.50,617.80 407.50,617.80 406.50,617.80 405.50,617.80 404.50,617.80 403.50,617.80 402.50,617.80 401.50,617.80 400.50,617.80 399.50,617.80 398.50,617.80 397.50,617.50 397.50,612.00 396.75,611.70 395.75,611.70 394.75,611.70 393.75,611.70 392.75,611.70 391.75,611.70 390.75,611.70 389.75,611.70 388.75,611.70 387.75,611.70 386.75,611.70 385.75,611.70 384.75,611.70 383.75,611.70 382.75,611.70 381.75,611.70 380.75,611.70 379.75,611.70 378.75,611.70 377.75,611.70 376.75,611.70 375.75,611.70 374.75,611.70 373.75,611.70 372.75,611.70 371.75,611.70 370.75,611.70 369.75,611.70 368.75,611.70 367.75,611.70 366.75,611.70 365.75,611.70 364.75,611.70 363.75,611.70 362.75,611.70 361.75,611.70 360.75,611.70 359.75,611.70 358.75,611.70 357.75,611.70 356.75,611.70 355.75,611.70 354.75,611.70 353.75,611.70 352.75,611.70 351.75,611.70 350.75,611.70 349.75,611.70 348.75,611.70 347.75,611.70 346.75,611.70 345.75,611.70 344.75,611.70 343.75,611.70 342.75,611.70 341.75,611.70 340.75,611.70 339.75,611.70 338.75,611.70 337.75,611.70 336.75,611.70 335.75,611.70 334.75,611.70 333.75,611.70 332.75,611.70 331.75,611.70 330.75,611.70 329.75,611.70 328.75,611.08 328.75,607.38 328.50,606.73 327.50,605.42 326.50,605.35 325.50,605.29 324.50,605.23 323.50,605.17 322.50,605.11 321.50,605.05 320.50,604.99 319.50,604.93 318.50,604.86 317.50,604.79 316.50,604.72 315.50,604.65 314.50,604.57 313.50,604.49 312.50,604.40 311.50,604.30 310.50,604.19 309.50,604.07 308.50,603.93 307.50,603.79 306.50,603.63 305.50,603.46 304.50,603.29 303.50,603.10 302.50,602.92 301.50,602.73 300.50,602.53 299.50,602.34 298.50,602.16 297.50,601.98 296.50,601.80 295.50,601.62 294.50,601.44 293.50,601.27 292.50,601.09 291.50,600.91 290.50,600.73 289.50,600.55 288.50,600.36 287.50,600.17 286.50,599.97 285.50,599.76 284.50,599.55 283.50,599.33 282.50,599.10 281.50,598.85 280.50,598.60 279.50,598.33 278.50,598.05 277.50,597.74 276.50,597.40 275.50,597.05 274.50,596.67 273.50,596.27 272.50,595.86 271.50,595.42 270.50,594.98 269.50,594.52 268.50,594.06 267.50,593.58 266.50,593.10 265.50,592.61 264.50,592.12 263.50,591.62 262.50,591.13 261.50,590.63 260.50,590.14 259.50,589.66 258.50,589.18 257.50,588.71 256.50,588.25 255.50,587.80 254.50,587.37 253.50,586.94 252.50,586.50 251.50,586.07 250.50,585.63 249.50,585.16 248.50,584.65 247.50,584.14 246.50,583.62 245.50,583.11 244.50,582.61 243.50,582.10 242.50,581.60 241.50,581.10 240.50,580.61 239.50,580.12 238.50,579.63 237.50,579.15 236.50,578.67 235.50,578.21 234.50,577.76 233.50,577.33 232.50,576.90 231.50,576.48 230.50,576.06 229.50,575.64 228.50,575.21 227.50,574.78 226.50,574.34 225.50,573.89 224.50,573.43 223.50,572.94 222.50,572.44 221.50,571.91 220.50,571.35 219.50,570.76 218.50,570.15 217.50,569.51 216.50,568.85 215.50,568.17 214.50,567.47 213.50,566.77 212.50,566.05 211.50,565.28 210.50,564.48 209.50,563.66 208.50,562.82 207.50,561.97 206.50,561.13 205.50,560.30 204.50,559.50 203.50,558.74 202.50,558.00 201.50,557.27 200.50,556.55 199.50,555.87 198.50,555.22 197.50,554.57 196.50,553.93 195.50,553.29 194.50,552.64 193.50,552.00 192.50,551.35 191.50,550.70 190.50,550.06 189.50,549.42 188.50,548.79 187.50,548.17 186.50,547.56 185.50,546.97 184.50,546.39 183.50,545.84 182.50,545.30 181.50,544.77 180.50,544.26 179.50,543.74 178.50,543.23 177.50,542.72 176.50,542.20 175.50,541.67 174.50,541.14 173.50,540.61 172.50,540.07 171.50,539.53 170.50,538.99 169.50,538.46 168.50,537.93 167.50,537.40 166.50,536.88 165.50,536.37 164.50,535.86 163.50,535.36 162.50,534.87 161.50,534.37 160.50,533.88 159.50,533.38 158.50,532.88 157.50,532.38 156.50,531.87 155.50,531.36 154.50,530.84 153.50,530.32 152.50,529.80 151.50,529.28 150.50,528.75 149.50,528.23 148.50,527.70 147.50,527.17 146.50,526.63 145.50,526.07 144.50,525.49 143.50,524.92 142.50,524.35 141.50,523.79 140.50,523.27 139.50,522.78 138.50,522.33 137.50,521.95 136.50,521.60 135.50,521.28 134.50,520.98 133.50,520.69 132.50,520.41 131.50,520.12 130.50,519.83 129.50,519.44 128.50,518.95 127.50,518.40 126.50,517.81 125.50,517.20 124.50,516.58 123.50,515.98 122.50,515.42 121.50,514.92 120.50,514.50 119.50,514.18 118.50,513.89 117.50,513.62 116.50,513.37 115.50,513.12 114.50,512.88 113.50,512.64 112.50,512.38" fill="#F6BBB5" opacity="0.8"/>
<polygon points="112.50,512.22 113.50,512.20 114.50,512.18 115.50,512.15 116.50,512.13 117.50,512.12 118.50,512.13 119.50,512.17 120.50,512.27 121.50,512.42 122.50,512.62 123.50,512.86 124.50,513.13 125.50,513.42 126.50,513.72 127.50,514.02 128.50,514.31 129.50,514.59 130.50,514.94 131.50,515.37 132.50,515.84 133.50,516.36 134.50,516.97 135.50,517.73 136.50,518.63 137.50,519.65 138.50,520.73 139.50,521.84 140.50,522.94 141.50,524.13 142.50,525.38 143.50,526.67 144.50,527.98 145.50,529.26 146.50,530.48 147.50,531.62 148.50,532.69 149.50,533.70 150.50,534.68 151.50,535.64 152.50,536.58 153.50,537.52 154.50,538.48 155.50,539.46 156.50,540.46 157.50,541.49 158.50,542.51 159.50,543.52 160.50,544.49 161.50,545.43 162.50,546.30 163.50,547.12 164.50,547.89 165.50,548.64 166.50,549.35 167.50,550.06 168.50,550.77 169.50,551.48 170.50,552.21 171.50,552.94 172.50,553.66 173.50,554.38 174.50,555.10 175.50,555.83 176.50,556.55 177.50,557.28 178.50,558.01 179.50,558.74 180.50,559.46 181.50,560.19 182.50,560.93 183.50,561.68 184.50,562.44 185.50,563.21 186.50,564.00 187.50,564.81 188.50,565.62 189.50,566.44 190.50,567.27 191.50,568.10 192.50,568.94 193.50,569.81 194.50,570.69 195.50,571.57 196.50,572.41 197.50,573.22 198.50,573.95 199.50,574.64 200.50,575.29 201.50,575.89 202.50,576.48 203.50,577.05 204.50,577.60 205.50,578.16 206.50,578.72 207.50,579.29 208.50,579.88 209.50,580.48 210.50,581.13 211.50,581.82 212.50,582.55 213.50,583.30 214.50,584.07 215.50,584.84 216.50,585.60 217.50,586.33 218.50,587.03 219.50,587.67 220.50,588.24 221.50,588.74 222.50,589.17 223.50,589.57 224.50,589.93 225.50,590.28 226.50,590.60 227.50,590.90 228.50,591.19 229.50,591.47 230.50,591.74 231.50,592.00 232.50,592.27 233.50,592.53 234.50,592.80 235.50,593.08 236.50,593.37 237.50,593.67 238.50,593.97 239.50,594.28 240.50,594.58 241.50,594.88 242.50,595.18 243.50,595.48 244.50,595.78 245.50,596.08 246.50,596.38 247.50,596.67 248.50,596.97 249.50,597.26 250.50,597.55 251.50,597.84 252.50,598.13 253.50,598.42 254.50,598.70 255.50,598.98 256.50,599.27 257.50,599.55 258.50,599.84 259.50,600.12 260.50,600.41 261.50,600.70 262.50,600.98 263.50,601.27 264.50,601.55 265.50,601.83 266.50,602.10 267.50,602.38 268.50,602.64 269.50,602.91 270.50,603.16 271.50,603.41 272.50,603.66 273.50,603.90 274.50,604.13 275.50,604.35 276.50,604.56 277.50,604.76 278.50,604.95 279.50,605.14 280.50,605.31 281.50,605.48 282.50,605.65 283.50,605.81 284.50,605.97 285.50,606.13 286.50,606.28 287.50,606.42 288.50,606.57 289.50,606.71 290.50,606.85 291.50,606.98 292.50,607.11 293.50,607.23 294.50,607.36 295.50,607.48 296.50,607.60 297.50,607.71 298.50,607.82 299.50,607.93 300.50,608.03 301.50,608.14 302.50,608.24 303.50,608.34 304.50,608.43 305.50,608.53 306.50,608.62 307.50,608.71 308.50,608.79 309.50,608.87 310.50,608.96 311.50,609.03 312.50,609.11 313.50,609.19 314.50,609.26 315.50,609.33 316.50,609.40 317.50,609.47 318.50,609.54 319.50,609.60 320.50,609.67 321.50,609.73 322.50,609.80 323.50,609.86 324.50,609.92 325.50,609.98 326.50,610.04 327.50,610.10 328.50,610.16 329.50,610.22 330.50,610.27 331.50,610.32 332.50,610.37 333.50,610.42 334.50,610.47 335.00,610.50 335.00,612.50 336.00,611.50 337.00,611.50 338.00,611.50 339.00,611.50 340.00,611.50 341.00,611.50 342.00,611.50 343.00,611.50 344.00,611.50 345.00,611.50 346.00,611.50 347.00,611.50 348.00,611.50 349.00,611.50 350.00,611.50 351.00,611.50 352.00,611.50 353.00,611.50 354.00,611.50 355.00,611.50 356.00,611.50 357.00,611.50 358.00,611.50 359.00,611.50 360.00,611.50 361.00,611.50 362.00,611.50 363.00,611.50 364.00,611.50 365.00,611.50 366.00,611.50 367.00,611.50 368.00,611.50 369.00,611.50 370.00,611.50 371.00,611.50 372.00,611.50 373.00,611.50 374.00,611.50 375.00,611.50 376.00,611.50 377.00,611.50 378.00,611.50 379.00,611.50 380.00,611.50 381.00,611.50 382.00,611.50 383.00,611.50 384.00,611.50 385.00,611.50 386.00,611.50 387.00,611.50 388.00,611.50 389.00,611.50 390.00,611.50 391.00,611.50 392.00,611.50 393.00,611.50 394.00,611.50 395.00,611.50 396.00,611.50 397.00,611.50 398.00,611.50 399.00,611.50 400.00,611.50 401.00,611.50 402.00,611.50 403.00,611.50 404.00,611.50 405.00,611.50 406.00,611.50 407.00,611.50 408.00,611.50 409.00,611.50 410.00,611.50 411.00,611.50 412.00,611.50 413.00,611.50 414.00,611.50 415.00,611.50 416.00,611.50 416.25,611.50 416.25,626.50 416.00,626.50 415.00,626.50 414.00,626.50 413.00,626.50 412.00,626.50 411.00,626.50 410.00,626.50 409.00,626.50 408.00,626.50 407.00,626.50 406.00,626.50 405.00,626.50 404.00,626.50 403.00,626.50 402.00,626.50 401.00,626.50 400.00,626.50 399.00,626.50 398.00,626.50 397.00,626.50 396.00,626.50 395.00,626.50 394.00,626.50 393.00,626.50 392.00,626.50 391.00,626.50 390.00,626.50 389.00,626.50 388.00,626.50 387.00,626.50 386.00,626.50 385.00,626.50 384.00,626.50 383.00,626.50 382.00,626.50 381.00,626.50 380.00,626.50 379.00,626.50 378.00,626.50 377.00,626.50 376.00,626.50 375.00,626.50 374.00,626.50 373.00,626.50 372.00,626.50 371.00,626.50 370.00,626.50 369.00,626.50 368.00,626.50 367.00,626.50 366.00,626.50 365.00,626.50 364.00,626.50 363.00,626.50 362.00,626.50 361.00,626.50 360.00,626.50 359.00,626.50 358.00,626.50 357.00,626.50 356.00,626.50 355.00,626.50 354.00,626.50 353.00,626.50 352.00,626.50 351.00,626.50 350.00,626.50 349.00,626.50 348.00,626.50 347.00,626.50 346.00,626.50 345.00,626.50 344.00,626.50 343.00,626.50 342.00,626.50 341.00,626.50 340.00,626.50 339.00,626.50 338.00,626.50 337.00,626.50 336.00,626.50 335.00,625.50 335.00,623.50 334.50,623.46 333.50,623.38 332.50,623.30 331.50,623.22 330.50,623.14 329.50,623.06 328.50,622.97 327.50,622.89 326.50,622.80 325.50,622.71 324.50,622.62 323.50,622.53 322.50,622.44 321.50,622.35 320.50,622.26 319.50,622.16 318.50,622.07 317.50,621.97 316.50,621.87 315.50,621.78 314.50,621.67 313.50,621.57 312.50,621.47 311.50,621.36 310.50,621.26 309.50,621.15 308.50,621.03 307.50,620.92 306.50,620.80 305.50,620.68 304.50,620.56 303.50,620.44 302.50,620.31 301.50,620.18 300.50,620.05 299.50,619.93 298.50,619.84 297.50,619.73 296.50,619.63 295.50,619.52 294.50,619.41 293.50,619.30 292.50,619.18 291.50,619.06 290.50,618.94 289.50,618.81 288.50,618.68 287.50,618.55 286.50,618.41 285.50,618.27 284.50,618.13 283.50,617.98 282.50,617.82 281.50,617.67 280.50,617.51 279.50,617.34 278.50,617.17 277.50,616.99 276.50,616.79 275.50,616.59 274.50,616.38 273.50,616.16 272.50,615.93 271.50,615.70 270.50,615.46 269.50,615.21 268.50,614.96 267.50,614.70 266.50,614.44 265.50,614.17 264.50,613.90 263.50,613.63 262.50,613.36 261.50,613.08 260.50,612.81 259.50,612.53 258.50,612.25 257.50,611.98 256.50,611.70 255.50,611.43 254.50,611.16 253.50,610.89 252.50,610.61 251.50,610.33 250.50,610.04 249.50,609.72 248.50,609.36 247.50,609.00 246.50,608.63 245.50,608.27 244.50,607.90 243.50,607.53 242.50,607.16 241.50,606.78 240.50,606.41 239.50,606.04 238.50,605.67 237.50,605.30 236.50,604.93 235.50,604.57 234.50,604.22 233.50,603.88 232.50,603.54 231.50,603.21 230.50,602.87 229.50,602.53 228.50,602.19 227.50,601.83 226.50,601.45 225.50,601.06 224.50,600.65 223.50,600.21 222.50,599.75 221.50,599.25 220.50,598.68 219.50,598.03 218.50,597.32 217.50,596.56 216.50,595.76 215.50,594.93 214.50,594.09 213.50,593.25 212.50,592.42 211.50,591.62 210.50,590.86 209.50,590.15 208.50,589.47 207.50,588.81 206.50,588.18 205.50,587.55 204.50,586.92 203.50,586.29 202.50,585.65 201.50,585.00 200.50,584.32 199.50,583.62 198.50,582.89 197.50,582.11 196.50,581.26 195.50,580.38 194.50,579.46 193.50,578.53 192.50,577.62 191.50,576.73 190.50,575.86 189.50,574.99 188.50,574.13 187.50,573.27 186.50,572.42 185.50,571.59 184.50,570.77 183.50,569.97 182.50,569.18 181.50,568.40 180.50,567.63 179.50,566.86 178.50,566.09 177.50,565.32 176.50,564.55 175.50,563.78 174.50,563.01 173.50,562.25 172.50,561.48 171.50,560.71 170.50,559.94 169.50,559.17 168.50,558.42 167.50,557.67 166.50,556.92 165.50,556.16 164.50,555.37 163.50,554.56 162.50,553.70 161.50,552.78 160.50,551.80 159.50,550.78 158.50,549.73 157.50,548.67 156.50,547.60 155.50,546.55 154.50,545.53 153.50,544.53 152.50,543.54 151.50,542.56 150.50,541.56 149.50,540.54 148.50,539.48 147.50,538.38 146.50,537.19 145.50,535.92 144.50,534.60 143.50,533.25 142.50,531.92 141.50,530.62 140.50,529.39 139.50,528.25 138.50,527.10 137.50,525.97 136.50,524.91 135.50,523.96 134.50,523.16 133.50,522.51 132.50,521.94 131.50,521.43 130.50,520.96 129.50,520.43 128.50,519.81 127.50,519.18 126.50,518.55 125.50,517.92 124.50,517.29 123.50,516.69 122.50,516.12 121.50,515.59 120.50,515.10 119.50,514.67 118.50,514.30 117.50,513.95 116.50,513.63 115.50,513.31 114.50,513.01 113.50,512.70 112.50,512.38" fill="#A3DDAE" opacity="0.8"/>
<polygon points="112.50,512.07 113.50,511.80 114.50,511.50 115.50,511.21 116.50,510.98 117.50,510.86 118.50,511.44 119.50,512.87 120.50,514.57 121.50,515.93 122.50,516.98 123.50,517.96 124.50,519.01 125.50,520.25 126.50,521.69 127.50,523.23 128.50,524.81 129.50,526.35 130.50,527.88 131.50,529.48 132.50,531.19 133.50,533.35 134.50,535.81 135.50,537.90 136.50,539.29 137.50,540.34 138.50,541.17 139.50,541.87 140.50,542.57 141.50,543.36 142.50,544.34 143.50,545.47 144.50,546.69 145.50,547.93 146.50,549.12 147.50,550.22 148.50,551.18 149.50,552.06 150.50,552.89 151.50,553.71 152.50,554.55 153.50,555.45 154.50,556.45 155.50,557.47 156.50,558.57 157.50,559.82 158.50,561.17 159.50,562.52 160.50,563.82 161.50,565.06 162.50,566.34 163.50,567.60 164.50,568.84 165.50,570.00 166.50,571.08 167.50,572.12 168.50,573.13 169.50,574.09 170.50,574.95 171.50,575.69 172.50,576.27 173.50,576.73 174.50,577.09 175.50,577.42 176.50,577.73 177.50,578.08 178.50,578.49 179.50,579.02 180.50,579.76 181.50,580.69 182.50,581.72 183.50,582.73 184.50,583.63 185.50,584.37 186.50,585.05 187.50,585.67 188.50,586.25 189.50,586.82 190.50,587.38 191.50,587.95 192.50,588.54 193.50,589.14 194.50,589.75 195.50,590.35 196.50,590.95 197.50,591.55 198.50,592.15 199.50,592.75 200.50,593.34 201.50,593.93 202.50,594.52 203.50,595.09 204.50,595.67 205.50,596.23 206.50,596.79 207.50,597.34 208.50,597.92 209.50,598.51 210.50,599.11 211.50,599.71 212.50,600.29 213.50,600.83 214.50,601.34 215.50,601.79 216.50,602.18 217.50,602.50 218.50,602.78 219.50,603.04 220.50,603.27 221.50,603.48 222.50,603.67 223.50,603.86 224.50,604.03 225.50,604.20 226.50,604.37 227.50,604.54 228.50,604.72 229.50,604.90 230.00,605.00 230.00,607.00 231.00,607.37 232.00,607.73 233.00,608.09 234.00,608.44 235.00,608.80 236.00,609.16 237.00,609.54 238.00,609.92 239.00,610.32 240.00,610.74 241.00,611.11 242.00,611.52 243.00,611.97 244.00,612.44 245.00,612.91 246.00,613.37 247.00,613.80 248.00,614.18 249.00,614.51 250.00,614.77 251.00,615.00 252.00,615.24 253.00,615.48 254.00,615.70 255.00,615.89 256.00,616.04 257.00,616.15 258.00,616.20 259.00,616.19 260.00,616.10 261.00,616.10 262.00,616.10 263.00,616.10 264.00,616.10 265.00,616.10 266.00,616.10 267.00,616.10 268.00,616.10 269.00,616.10 270.00,616.10 271.00,616.10 272.00,616.10 273.00,616.10 274.00,616.10 275.00,616.10 276.00,616.10 277.00,616.10 278.00,616.10 279.00,616.10 280.00,616.10 281.00,616.10 282.00,616.10 283.00,616.10 284.00,616.10 285.00,616.10 286.00,616.10 287.00,616.10 288.00,616.10 289.00,616.10 290.00,616.10 291.00,616.10 292.00,616.10 293.00,616.10 294.00,616.10 295.00,616.10 296.00,616.10 297.00,616.10 298.00,616.10 299.00,616.10 300.00,616.10 301.00,616.10 302.00,616.10 303.00,616.10 304.00,616.10 305.00,616.10 306.00,616.10 307.00,616.10 308.00,616.10 309.00,616.10 310.00,616.10 311.00,616.10 312.00,616.10 313.00,616.10 314.00,616.10 315.00,616.10 316.00,616.10 317.00,616.10 318.00,616.10 319.00,616.10 320.00,616.10 321.00,616.10 322.00,616.10 323.00,616.10 323.80,616.10 323.80,633.10 323.00,633.10 322.00,633.10 321.00,633.10 320.00,633.10 319.00,633.10 318.00,633.10 317.00,633.10 316.00,633.10 315.00,633.10 314.00,633.10 313.00,633.10 312.00,633.10 311.00,633.10 310.00,633.10 309.00,633.10 308.00,633.10 307.00,633.10 306.00,633.10 305.00,633.10 304.00,633.10 303.00,633.10 302.00,633.10 301.00,633.10 300.00,633.10 299.00,633.10 298.00,633.10 297.00,633.10 296.00,633.10 295.00,633.10 294.00,633.10 293.00,633.10 292.00,633.10 291.00,633.10 290.00,633.10 289.00,633.10 288.00,633.10 287.00,633.10 286.00,633.10 285.00,633.10 284.00,633.10 283.00,633.10 282.00,633.10 281.00,633.10 280.00,633.10 279.00,633.10 278.00,633.10 277.00,633.10 276.00,633.10 275.00,633.10 274.00,633.10 273.00,633.10 272.00,633.10 271.00,633.10 270.00,633.10 269.00,633.10 268.00,633.10 267.00,633.10 266.00,633.10 265.00,633.10 264.00,633.10 263.00,633.10 262.00,633.10 261.00,633.10 260.00,633.10 259.00,633.34 258.00,633.50 257.00,633.50 256.00,633.50 255.00,633.50 254.00,633.50 253.00,633.50 252.00,633.49 251.00,633.41 250.00,633.32 249.00,633.22 248.00,633.05 247.00,632.82 246.00,632.55 245.00,632.25 244.00,631.93 243.00,631.62 242.00,631.33 241.00,631.07 240.00,630.86 239.00,630.69 238.00,630.55 237.00,630.42 236.00,630.30 235.00,630.19 234.00,630.09 233.00,629.99 232.00,629.89 231.00,629.79 230.00,629.67 230.00,627.67 229.50,627.70 228.50,627.77 227.50,627.85 226.50,627.94 225.50,628.03 224.50,628.11 223.50,628.19 222.50,628.27 221.50,628.33 220.50,628.37 219.50,628.40 218.50,628.40 217.50,628.37 216.50,628.11 215.50,627.60 214.50,627.03 213.50,626.40 212.50,625.72 211.50,625.02 210.50,624.30 209.50,623.58 208.50,622.86 207.50,622.15 206.50,621.47 205.50,620.79 204.50,620.10 203.50,619.41 202.50,618.70 201.50,617.99 200.50,617.28 199.50,616.56 198.50,615.84 197.50,615.11 196.50,614.39 195.50,613.66 194.50,612.93 193.50,612.21 192.50,611.48 191.50,610.76 190.50,610.06 189.50,609.38 188.50,608.69 187.50,607.98 186.50,607.23 185.50,606.43 184.50,605.58 183.50,604.58 182.50,603.47 181.50,602.34 180.50,601.31 179.50,600.47 178.50,599.84 177.50,599.33 176.50,598.88 175.50,598.47 174.50,598.04 173.50,597.58 172.50,597.02 171.50,596.34 170.50,595.50 169.50,594.54 168.50,593.48 167.50,592.37 166.50,591.23 165.50,590.05 164.50,588.79 163.50,587.45 162.50,586.09 161.50,584.71 160.50,583.37 159.50,581.97 158.50,580.52 157.50,579.07 156.50,577.72 155.50,576.52 154.50,575.48 153.50,574.53 152.50,573.68 151.50,572.89 150.50,572.13 149.50,571.35 148.50,570.52 147.50,569.61 146.50,568.57 145.50,567.43 144.50,566.24 143.50,565.08 142.50,564.00 141.50,563.07 140.50,562.33 139.50,561.69 138.50,561.03 137.50,560.26 136.50,559.27 135.50,557.54 134.50,554.72 133.50,551.53 132.50,548.65 131.50,546.21 130.50,543.88 129.50,541.62 128.50,539.35 127.50,537.05 126.50,534.78 125.50,532.61 124.50,530.55 123.50,528.57 122.50,526.67 121.50,524.70 120.50,522.42 119.50,519.80 118.50,517.44 117.50,515.94 116.50,515.14 115.50,514.44 114.50,513.81 113.50,513.18 112.50,512.53" fill="#BBD2F4" opacity="0.8"/>
<polyline points="112.50,512.30 113.50,512.39 114.50,512.47 115.50,512.54 116.50,512.62 117.50,512.71 118.50,512.81 119.50,512.93 120.50,513.09 121.50,513.34 122.50,513.67 123.50,514.06 124.50,514.50 125.50,514.95 126.50,515.40 127.50,515.82 128.50,516.20 129.50,516.52 130.50,516.82 131.50,517.09 132.50,517.35 133.50,517.61 134.50,517.88 135.50,518.16 136.50,518.46 137.50,518.79 138.50,519.15 139.50,519.57 140.50,520.04 141.50,520.55 142.50,521.08 143.50,521.63 144.50,522.18 145.50,522.74 146.50,523.28 147.50,523.80 148.50,524.31 149.50,524.81 150.50,525.31 151.50,525.82 152.50,526.32 153.50,526.82 154.50,527.32 155.50,527.81 156.50,528.30 157.50,528.79 158.50,529.27 159.50,529.75 160.50,530.22 161.50,530.70 162.50,531.17 163.50,531.64 164.50,532.12 165.50,532.61 166.50,533.10 167.50,533.60 168.50,534.10 169.50,534.61 170.50,535.13 171.50,535.64 172.50,536.16 173.50,536.67 174.50,537.19 175.50,537.70 176.50,538.20 177.50,538.70 178.50,539.19 179.50,539.68 180.50,540.17 181.50,540.67 182.50,541.18 183.50,541.69 184.50,542.23 185.50,542.78 186.50,543.35 187.50,543.93 188.50,544.53 189.50,545.14 190.50,545.76 191.50,546.39 192.50,547.01 193.50,547.64 194.50,548.26 195.50,548.88 196.50,549.50 197.50,550.12 198.50,550.75 199.50,551.38 200.50,552.02 201.50,552.66 202.50,553.32 203.50,554.00 204.50,554.69 205.50,555.42 206.50,556.18 207.50,556.95 208.50,557.72 209.50,558.49 210.50,559.25 211.50,559.98 212.50,560.67 213.50,561.32 214.50,561.96 215.50,562.58 216.50,563.19 217.50,563.78 218.50,564.35 219.50,564.90 220.50,565.42 221.50,565.91 222.50,566.36 223.50,566.80 224.50,567.21 225.50,567.61 226.50,567.99 227.50,568.36 228.50,568.72 229.50,569.07 230.50,569.42 231.50,569.77 232.50,570.12 233.50,570.48 234.50,570.85 235.50,571.23 236.50,571.62 237.50,572.03 238.50,572.44 239.50,572.85 240.50,573.27 241.50,573.70 242.50,574.13 243.50,574.56 244.50,574.99 245.50,575.43 246.50,575.87 247.50,576.31 248.50,576.75 249.50,577.20 250.50,577.64 251.50,578.08 252.50,578.53 253.50,578.97 254.50,579.41 255.50,579.86 256.50,580.32 257.50,580.79 258.50,581.27 259.50,581.75 260.50,582.25 261.50,582.75 262.50,583.25 263.50,583.76 264.50,584.26 265.50,584.76 266.50,585.26 267.50,585.76 268.50,586.24 269.50,586.72 270.50,587.19 271.50,587.64 272.50,588.08 273.50,588.51 274.50,588.91 275.50,589.30 276.50,589.67 277.50,590.01 278.50,590.33 279.50,590.63 280.50,590.90 281.50,591.17 282.50,591.42 283.50,591.66 284.50,591.90 285.50,592.12 286.50,592.34 287.50,592.54 288.50,592.75 289.50,592.95 290.50,593.14 291.50,593.33 292.50,593.52 293.50,593.70 294.50,593.89 295.50,594.08 296.50,594.26 297.50,594.45 298.50,594.64 299.50,594.84 300.50,595.03 301.50,595.23 302.50,595.42 303.50,595.60 304.50,595.79 305.50,595.96 306.50,596.13 307.50,596.29 308.50,596.43 309.50,596.57 310.50,596.69 311.50,596.80 312.50,596.90 313.50,596.99 314.50,597.07 315.50,597.15 316.50,597.22 317.50,597.29 318.50,597.36 319.50,597.43 320.50,597.49 321.50,597.55 322.50,597.61 323.50,597.67 324.50,597.73 325.50,597.79 326.50,597.85 327.50,597.92 328.50,597.98 328.75,598.00 328.75,601.70 329.75,601.70 330.75,601.70 331.75,601.70 332.75,601.70 333.75,601.70 334.75,601.70 335.75,601.70 336.75,601.70 337.75,601.70 338.75,601.70 339.75,601.70 340.75,601.70 341.75,601.70 342.75,601.70 343.75,601.70 344.75,601.70 345.75,601.70 346.75,601.70 347.75,601.70 348.75,601.70 349.75,601.70 350.75,601.70 351.75,601.70 352.75,601.70 353.75,601.70 354.75,601.70 355.75,601.70 356.75,601.70 357.75,601.70 358.75,601.70 359.75,601.70 360.75,601.70 361.75,601.70 362.75,601.70 363.75,601.70 364.75,601.70 365.75,601.70 366.75,601.70 367.75,601.70 368.75,601.70 369.75,601.70 370.75,601.70 371.75,601.70 372.75,601.70 373.75,601.70 374.75,601.70 375.75,601.70 376.75,601.70 377.75,601.70 378.75,601.70 379.75,601.70 380.75,601.70 381.75,601.70 382.75,601.70 383.75,601.70 384.75,601.70 385.75,601.70 386.75,601.70 387.75,601.70 388.75,601.70 389.75,601.70 390.75,601.70 391.75,601.70 392.75,601.70 393.75,601.70 394.75,601.70 395.75,601.70 396.75,601.70 397.50,601.70 397.50,607.20 398.50,607.20 399.50,607.20 400.50,607.20 401.50,607.20 402.50,607.20 403.50,607.20 404.50,607.20 405.50,607.20 406.50,607.20 407.50,607.20 408.50,607.20 409.50,607.20 410.50,607.20 411.50,607.20 412.50,607.20 413.50,607.20 414.50,607.20 415.50,607.20 416.50,607.20 417.50,607.20 418.50,607.20 419.50,607.20 420.50,607.20 421.50,607.20 422.50,607.20 423.50,607.20 424.50,607.20 425.50,607.20 426.50,607.20 427.50,607.20 428.50,607.20 429.50,607.20 430.50,607.20 431.50,607.20 432.50,607.20 433.50,607.20 434.50,607.20 435.50,607.20 436.50,607.20 437.50,607.20 438.50,607.20 439.50,607.20 440.50,607.20 441.25,607.20" fill="none" stroke="#E36D68" stroke-width="2.3" stroke-linejoin="round"/>
<polyline points="112.50,512.30 113.50,512.45 114.50,512.59 115.50,512.73 116.50,512.88 117.50,513.03 118.50,513.21 119.50,513.42 120.50,513.68 121.50,514.00 122.50,514.37 123.50,514.77 124.50,515.21 125.50,515.67 126.50,516.13 127.50,516.60 128.50,517.06 129.50,517.51 130.50,517.95 131.50,518.40 132.50,518.89 133.50,519.44 134.50,520.07 135.50,520.84 136.50,521.77 137.50,522.81 138.50,523.92 139.50,525.04 140.50,526.17 141.50,527.37 142.50,528.65 143.50,529.96 144.50,531.29 145.50,532.59 146.50,533.84 147.50,535.00 148.50,536.08 149.50,537.12 150.50,538.12 151.50,539.10 152.50,540.06 153.50,541.03 154.50,542.00 155.50,543.00 156.50,544.03 157.50,545.08 158.50,546.12 159.50,547.15 160.50,548.15 161.50,549.10 162.50,550.00 163.50,550.84 164.50,551.63 165.50,552.40 166.50,553.14 167.50,553.87 168.50,554.59 169.50,555.33 170.50,556.08 171.50,556.82 172.50,557.57 173.50,558.31 174.50,559.06 175.50,559.80 176.50,560.55 177.50,561.30 178.50,562.05 179.50,562.80 180.50,563.55 181.50,564.30 182.50,565.06 183.50,565.82 184.50,566.60 185.50,567.40 186.50,568.21 187.50,569.04 188.50,569.87 189.50,570.72 190.50,571.57 191.50,572.42 192.50,573.28 193.50,574.17 194.50,575.08 195.50,575.97 196.50,576.84 197.50,577.66 198.50,578.42 199.50,579.13 200.50,579.81 201.50,580.45 202.50,581.08 203.50,581.69 204.50,582.28 205.50,582.88 206.50,583.48 207.50,584.09 208.50,584.72 209.50,585.36 210.50,586.05 211.50,586.78 212.50,587.55 213.50,588.34 214.50,589.15 215.50,589.96 216.50,590.76 217.50,591.53 218.50,592.27 219.50,592.95 220.50,593.56 221.50,594.10 222.50,594.57 223.50,595.01 224.50,595.41 225.50,595.80 226.50,596.16 227.50,596.50 228.50,596.83 229.50,597.15 230.50,597.46 231.50,597.76 232.50,598.07 233.50,598.37 234.50,598.68 235.50,599.00 236.50,599.33 237.50,599.67 238.50,600.01 239.50,600.36 240.50,600.70 241.50,601.04 242.50,601.38 243.50,601.72 244.50,602.06 245.50,602.40 246.50,602.74 247.50,603.07 248.50,603.41 249.50,603.74 250.50,604.06 251.50,604.39 252.50,604.71 253.50,605.03 254.50,605.34 255.50,605.65 256.50,605.96 257.50,606.28 258.50,606.59 259.50,606.91 260.50,607.23 261.50,607.54 262.50,607.86 263.50,608.17 264.50,608.48 265.50,608.79 266.50,609.10 267.50,609.40 268.50,609.70 269.50,609.99 270.50,610.28 271.50,610.56 272.50,610.83 273.50,611.10 274.50,611.36 275.50,611.61 276.50,611.85 277.50,612.09 278.50,612.31 279.50,612.52 280.50,612.73 281.50,612.93 282.50,613.12 283.50,613.32 284.50,613.51 285.50,613.69 286.50,613.87 287.50,614.05 288.50,614.22 289.50,614.39 290.50,614.56 291.50,614.72 292.50,614.88 293.50,615.04 294.50,615.19 295.50,615.34 296.50,615.49 297.50,615.63 298.50,615.78 299.50,615.91 300.50,616.05 301.50,616.18 302.50,616.31 303.50,616.44 304.50,616.56 305.50,616.68 306.50,616.80 307.50,616.92 308.50,617.03 309.50,617.15 310.50,617.26 311.50,617.36 312.50,617.47 313.50,617.57 314.50,617.67 315.50,617.78 316.50,617.87 317.50,617.97 318.50,618.07 319.50,618.16 320.50,618.26 321.50,618.35 322.50,618.44 323.50,618.53 324.50,618.62 325.50,618.71 326.50,618.80 327.50,618.89 328.50,618.97 329.50,619.06 330.50,619.14 331.50,619.22 332.50,619.30 333.50,619.38 334.50,619.46 335.00,619.50 335.00,621.50 336.00,621.50 337.00,621.50 338.00,621.50 339.00,621.50 340.00,621.50 341.00,621.50 342.00,621.50 343.00,621.50 344.00,621.50 345.00,621.50 346.00,621.50 347.00,621.50 348.00,621.50 349.00,621.50 350.00,621.50 351.00,621.50 352.00,621.50 353.00,621.50 354.00,621.50 355.00,621.50 356.00,621.50 357.00,621.50 358.00,621.50 359.00,621.50 360.00,621.50 361.00,621.50 362.00,621.50 363.00,621.50 364.00,621.50 365.00,621.50 366.00,621.50 367.00,621.50 368.00,621.50 369.00,621.50 370.00,621.50 371.00,621.50 372.00,621.50 373.00,621.50 374.00,621.50 375.00,621.50 376.00,621.50 377.00,621.50 378.00,621.50 379.00,621.50 380.00,621.50 381.00,621.50 382.00,621.50 383.00,621.50 384.00,621.50 385.00,621.50 386.00,621.50 387.00,621.50 388.00,621.50 389.00,621.50 390.00,621.50 391.00,621.50 392.00,621.50 393.00,621.50 394.00,621.50 395.00,621.50 396.00,621.50 397.00,621.50 398.00,621.50 399.00,621.50 400.00,621.50 401.00,621.50 402.00,621.50 403.00,621.50 404.00,621.50 405.00,621.50 406.00,621.50 407.00,621.50 408.00,621.50 409.00,621.50 410.00,621.50 411.00,621.50 412.00,621.50 413.00,621.50 414.00,621.50 415.00,621.50 416.00,621.50 416.25,621.50" fill="none" stroke="#1E9B3C" stroke-width="2.3" stroke-linejoin="round"/>
<polyline points="112.50,512.30 113.50,512.49 114.50,512.65 115.50,512.83 116.50,513.06 117.50,513.40 118.50,514.44 119.50,516.34 120.50,518.49 121.50,520.32 122.50,521.82 123.50,523.27 124.50,524.78 125.50,526.48 126.50,528.37 127.50,530.37 128.50,532.40 129.50,534.39 130.50,536.38 131.50,538.43 132.50,540.60 133.50,543.21 134.50,546.13 135.50,548.67 136.50,550.21 137.50,551.10 138.50,551.77 139.50,552.32 140.50,552.86 141.50,553.50 142.50,554.32 143.50,555.29 144.50,556.35 145.50,557.43 146.50,558.47 147.50,559.40 148.50,560.21 149.50,560.93 150.50,561.60 151.50,562.26 152.50,562.95 153.50,563.69 154.50,564.53 155.50,565.52 156.50,566.72 157.50,568.07 158.50,569.52 159.50,570.97 160.50,572.37 161.50,573.71 162.50,575.09 163.50,576.45 164.50,577.79 165.50,579.05 166.50,580.23 167.50,581.37 168.50,582.48 169.50,583.54 170.50,584.50 171.50,585.34 172.50,586.02 173.50,586.58 174.50,587.04 175.50,587.47 176.50,587.88 177.50,588.33 178.50,588.84 179.50,589.47 180.50,590.31 181.50,591.34 182.50,592.47 183.50,593.58 184.50,594.58 185.50,595.38 186.50,596.09 187.50,596.75 188.50,597.36 189.50,597.96 190.50,598.55 191.50,599.15 192.50,599.78 193.50,600.41 194.50,601.04 195.50,601.68 196.50,602.31 197.50,602.94 198.50,603.57 199.50,604.20 200.50,604.83 201.50,605.45 202.50,606.06 203.50,606.67 204.50,607.28 205.50,607.87 206.50,608.46 207.50,609.04 208.50,609.65 209.50,610.28 210.50,610.91 211.50,611.54 212.50,612.14 213.50,612.72 214.50,613.26 215.50,613.74 216.50,614.16 217.50,614.50 218.50,614.78 219.50,615.04 220.50,615.27 221.50,615.48 222.50,615.67 223.50,615.86 224.50,616.03 225.50,616.20 226.50,616.37 227.50,616.54 228.50,616.72 229.50,616.90 230.00,617.00 230.00,619.00 231.00,619.37 232.00,619.73 233.00,620.09 234.00,620.44 235.00,620.80 236.00,621.16 237.00,621.54 238.00,621.92 239.00,622.32 240.00,622.74 241.00,623.21 242.00,623.72 243.00,624.27 244.00,624.84 245.00,625.41 246.00,625.97 247.00,626.50 248.00,626.98 249.00,627.41 250.00,627.77 251.00,628.10 252.00,628.44 253.00,628.78 254.00,629.10 255.00,629.39 256.00,629.64 257.00,629.85 258.00,630.00 259.00,630.09 260.00,630.10 261.00,630.10 262.00,630.10 263.00,630.10 264.00,630.10 265.00,630.10 266.00,630.10 267.00,630.10 268.00,630.10 269.00,630.10 270.00,630.10 271.00,630.10 272.00,630.10 273.00,630.10 274.00,630.10 275.00,630.10 276.00,630.10 277.00,630.10 278.00,630.10 279.00,630.10 280.00,630.10 281.00,630.10 282.00,630.10 283.00,630.10 284.00,630.10 285.00,630.10 286.00,630.10 287.00,630.10 288.00,630.10 289.00,630.10 290.00,630.10 291.00,630.10 292.00,630.10 293.00,630.10 294.00,630.10 295.00,630.10 296.00,630.10 297.00,630.10 298.00,630.10 299.00,630.10 300.00,630.10 301.00,630.10 302.00,630.10 303.00,630.10 304.00,630.10 305.00,630.10 306.00,630.10 307.00,630.10 308.00,630.10 309.00,630.10 310.00,630.10 311.00,630.10 312.00,630.10 313.00,630.10 314.00,630.10 315.00,630.10 316.00,630.10 317.00,630.10 318.00,630.10 319.00,630.10 320.00,630.10 321.00,630.10 322.00,630.10 323.00,630.10 323.80,630.10" fill="none" stroke="#5683D6" stroke-width="2.3" stroke-linejoin="round"/>
<path d="M120.50 511.29V514.29M127.49 514.01V517.01M135.23 516.28V519.28M141.40 518.69V521.69M150.46 523.49V526.49M157.81 527.14V530.14M165.31 530.72V533.72M170.88 533.52V536.52M178.01 537.15V540.15M182.05 539.15V542.15M188.85 542.95V545.95M191.91 544.84V547.84M200.94 550.50V553.50M210.25 557.26V560.26M215.70 560.91V563.91M219.30 562.99V565.99M229.27 567.19V570.19M237.87 570.38V573.38M244.34 573.12V576.12M247.86 574.67V577.67M257.30 578.89V581.89M266.63 583.53V586.53M273.49 586.70V589.70M280.49 589.10V592.10M284.77 590.16V593.16M291.29 591.49V594.49M297.06 592.57V595.57M303.39 593.78V596.78M311.71 595.02V598.02M319.82 595.65V598.65M327.53 596.12V599.12M331.31 599.90V602.90M335.17 599.90V602.90M340.03 599.90V602.90M349.45 599.90V602.90M359.30 599.90V602.90M366.70 599.90V602.90M371.94 599.90V602.90M377.47 599.90V602.90M386.32 599.90V602.90M395.69 599.90V602.90M400.77 605.40V608.40M406.11 605.40V608.40M414.83 605.40V608.40M420.13 605.40V608.40M426.14 605.40V608.40M429.76 605.40V608.40" stroke="#E36D68" stroke-width="0.9" fill="none"/>
<path d="M120.50 511.88V514.88M125.49 513.86V516.86M135.47 519.02V522.02M139.89 523.68V526.68M149.08 534.89V537.89M157.36 543.13V546.13M167.00 551.70V554.70M170.98 554.63V557.63M178.23 560.05V563.05M186.35 566.29V569.29M194.12 572.94V575.94M202.13 579.05V582.05M206.10 581.44V584.44M214.25 587.15V590.15M221.41 592.26V595.26M228.19 594.93V597.93M237.42 597.85V600.85M244.14 600.14V603.14M248.09 601.47V604.47M255.46 603.84V606.84M264.07 606.55V609.55M273.54 609.31V612.31M276.73 610.11V613.11M286.24 612.02V615.02M294.04 613.32V616.32M302.03 614.45V617.45M306.40 614.99V617.99M316.31 616.06V619.06M323.79 616.76V619.76M331.25 617.40V620.40M339.40 619.70V622.70M345.29 619.70V622.70M353.72 619.70V622.70M359.67 619.70V622.70M367.79 619.70V622.70M373.62 619.70V622.70M378.19 619.70V622.70M386.32 619.70V622.70M391.84 619.70V622.70M399.86 619.70V622.70M409.86 619.70V622.70" stroke="#1E9B3C" stroke-width="0.9" fill="none"/>
<path d="M120.50 516.69V519.69M125.56 524.79V527.79M131.01 535.63V538.63M135.67 547.18V550.18M141.78 551.91V554.91M147.78 557.84V560.84M155.09 563.30V566.30M162.65 573.49V576.49M169.88 582.12V585.12M177.05 586.32V589.32M181.70 589.76V592.76M187.36 594.86V597.86M196.52 600.53V603.53M202.47 604.24V607.24M208.37 607.77V610.77M216.22 612.25V615.25M223.64 614.08V617.08M233.16 618.34V621.34M237.97 620.11V623.11" stroke="#5683D6" stroke-width="0.9" fill="none"/>
<line x1="112.80" y1="572.70" x2="236.70" y2="572.70" stroke="#222" stroke-width="0.9" stroke-dasharray="3,2.2"/>
<line x1="160.40" y1="572.70" x2="160.40" y2="633.10" stroke="#222" stroke-width="0.9" stroke-dasharray="3,2.2"/>
<line x1="191.90" y1="572.70" x2="191.90" y2="633.10" stroke="#222" stroke-width="0.9" stroke-dasharray="3,2.2"/>
<line x1="236.70" y1="572.70" x2="236.70" y2="633.10" stroke="#222" stroke-width="0.9" stroke-dasharray="3,2.2"/>
<line x1="96.90" y1="506.70" x2="96.90" y2="638.60" stroke="#333" stroke-width="1"/>
<line x1="96.90" y1="638.60" x2="445.50" y2="638.60" stroke="#333" stroke-width="1"/>
<line x1="94.30" y1="633.10" x2="96.90" y2="633.10" stroke="#333" stroke-width="0.8"/>
<text x="93.50" y="635.80" font-size="7.6" text-anchor="end" fill="#222" stroke="#222" stroke-width="0.22">0.00</text>
<line x1="94.30" y1="602.90" x2="96.90" y2="602.90" stroke="#333" stroke-width="0.8"/>
<text x="93.50" y="605.60" font-size="7.6" text-anchor="end" fill="#222" stroke="#222" stroke-width="0.22">0.25</text>
<line x1="94.30" y1="572.70" x2="96.90" y2="572.70" stroke="#333" stroke-width="0.8"/>
<text x="93.50" y="575.40" font-size="7.6" text-anchor="end" fill="#222" stroke="#222" stroke-width="0.22">0.50</text>
<line x1="94.30" y1="542.50" x2="96.90" y2="542.50" stroke="#333" stroke-width="0.8"/>
<text x="93.50" y="545.20" font-size="7.6" text-anchor="end" fill="#222" stroke="#222" stroke-width="0.22">0.75</text>
<line x1="94.30" y1="512.30" x2="96.90" y2="512.30" stroke="#333" stroke-width="0.8"/>
<text x="93.50" y="515.00" font-size="7.6" text-anchor="end" fill="#222" stroke="#222" stroke-width="0.22">1.00</text>
<line x1="112.80" y1="638.60" x2="112.80" y2="641.20" stroke="#333" stroke-width="0.8"/>
<text x="112.80" y="648.40" font-size="7.9" text-anchor="middle" fill="#222" stroke="#222" stroke-width="0.25">0</text>
<line x1="143.10" y1="638.60" x2="143.10" y2="641.20" stroke="#333" stroke-width="0.8"/>
<text x="143.10" y="648.40" font-size="7.9" text-anchor="middle" fill="#222" stroke="#222" stroke-width="0.25">12</text>
<line x1="173.40" y1="638.60" x2="173.40" y2="641.20" stroke="#333" stroke-width="0.8"/>
<text x="173.40" y="648.40" font-size="7.9" text-anchor="middle" fill="#222" stroke="#222" stroke-width="0.25">24</text>
<line x1="203.70" y1="638.60" x2="203.70" y2="641.20" stroke="#333" stroke-width="0.8"/>
<text x="203.70" y="648.40" font-size="7.9" text-anchor="middle" fill="#222" stroke="#222" stroke-width="0.25">36</text>
<line x1="234.00" y1="638.60" x2="234.00" y2="641.20" stroke="#333" stroke-width="0.8"/>
<text x="234.00" y="648.40" font-size="7.9" text-anchor="middle" fill="#222" stroke="#222" stroke-width="0.25">48</text>
<line x1="264.30" y1="638.60" x2="264.30" y2="641.20" stroke="#333" stroke-width="0.8"/>
<text x="264.30" y="648.40" font-size="7.9" text-anchor="middle" fill="#222" stroke="#222" stroke-width="0.25">60</text>
<line x1="294.60" y1="638.60" x2="294.60" y2="641.20" stroke="#333" stroke-width="0.8"/>
<text x="294.60" y="648.40" font-size="7.9" text-anchor="middle" fill="#222" stroke="#222" stroke-width="0.25">72</text>
<line x1="324.90" y1="638.60" x2="324.90" y2="641.20" stroke="#333" stroke-width="0.8"/>
<text x="324.90" y="648.40" font-size="7.9" text-anchor="middle" fill="#222" stroke="#222" stroke-width="0.25">84</text>
<line x1="355.20" y1="638.60" x2="355.20" y2="641.20" stroke="#333" stroke-width="0.8"/>
<text x="355.20" y="648.40" font-size="7.9" text-anchor="middle" fill="#222" stroke="#222" stroke-width="0.25">96</text>
<line x1="385.50" y1="638.60" x2="385.50" y2="641.20" stroke="#333" stroke-width="0.8"/>
<text x="385.50" y="648.40" font-size="7.9" text-anchor="middle" fill="#222" stroke="#222" stroke-width="0.25">108</text>
<line x1="415.80" y1="638.60" x2="415.80" y2="641.20" stroke="#333" stroke-width="0.8"/>
<text x="415.80" y="648.40" font-size="7.9" text-anchor="middle" fill="#222" stroke="#222" stroke-width="0.25">120</text>
<text x="273.70" y="657.90" font-size="8.6" text-anchor="middle" fill="#111" stroke="#111" stroke-width="0.22">Overall survival (months)</text>
<text transform="translate(67.50,572.70) rotate(-90)" font-size="9.8" text-anchor="middle" fill="#111" stroke="#111" stroke-width="0.22">Survival probability</text>
<text x="253.30" y="509.20" font-size="9.9" font-weight="bold" text-anchor="middle" fill="#111">Internal validation cohort</text>
<text x="13.50" y="507.80" font-size="23" font-weight="bold" stroke="#000" stroke-width="0.5">D</text>
<text x="118.30" y="600.30" font-size="8.4" fill="#222" stroke="#222" stroke-width="0.22">Log−rank</text>
<text x="118.30" y="611.70" font-size="8.4" fill="#222" stroke="#222" stroke-width="0.22">p &lt; 0.0001</text>
<text x="338.75" y="524.40" font-size="7.4" fill="#111" stroke="#111" stroke-width="0.22">Overall survival</text>
<rect x="338.75" y="528.30" width="9.8" height="10" fill="#F6BBB5" opacity="0.8"/>
<line x1="338.75" y1="533.30" x2="348.55" y2="533.30" stroke="#E36D68" stroke-width="1.1"/>
<line x1="343.65" y1="531.80" x2="343.65" y2="534.80" stroke="#E36D68" stroke-width="0.8"/>
<text x="351.95" y="535.40" font-size="6.1" fill="#111" stroke="#111" stroke-width="0.22">Low−risk strata</text>
<rect x="338.75" y="538.95" width="9.8" height="10" fill="#A3DDAE" opacity="0.8"/>
<line x1="338.75" y1="543.95" x2="348.55" y2="543.95" stroke="#1E9B3C" stroke-width="1.1"/>
<line x1="343.65" y1="542.45" x2="343.65" y2="545.45" stroke="#1E9B3C" stroke-width="0.8"/>
<text x="351.95" y="546.05" font-size="6.1" fill="#111" stroke="#111" stroke-width="0.22">Intermediate−risk strata</text>
<rect x="338.75" y="549.60" width="9.8" height="10" fill="#BBD2F4" opacity="0.8"/>
<line x1="338.75" y1="554.60" x2="348.55" y2="554.60" stroke="#5683D6" stroke-width="1.1"/>
<line x1="343.65" y1="553.10" x2="343.65" y2="556.10" stroke="#5683D6" stroke-width="0.8"/>
<text x="351.95" y="556.70" font-size="6.1" fill="#111" stroke="#111" stroke-width="0.22">High−risk strata</text>
<text x="97.00" y="672.90" font-size="9.7" fill="#111" stroke="#111" stroke-width="0.22">Number at risk</text>
<line x1="96.50" y1="678.90" x2="96.50" y2="707.40" stroke="#333" stroke-width="1"/>
<line x1="96.50" y1="707.40" x2="445.50" y2="707.40" stroke="#333" stroke-width="1"/>
<line x1="93.90" y1="684.10" x2="96.90" y2="684.10" stroke="#333" stroke-width="0.8"/>
<text x="93.40" y="686.70" font-size="7.2" text-anchor="end" fill="#E8908C" stroke="#E8908C" stroke-width="0.22">Low−risk <tspan dx="2.0">strata</tspan></text>
<text x="112.80" y="687.10" font-size="8.3" text-anchor="middle" fill="#111" stroke="#111" stroke-width="0.16">414</text>
<text x="143.10" y="687.10" font-size="8.3" text-anchor="middle" fill="#111" stroke="#111" stroke-width="0.16">379</text>
<text x="173.40" y="687.10" font-size="8.3" text-anchor="middle" fill="#111" stroke="#111" stroke-width="0.16">312</text>
<text x="203.70" y="687.10" font-size="8.3" text-anchor="middle" fill="#111" stroke="#111" stroke-width="0.16">212</text>
<text x="234.00" y="687.10" font-size="8.3" text-anchor="middle" fill="#111" stroke="#111" stroke-width="0.16">119</text>
<text x="264.30" y="687.10" font-size="8.3" text-anchor="middle" fill="#111" stroke="#111" stroke-width="0.16">59</text>
<text x="294.60" y="687.10" font-size="8.3" text-anchor="middle" fill="#111" stroke="#111" stroke-width="0.16">38</text>
<text x="324.90" y="687.10" font-size="8.3" text-anchor="middle" fill="#111" stroke="#111" stroke-width="0.16">23</text>
<text x="355.20" y="687.10" font-size="8.3" text-anchor="middle" fill="#111" stroke="#111" stroke-width="0.16">15</text>
<text x="385.50" y="687.10" font-size="8.3" text-anchor="middle" fill="#111" stroke="#111" stroke-width="0.16">8</text>
<text x="415.80" y="687.10" font-size="8.3" text-anchor="middle" fill="#111" stroke="#111" stroke-width="0.16">2</text>
<line x1="93.90" y1="693.10" x2="96.90" y2="693.10" stroke="#333" stroke-width="0.8"/>
<text x="93.40" y="695.70" font-size="7.2" text-anchor="end" fill="#3DAF5C" stroke="#3DAF5C" stroke-width="0.22">Intermediate−risk <tspan dx="2.0">strata</tspan></text>
<text x="112.80" y="696.10" font-size="8.3" text-anchor="middle" fill="#111" stroke="#111" stroke-width="0.16">278</text>
<text x="143.10" y="696.10" font-size="8.3" text-anchor="middle" fill="#111" stroke="#111" stroke-width="0.16">240</text>
<text x="173.40" y="696.10" font-size="8.3" text-anchor="middle" fill="#111" stroke="#111" stroke-width="0.16">174</text>
<text x="203.70" y="696.10" font-size="8.3" text-anchor="middle" fill="#111" stroke="#111" stroke-width="0.16">92</text>
<text x="234.00" y="696.10" font-size="8.3" text-anchor="middle" fill="#111" stroke="#111" stroke-width="0.16">46</text>
<text x="264.30" y="696.10" font-size="8.3" text-anchor="middle" fill="#111" stroke="#111" stroke-width="0.16">25</text>
<text x="294.60" y="696.10" font-size="8.3" text-anchor="middle" fill="#111" stroke="#111" stroke-width="0.16">14</text>
<text x="324.90" y="696.10" font-size="8.3" text-anchor="middle" fill="#111" stroke="#111" stroke-width="0.16">6</text>
<text x="355.20" y="696.10" font-size="8.3" text-anchor="middle" fill="#111" stroke="#111" stroke-width="0.16">5</text>
<text x="385.50" y="696.10" font-size="8.3" text-anchor="middle" fill="#111" stroke="#111" stroke-width="0.16">2</text>
<text x="415.80" y="696.10" font-size="8.3" text-anchor="middle" fill="#111" stroke="#111" stroke-width="0.16">0</text>
<line x1="93.90" y1="702.10" x2="96.90" y2="702.10" stroke="#333" stroke-width="0.8"/>
<text x="93.40" y="704.70" font-size="7.2" text-anchor="end" fill="#7C9EE0" stroke="#7C9EE0" stroke-width="0.22">High−risk <tspan dx="2.0">strata</tspan></text>
<text x="112.80" y="705.10" font-size="8.3" text-anchor="middle" fill="#111" stroke="#111" stroke-width="0.16">111</text>
<text x="143.10" y="705.10" font-size="8.3" text-anchor="middle" fill="#111" stroke="#111" stroke-width="0.16">72</text>
<text x="173.40" y="705.10" font-size="8.3" text-anchor="middle" fill="#111" stroke="#111" stroke-width="0.16">36</text>
<text x="203.70" y="705.10" font-size="8.3" text-anchor="middle" fill="#111" stroke="#111" stroke-width="0.16">18</text>
<text x="234.00" y="705.10" font-size="8.3" text-anchor="middle" fill="#111" stroke="#111" stroke-width="0.16">6</text>
<text x="264.30" y="705.10" font-size="8.3" text-anchor="middle" fill="#111" stroke="#111" stroke-width="0.16">1</text>
<text x="294.60" y="705.10" font-size="8.3" text-anchor="middle" fill="#111" stroke="#111" stroke-width="0.16">1</text>
<text x="324.90" y="705.10" font-size="8.3" text-anchor="middle" fill="#111" stroke="#111" stroke-width="0.16">0</text>
<text x="355.20" y="705.10" font-size="8.3" text-anchor="middle" fill="#111" stroke="#111" stroke-width="0.16">0</text>
<text x="385.50" y="705.10" font-size="8.3" text-anchor="middle" fill="#111" stroke="#111" stroke-width="0.16">0</text>
<text x="415.80" y="705.10" font-size="8.3" text-anchor="middle" fill="#111" stroke="#111" stroke-width="0.16">0</text>
<line x1="112.80" y1="707.40" x2="112.80" y2="709.90" stroke="#333" stroke-width="0.8"/>
<text x="112.80" y="715.80" font-size="7.9" text-anchor="middle" fill="#222" stroke="#222" stroke-width="0.25">0</text>
<line x1="143.10" y1="707.40" x2="143.10" y2="709.90" stroke="#333" stroke-width="0.8"/>
<text x="143.10" y="715.80" font-size="7.9" text-anchor="middle" fill="#222" stroke="#222" stroke-width="0.25">12</text>
<line x1="173.40" y1="707.40" x2="173.40" y2="709.90" stroke="#333" stroke-width="0.8"/>
<text x="173.40" y="715.80" font-size="7.9" text-anchor="middle" fill="#222" stroke="#222" stroke-width="0.25">24</text>
<line x1="203.70" y1="707.40" x2="203.70" y2="709.90" stroke="#333" stroke-width="0.8"/>
<text x="203.70" y="715.80" font-size="7.9" text-anchor="middle" fill="#222" stroke="#222" stroke-width="0.25">36</text>
<line x1="234.00" y1="707.40" x2="234.00" y2="709.90" stroke="#333" stroke-width="0.8"/>
<text x="234.00" y="715.80" font-size="7.9" text-anchor="middle" fill="#222" stroke="#222" stroke-width="0.25">48</text>
<line x1="264.30" y1="707.40" x2="264.30" y2="709.90" stroke="#333" stroke-width="0.8"/>
<text x="264.30" y="715.80" font-size="7.9" text-anchor="middle" fill="#222" stroke="#222" stroke-width="0.25">60</text>
<line x1="294.60" y1="707.40" x2="294.60" y2="709.90" stroke="#333" stroke-width="0.8"/>
<text x="294.60" y="715.80" font-size="7.9" text-anchor="middle" fill="#222" stroke="#222" stroke-width="0.25">72</text>
<line x1="324.90" y1="707.40" x2="324.90" y2="709.90" stroke="#333" stroke-width="0.8"/>
<text x="324.90" y="715.80" font-size="7.9" text-anchor="middle" fill="#222" stroke="#222" stroke-width="0.25">84</text>
<line x1="355.20" y1="707.40" x2="355.20" y2="709.90" stroke="#333" stroke-width="0.8"/>
<text x="355.20" y="715.80" font-size="7.9" text-anchor="middle" fill="#222" stroke="#222" stroke-width="0.25">96</text>
<line x1="385.50" y1="707.40" x2="385.50" y2="709.90" stroke="#333" stroke-width="0.8"/>
<text x="385.50" y="715.80" font-size="7.9" text-anchor="middle" fill="#222" stroke="#222" stroke-width="0.25">108</text>
<line x1="415.80" y1="707.40" x2="415.80" y2="709.90" stroke="#333" stroke-width="0.8"/>
<text x="415.80" y="715.80" font-size="7.9" text-anchor="middle" fill="#222" stroke="#222" stroke-width="0.25">120</text>
<polygon points="556.25,512.27 557.25,512.28 558.25,512.27 559.25,512.27 560.25,512.26 561.25,512.26 562.25,512.27 563.25,512.29 564.25,512.33 565.25,512.39 566.25,512.50 567.25,512.65 568.25,512.83 569.25,513.04 570.25,513.27 571.25,513.50 572.25,513.74 573.25,513.97 574.25,514.21 575.25,514.46 576.25,514.72 577.25,515.00 578.25,515.27 579.25,515.56 580.25,515.87 581.25,516.28 582.25,516.68 583.25,517.07 584.25,517.47 585.25,517.86 586.25,518.25 587.25,518.65 588.25,519.05 589.25,519.44 590.25,519.85 591.25,520.25 592.25,520.66 593.25,521.08 594.25,521.49 595.25,521.91 596.25,522.33 597.25,522.74 598.25,523.16 599.25,523.59 600.25,524.03 601.25,524.48 602.25,524.94 603.25,525.42 604.25,525.93 605.25,526.47 606.25,527.06 607.25,527.67 608.25,528.30 609.25,528.95 610.25,529.60 611.25,530.24 612.25,530.86 613.25,531.46 614.25,532.02 615.25,532.55 616.25,533.03 617.25,533.50 618.25,533.96 619.25,534.42 620.25,534.89 621.25,535.39 622.25,535.90 623.25,536.43 624.25,536.97 625.25,537.51 626.25,538.05 627.25,538.60 628.25,539.15 629.25,539.68 630.25,540.22 631.25,540.75 632.25,541.30 633.25,541.86 634.25,542.41 635.25,542.97 636.25,543.51 637.25,544.05 638.25,544.57 639.25,545.07 640.25,545.55 641.25,545.99 642.25,546.41 643.25,546.82 644.25,547.21 645.25,547.59 646.25,547.97 647.25,548.33 648.25,548.68 649.25,549.02 650.25,549.35 651.25,549.67 652.25,549.98 653.25,550.29 654.25,550.58 655.25,550.87 656.25,551.15 657.25,551.42 658.25,551.68 659.25,551.92 660.25,552.16 661.25,552.40 662.25,552.63 663.25,552.85 664.25,553.08 665.25,553.30 666.25,553.52 667.25,553.75 668.25,553.98 669.25,554.22 670.25,554.46 671.25,554.70 672.25,554.94 673.25,555.19 674.25,555.43 675.25,555.67 676.25,555.92 677.25,556.16 678.25,556.41 679.25,556.65 680.25,556.90 681.25,557.14 682.25,557.38 683.25,557.63 684.25,557.87 685.25,558.11 686.25,558.36 687.25,558.60 688.25,558.84 689.25,559.09 690.25,559.33 691.25,559.57 692.25,559.82 693.25,560.06 694.25,560.31 695.25,560.55 696.25,560.79 697.25,561.04 698.25,561.28 699.25,561.51 700.25,561.75 701.25,561.99 702.25,562.23 703.25,562.46 704.25,562.70 705.25,562.94 706.25,563.19 707.25,563.43 708.25,563.69 709.25,563.95 710.25,564.21 711.25,564.49 712.25,564.80 713.25,565.16 714.25,565.56 715.25,565.97 716.25,566.39 717.25,566.80 718.25,567.18 719.25,567.52 720.25,567.80 721.25,568.02 722.25,568.15 723.25,568.18 724.25,568.18 725.25,568.17 726.25,568.17 727.25,568.16 728.25,568.16 729.25,568.15 730.25,568.15 731.25,568.14 732.25,568.14 733.25,568.13 734.25,568.13 735.25,568.14 736.25,568.19 737.25,568.26 738.25,568.34 739.25,568.43 740.25,568.52 741.25,568.61 742.25,568.72 743.25,568.85 744.25,569.00 745.25,569.16 746.25,569.33 747.25,569.51 748.25,569.70 749.25,569.91 750.25,570.12 751.25,570.33 752.25,570.56 753.25,570.78 754.25,571.01 755.25,571.24 756.25,571.47 757.25,571.70 758.25,571.93 759.25,572.19 760.25,572.46 761.25,572.73 762.25,573.02 763.25,573.32 764.25,573.63 765.25,573.94 766.25,574.26 767.25,574.59 768.25,574.92 769.25,575.25 770.25,575.58 771.25,575.91 772.25,576.24 773.25,576.57 774.25,576.89 775.25,577.21 776.25,577.52 777.25,577.83 778.25,578.13 779.25,578.42 780.25,578.69 781.25,578.96 782.25,579.20 783.25,579.42 784.25,579.63 785.25,579.82 786.25,580.00 787.25,580.18 788.25,580.34 789.25,580.51 790.25,580.67 791.25,580.83 792.25,581.00 793.25,581.18 794.25,581.37 795.25,581.56 796.25,581.78 797.25,582.01 798.25,582.26 799.25,582.54 800.25,582.84 801.25,583.16 802.25,583.52 803.25,583.92 804.25,584.35 805.25,585.14 806.25,586.43 807.25,587.47 808.25,587.65 809.25,587.63 810.25,587.61 811.25,587.60 812.25,587.58 813.25,587.56 814.25,587.55 815.25,587.53 816.25,587.51 817.25,585.70 818.00,580.30 818.00,585.40 819.00,585.40 820.00,585.40 821.00,585.40 822.00,585.40 823.00,585.40 824.00,585.40 825.00,585.40 826.00,585.40 827.00,585.40 828.00,585.40 829.00,585.40 830.00,585.40 831.00,585.40 832.00,585.40 833.00,585.40 834.00,585.40 835.00,585.40 836.00,585.40 837.00,585.40 838.00,585.40 839.00,585.40 840.00,585.40 841.00,585.40 842.00,585.40 843.00,585.40 844.00,585.40 845.00,585.40 846.00,585.40 847.00,585.40 848.00,585.40 849.00,585.40 850.00,585.40 851.00,585.40 852.00,585.40 853.00,585.40 854.00,585.40 855.00,585.40 856.00,585.40 857.00,585.40 858.00,585.40 859.00,585.40 860.00,585.40 861.00,585.40 862.00,585.40 863.00,585.40 864.00,585.40 865.00,585.40 866.00,585.40 867.00,585.40 868.00,585.40 869.00,585.40 870.00,585.40 871.00,585.40 872.00,585.40 873.00,585.40 874.00,585.40 875.00,585.40 876.00,585.40 877.00,585.40 878.00,585.40 879.00,585.40 880.00,585.40 881.00,585.40 882.00,585.40 882.40,585.40 882.40,607.50 882.00,607.50 881.00,607.50 880.00,607.50 879.00,607.50 878.00,607.50 877.00,607.50 876.00,607.50 875.00,607.50 874.00,607.50 873.00,607.50 872.00,607.50 871.00,607.50 870.00,607.50 869.00,607.50 868.00,607.50 867.00,607.50 866.00,607.50 865.00,607.50 864.00,607.50 863.00,607.50 862.00,607.50 861.00,607.50 860.00,607.50 859.00,607.50 858.00,607.50 857.00,607.50 856.00,607.50 855.00,607.50 854.00,607.50 853.00,607.50 852.00,607.50 851.00,607.50 850.00,607.50 849.00,607.50 848.00,607.50 847.00,607.50 846.00,607.50 845.00,607.50 844.00,607.50 843.00,607.50 842.00,607.50 841.00,607.50 840.00,607.50 839.00,607.50 838.00,607.50 837.00,607.50 836.00,607.50 835.00,607.50 834.00,607.50 833.00,607.50 832.00,607.50 831.00,607.50 830.00,607.50 829.00,607.50 828.00,607.50 827.00,607.50 826.00,607.50 825.00,607.50 824.00,607.50 823.00,607.50 822.00,607.50 821.00,607.50 820.00,607.50 819.00,607.50 818.00,607.50 818.00,602.40 817.25,599.85 816.25,599.00 815.25,599.01 814.25,599.02 813.25,599.02 812.25,599.03 811.25,599.04 810.25,599.04 809.25,599.05 808.25,599.06 807.25,598.87 806.25,597.82 805.25,596.52 804.25,595.71 803.25,595.27 802.25,594.87 801.25,594.50 800.25,594.16 799.25,593.85 798.25,593.57 797.25,593.30 796.25,593.06 795.25,592.84 794.25,592.63 793.25,592.43 792.25,592.25 791.25,592.07 790.25,591.89 789.25,591.72 788.25,591.54 787.25,591.37 786.25,591.18 785.25,590.99 784.25,590.79 783.25,590.57 782.25,590.34 781.25,590.08 780.25,589.81 779.25,589.52 778.25,589.22 777.25,588.92 776.25,588.60 775.25,588.28 774.25,587.95 773.25,587.61 772.25,587.28 771.25,586.94 770.25,586.59 769.25,586.25 768.25,585.91 767.25,585.57 766.25,585.24 765.25,584.91 764.25,584.58 763.25,584.26 762.25,583.96 761.25,583.66 760.25,583.37 759.25,583.09 758.25,582.82 757.25,582.57 756.25,582.34 755.25,582.10 754.25,581.86 753.25,581.62 752.25,581.38 751.25,581.15 750.25,580.92 749.25,580.70 748.25,580.49 747.25,580.29 746.25,580.09 745.25,579.91 744.25,579.74 743.25,579.59 742.25,579.45 741.25,579.33 740.25,579.22 739.25,579.08 738.25,578.92 737.25,578.77 736.25,578.64 735.25,578.52 734.25,578.44 733.25,578.38 732.25,578.32 731.25,578.25 730.25,578.19 729.25,578.13 728.25,578.07 727.25,578.00 726.25,577.94 725.25,577.88 724.25,577.82 723.25,577.75 722.25,577.65 721.25,577.45 720.25,577.17 719.25,576.82 718.25,576.41 717.25,575.96 716.25,575.49 715.25,575.00 714.25,574.52 713.25,574.06 712.25,573.63 711.25,573.25 710.25,572.90 709.25,572.57 708.25,572.24 707.25,571.92 706.25,571.61 705.25,571.30 704.25,570.99 703.25,570.68 702.25,570.38 701.25,570.07 700.25,569.77 699.25,569.50 698.25,569.25 697.25,568.99 696.25,568.73 695.25,568.47 694.25,568.21 693.25,567.95 692.25,567.69 691.25,567.43 690.25,567.17 689.25,566.91 688.25,566.65 687.25,566.39 686.25,566.13 685.25,565.87 684.25,565.61 683.25,565.35 682.25,565.09 681.25,564.83 680.25,564.57 679.25,564.31 678.25,564.04 677.25,563.78 676.25,563.52 675.25,563.26 674.25,563.00 673.25,562.74 672.25,562.48 671.25,562.22 670.25,561.96 669.25,561.71 668.25,561.45 667.25,561.21 666.25,560.96 665.25,560.72 664.25,560.48 663.25,560.24 662.25,560.00 661.25,559.75 660.25,559.50 659.25,559.24 658.25,558.98 657.25,558.71 656.25,558.42 655.25,558.13 654.25,557.82 653.25,557.51 652.25,557.19 651.25,556.86 650.25,556.52 649.25,556.17 648.25,555.81 647.25,555.45 646.25,555.07 645.25,554.68 644.25,554.28 643.25,553.87 642.25,553.45 641.25,553.02 640.25,552.55 639.25,552.06 638.25,551.54 637.25,551.00 636.25,550.45 635.25,549.89 634.25,549.32 633.25,548.75 632.25,548.17 631.25,547.61 630.25,547.05 629.25,546.51 628.25,545.95 627.25,545.39 626.25,544.83 625.25,544.26 624.25,543.70 623.25,543.15 622.25,542.61 621.25,542.07 620.25,541.56 619.25,541.07 618.25,540.59 617.25,540.12 616.25,539.64 615.25,539.13 614.25,538.60 613.25,538.01 612.25,537.40 611.25,536.76 610.25,536.10 609.25,535.44 608.25,534.78 607.25,534.12 606.25,533.49 605.25,532.89 604.25,532.33 603.25,531.81 602.25,531.31 601.25,530.83 600.25,530.36 599.25,529.91 598.25,529.47 597.25,529.03 596.25,528.60 595.25,528.16 594.25,527.73 593.25,527.30 592.25,526.87 591.25,526.44 590.25,526.02 589.25,525.60 588.25,525.18 587.25,524.77 586.25,524.36 585.25,523.95 584.25,523.54 583.25,523.13 582.25,522.72 581.25,522.30 580.25,521.88 579.25,521.37 578.25,520.84 577.25,520.31 576.25,519.78 575.25,519.27 574.25,518.77 573.25,518.28 572.25,517.80 571.25,517.32 570.25,516.83 569.25,516.35 568.25,515.89 567.25,515.46 566.25,515.06 565.25,514.71 564.25,514.39 563.25,514.10 562.25,513.83 561.25,513.57 560.25,513.32 559.25,513.08 558.25,512.84 557.25,512.59 556.25,512.33" fill="#F6BBB5" opacity="0.8"/>
<polygon points="556.25,512.25 557.25,512.65 558.25,513.03 559.25,513.42 560.25,513.83 561.25,514.32 562.25,514.89 563.25,515.55 564.25,516.30 565.25,517.14 566.25,518.05 567.25,519.06 568.25,520.28 569.25,521.61 570.25,522.93 571.25,524.15 572.25,525.25 573.25,526.32 574.25,527.34 575.25,528.28 576.25,529.10 577.25,529.84 578.25,530.52 579.25,531.13 580.25,531.66 581.25,532.07 582.25,532.31 583.25,532.47 584.25,532.57 585.25,532.67 586.25,532.80 587.25,533.02 588.25,533.38 589.25,534.03 590.25,534.94 591.25,536.01 592.25,537.11 593.25,538.14 594.25,539.00 595.25,539.79 596.25,540.53 597.25,541.25 598.25,541.97 599.25,542.71 600.25,543.54 601.25,544.63 602.25,545.83 603.25,547.09 604.25,548.36 605.25,549.60 606.25,550.76 607.25,551.78 608.25,552.63 609.25,553.31 610.25,553.89 611.25,554.41 612.25,554.89 613.25,555.37 614.25,555.87 615.25,556.35 616.25,556.78 617.25,557.19 618.25,557.61 619.25,558.06 620.25,558.59 621.25,559.22 622.25,560.01 623.25,561.44 624.25,562.87 625.25,563.73 626.25,564.43 627.25,565.04 628.25,565.60 629.25,566.14 630.25,566.71 631.25,567.32 632.25,567.91 633.25,568.49 634.25,569.07 635.25,569.67 636.25,570.33 637.25,571.05 638.25,571.88 639.25,572.85 640.25,573.90 641.25,574.53 641.70,574.21 641.70,579.81 642.70,579.49 643.70,579.68 644.70,579.87 645.70,580.05 646.70,580.24 647.70,580.43 648.70,580.61 649.70,580.80 650.70,580.99 651.70,581.18 652.70,581.36 653.70,581.55 654.70,581.74 655.70,581.93 656.70,582.12 657.70,582.30 658.70,582.49 659.70,582.68 660.70,582.87 661.70,583.07 662.70,583.26 663.70,583.45 664.70,583.63 665.70,583.82 666.70,584.01 667.70,584.20 668.70,584.38 669.70,584.57 670.70,584.76 671.70,584.95 672.70,585.15 673.70,585.35 674.70,585.55 675.70,585.75 676.70,585.95 677.70,586.14 678.70,586.32 679.70,586.49 680.70,586.66 681.70,586.81 682.70,586.94 683.70,587.06 684.70,587.17 685.70,587.25 686.70,587.33 687.70,587.40 688.70,587.46 689.70,587.52 690.70,587.58 691.70,587.65 692.70,587.72 693.70,587.80 694.70,587.90 695.70,588.01 696.70,588.15 697.70,588.32 698.70,588.63 699.70,589.06 700.70,589.55 701.70,590.07 702.70,590.59 703.70,591.04 704.70,591.40 705.70,591.62 706.70,591.77 707.70,591.90 708.70,592.03 709.70,592.15 710.70,592.26 711.70,592.36 712.70,592.45 713.70,592.53 714.70,592.60 715.70,592.66 716.70,592.71 717.70,592.75 718.70,592.78 719.70,592.80 720.70,592.81 721.70,592.83 722.70,592.84 723.70,592.85 724.70,592.86 725.70,592.86 726.70,592.87 727.70,592.87 728.70,592.88 729.70,592.88 730.70,592.89 731.70,592.90 732.70,592.91 733.70,592.92 734.70,592.93 735.70,592.95 736.70,592.97 737.70,592.99 738.70,593.01 739.70,593.04 740.70,593.06 741.70,593.09 742.70,593.12 743.70,593.15 744.70,593.19 745.70,593.22 746.70,593.25 747.70,593.29 748.70,593.32 749.70,593.36 750.70,593.39 751.70,593.43 752.70,593.46 753.70,593.50 754.70,593.53 755.70,593.56 756.70,593.59 757.00,593.60 757.00,597.20 758.00,598.20 759.00,598.20 760.00,598.20 761.00,598.20 762.00,598.20 763.00,598.20 764.00,598.20 765.00,598.20 766.00,598.20 767.00,598.20 768.00,598.20 769.00,598.20 770.00,598.20 771.00,598.20 772.00,598.20 773.00,598.20 774.00,598.20 775.00,598.20 776.00,598.20 777.00,598.20 778.00,598.20 779.00,598.20 780.00,598.20 781.00,598.20 782.00,598.20 783.00,598.20 784.00,598.20 785.00,598.20 786.00,598.20 787.00,598.20 787.50,595.35 787.50,601.15 788.50,598.30 789.50,598.30 790.50,598.30 791.50,598.30 792.50,598.30 793.50,598.30 794.50,598.30 795.50,598.30 796.50,598.30 797.50,598.30 798.50,598.30 799.50,598.30 800.50,598.30 801.50,598.30 802.50,598.30 803.50,598.30 804.50,598.30 805.50,598.30 806.50,598.30 807.50,598.30 808.50,598.30 809.50,598.30 810.50,598.30 811.50,598.30 812.50,598.30 813.50,598.30 814.50,598.30 815.50,598.30 815.60,598.30 815.60,623.30 815.50,623.30 814.50,623.30 813.50,623.30 812.50,623.30 811.50,623.30 810.50,623.30 809.50,623.30 808.50,623.30 807.50,623.30 806.50,623.30 805.50,623.30 804.50,623.30 803.50,623.30 802.50,623.30 801.50,623.30 800.50,623.30 799.50,623.30 798.50,623.30 797.50,623.30 796.50,623.30 795.50,623.30 794.50,623.30 793.50,623.30 792.50,623.30 791.50,623.30 790.50,623.30 789.50,623.30 788.50,623.30 787.50,622.65 787.50,616.85 787.00,616.20 786.00,616.20 785.00,616.20 784.00,616.20 783.00,616.20 782.00,616.20 781.00,616.20 780.00,616.20 779.00,616.20 778.00,616.20 777.00,616.20 776.00,616.20 775.00,616.20 774.00,616.20 773.00,616.20 772.00,616.20 771.00,616.20 770.00,616.20 769.00,616.20 768.00,616.20 767.00,616.20 766.00,616.20 765.00,616.20 764.00,616.20 763.00,616.20 762.00,616.20 761.00,616.20 760.00,616.20 759.00,616.20 758.00,616.20 757.00,617.20 757.00,613.60 756.70,613.59 755.70,613.54 754.70,613.49 753.70,613.44 752.70,613.39 751.70,613.34 750.70,613.29 749.70,613.24 748.70,613.19 747.70,613.14 746.70,613.09 745.70,613.04 744.70,612.99 743.70,612.94 742.70,612.89 741.70,612.84 740.70,612.80 739.70,612.76 738.70,612.71 737.70,612.67 736.70,612.64 735.70,612.60 734.70,612.57 733.70,612.54 732.70,612.51 731.70,612.49 730.70,612.46 729.70,612.44 728.70,612.42 727.70,612.40 726.70,612.38 725.70,612.36 724.70,612.33 723.70,612.31 722.70,612.28 721.70,612.26 720.70,612.22 719.70,612.19 718.70,612.15 717.70,612.11 716.70,612.05 715.70,611.98 714.70,611.90 713.70,611.82 712.70,611.72 711.70,611.61 710.70,611.49 709.70,611.37 708.70,611.23 707.70,611.08 706.70,610.93 705.70,610.76 704.70,610.52 703.70,610.15 702.70,609.67 701.70,609.15 700.70,608.60 699.70,608.09 698.70,607.65 697.70,607.32 696.70,607.13 695.70,606.98 694.70,606.84 693.70,606.73 692.70,606.63 691.70,606.54 690.70,606.46 689.70,606.38 688.70,606.30 687.70,606.22 686.70,606.13 685.70,606.04 684.70,605.93 683.70,605.81 682.70,605.67 681.70,605.52 680.70,605.35 679.70,605.17 678.70,604.98 677.70,604.78 676.70,604.57 675.70,604.36 674.70,604.14 673.70,603.92 672.70,603.70 671.70,603.49 670.70,603.27 669.70,603.07 668.70,602.86 667.70,602.66 666.70,602.45 665.70,602.25 664.70,602.04 663.70,601.83 662.70,601.63 661.70,601.42 660.70,601.21 659.70,601.00 658.70,600.79 657.70,600.59 656.70,600.38 655.70,600.17 654.70,599.97 653.70,599.76 652.70,599.56 651.70,599.35 650.70,599.14 649.70,598.94 648.70,598.73 647.70,598.53 646.70,598.32 645.70,598.12 644.70,597.91 643.70,597.71 642.70,597.50 641.70,598.71 641.70,593.11 641.25,594.78 640.25,594.87 639.25,593.78 638.25,592.77 637.25,591.90 636.25,591.14 635.25,590.45 634.25,589.80 633.25,589.18 632.25,588.57 631.25,587.94 630.25,587.29 629.25,586.68 628.25,586.10 627.25,585.51 626.25,584.86 625.25,584.11 624.25,583.21 623.25,581.75 622.25,580.28 621.25,579.45 620.25,578.78 619.25,578.22 618.25,577.72 617.25,577.26 616.25,576.81 615.25,576.34 614.25,575.82 613.25,575.28 612.25,574.77 611.25,574.25 610.25,573.69 609.25,573.07 608.25,572.36 607.25,571.47 606.25,570.40 605.25,569.21 604.25,567.93 603.25,566.62 602.25,565.32 601.25,564.08 600.25,562.95 599.25,561.88 598.25,560.85 597.25,559.83 596.25,558.80 595.25,557.76 594.25,556.68 593.25,555.52 592.25,554.19 591.25,552.78 590.25,551.42 589.25,550.20 588.25,549.25 587.25,548.60 586.25,548.08 585.25,547.64 584.25,547.24 583.25,546.84 582.25,546.39 581.25,545.84 580.25,544.95 579.25,543.88 578.25,542.71 577.25,541.48 576.25,540.20 575.25,538.83 574.25,537.34 573.25,535.78 572.25,534.16 571.25,532.51 570.25,530.74 569.25,528.87 568.25,526.99 567.25,525.23 566.25,523.66 565.25,522.21 564.25,520.82 563.25,519.52 562.25,518.31 561.25,517.19 560.25,516.16 559.25,515.20 558.25,514.27 557.25,513.34 556.25,512.39" fill="#A3DDAE" opacity="0.8"/>
<polygon points="556.25,512.15 557.25,518.44 558.25,520.78 559.25,521.00 560.25,521.70 561.25,523.48 562.25,525.03 563.25,525.24 564.25,524.93 565.25,524.71 566.25,526.75 567.25,532.36 568.25,534.73 569.25,536.18 570.25,537.19 571.25,537.91 572.25,538.35 573.25,538.67 574.25,539.05 575.25,539.70 576.25,540.94 577.25,542.79 578.25,544.82 579.25,546.65 580.25,547.87 581.25,548.82 582.25,550.03 583.25,550.93 584.25,551.33 585.25,551.47 586.25,551.55 587.25,551.61 588.25,551.65 589.25,551.70 590.25,551.78 591.25,551.90 592.25,552.31 593.25,554.15 594.25,556.68 595.25,558.78 596.25,560.23 597.25,561.52 598.25,562.72 599.25,563.93 600.25,565.25 601.25,566.73 602.25,568.26 603.25,569.81 604.25,571.35 605.25,572.82 606.25,574.21 607.25,575.48 608.25,576.74 609.25,577.99 610.25,579.20 611.25,580.32 612.25,581.29 613.25,582.09 614.25,582.67 615.25,583.08 616.25,583.39 617.25,583.63 618.25,583.85 619.25,584.09 620.25,584.38 621.25,584.78 622.25,585.32 623.25,586.63 624.25,592.59 625.25,595.83 626.25,596.64 627.25,597.31 628.25,597.87 629.25,598.33 630.25,598.71 631.25,599.06 632.25,599.37 633.25,599.69 634.25,600.03 635.25,600.40 636.25,600.75 637.25,601.06 638.25,601.35 639.25,601.64 640.25,601.93 641.25,602.23 642.25,602.56 643.25,602.92 644.25,603.33 645.25,603.84 646.25,604.50 647.25,605.27 648.25,606.12 649.25,607.01 650.25,607.91 651.25,608.77 652.25,609.56 653.25,610.26 654.25,610.99 655.25,611.68 656.25,612.24 657.25,612.72 658.25,613.10 659.25,613.34 660.25,613.42 661.25,613.46 662.25,613.48 663.25,613.48 664.25,613.48 665.25,613.47 666.25,613.45 667.25,613.44 668.25,613.43 669.25,613.43 670.25,613.44 671.25,613.47 672.25,613.52 673.25,613.67 674.25,613.98 675.25,614.38 676.25,614.86 677.25,615.35 678.25,615.83 679.25,616.24 680.25,616.55 681.25,616.76 682.25,616.95 683.25,617.13 684.25,617.31 685.25,617.47 686.25,617.62 687.25,617.74 688.25,617.84 689.25,617.91 690.25,617.96 691.25,618.00 692.25,618.00 693.25,618.00 694.25,618.00 695.25,618.00 696.25,618.00 697.25,618.00 698.25,618.00 699.25,618.00 700.25,618.00 701.25,618.00 702.25,618.00 703.25,618.00 704.25,618.00 705.25,618.00 706.25,618.00 707.25,618.00 708.25,618.00 709.25,618.00 710.25,618.00 711.25,618.00 712.25,618.00 713.25,618.00 714.25,618.00 715.25,618.00 716.25,618.00 717.25,618.00 718.25,618.00 719.25,618.00 720.25,618.00 721.25,618.00 722.25,618.00 723.25,618.00 724.25,618.00 725.25,618.00 726.25,618.00 727.25,618.00 728.25,618.00 729.25,618.00 730.25,618.00 731.25,618.00 732.25,618.00 733.25,618.00 734.25,618.00 735.25,618.00 736.25,618.00 737.25,618.00 738.25,618.00 739.25,618.00 740.25,618.00 741.25,618.00 742.25,618.00 743.25,618.00 744.25,618.00 745.25,618.00 746.25,618.00 747.25,618.00 748.25,618.00 749.25,618.00 750.25,618.00 751.25,618.00 752.25,618.00 753.25,618.00 754.25,618.00 755.25,618.00 756.25,618.00 757.25,618.00 758.25,618.00 759.25,618.00 760.25,618.00 761.25,618.00 762.25,618.00 763.25,618.00 764.25,618.00 765.25,618.00 766.25,618.00 767.25,618.00 768.25,618.00 769.25,618.00 770.25,618.00 771.25,618.00 772.25,618.00 773.25,618.00 774.25,618.00 775.25,618.00 776.00,618.00 776.00,630.60 775.25,630.60 774.25,630.60 773.25,630.60 772.25,630.60 771.25,630.60 770.25,630.60 769.25,630.60 768.25,630.60 767.25,630.60 766.25,630.60 765.25,630.60 764.25,630.60 763.25,630.60 762.25,630.60 761.25,630.60 760.25,630.60 759.25,630.60 758.25,630.60 757.25,630.60 756.25,630.60 755.25,630.60 754.25,630.60 753.25,630.60 752.25,630.60 751.25,630.60 750.25,630.60 749.25,630.60 748.25,630.60 747.25,630.60 746.25,630.60 745.25,630.60 744.25,630.60 743.25,630.60 742.25,630.60 741.25,630.60 740.25,630.60 739.25,630.60 738.25,630.60 737.25,630.60 736.25,630.60 735.25,630.60 734.25,630.60 733.25,630.60 732.25,630.60 731.25,630.60 730.25,630.60 729.25,630.60 728.25,630.60 727.25,630.60 726.25,630.60 725.25,630.60 724.25,630.60 723.25,630.60 722.25,630.60 721.25,630.60 720.25,630.60 719.25,630.60 718.25,630.60 717.25,630.60 716.25,630.60 715.25,630.60 714.25,630.60 713.25,630.60 712.25,630.60 711.25,630.60 710.25,630.60 709.25,630.60 708.25,630.60 707.25,630.60 706.25,630.60 705.25,630.60 704.25,630.60 703.25,630.60 702.25,630.60 701.25,630.60 700.25,630.60 699.25,630.60 698.25,630.60 697.25,630.60 696.25,630.60 695.25,630.60 694.25,630.60 693.25,630.60 692.25,630.60 691.25,630.60 690.25,630.56 689.25,630.56 688.25,630.56 687.25,630.53 686.25,630.48 685.25,630.40 684.25,630.30 683.25,630.20 682.25,630.08 681.25,629.96 680.25,629.82 679.25,629.58 678.25,629.23 677.25,628.83 676.25,628.40 675.25,628.00 674.25,627.66 673.25,627.42 672.25,627.33 671.25,627.35 670.25,627.39 669.25,627.45 668.25,627.52 667.25,627.60 666.25,627.68 665.25,627.76 664.25,627.84 663.25,627.92 662.25,627.98 661.25,628.03 660.25,628.06 659.25,628.05 658.25,627.88 657.25,627.57 656.25,627.15 655.25,626.67 654.25,626.17 653.25,625.68 652.25,625.22 651.25,624.67 650.25,624.05 649.25,623.39 648.25,622.74 647.25,622.13 646.25,621.60 645.25,621.18 644.25,620.91 643.25,620.74 642.25,620.62 641.25,620.53 640.25,620.47 639.25,620.42 638.25,620.37 637.25,620.32 636.25,620.25 635.25,620.14 634.25,620.01 633.25,619.91 632.25,619.83 631.25,619.76 630.25,619.65 629.25,619.51 628.25,619.29 627.25,618.97 626.25,618.54 625.25,617.97 624.25,614.99 623.25,609.31 622.25,608.27 621.25,608.00 620.25,607.87 619.25,607.85 618.25,607.89 617.25,607.94 616.25,607.97 615.25,607.93 614.25,607.79 613.25,607.49 612.25,606.96 611.25,606.26 610.25,605.41 609.25,604.48 608.25,603.49 607.25,602.50 606.25,601.51 605.25,600.40 604.25,599.19 603.25,597.93 602.25,596.65 601.25,595.39 600.25,594.19 599.25,592.73 598.25,591.26 597.25,589.79 596.25,588.24 595.25,586.53 594.25,584.17 593.25,581.37 592.25,579.27 591.25,578.60 590.25,578.21 589.25,577.87 588.25,577.56 587.25,577.25 586.25,576.93 585.25,576.58 584.25,576.18 583.25,575.52 582.25,574.36 581.25,572.88 580.25,571.57 579.25,569.95 578.25,567.72 577.25,565.29 576.25,563.04 575.25,561.40 574.25,560.35 573.25,559.57 572.25,558.85 571.25,558.01 570.25,556.89 569.25,555.48 568.25,553.63 567.25,550.86 566.25,544.85 565.25,541.36 564.25,539.78 563.25,538.29 562.25,536.28 561.25,532.93 560.25,529.35 559.25,526.85 558.25,524.83 557.25,520.69 556.25,512.60" fill="#BBD2F4" opacity="0.8"/>
<polyline points="556.25,512.30 557.25,512.43 558.25,512.55 559.25,512.67 560.25,512.79 561.25,512.92 562.25,513.05 563.25,513.20 564.25,513.36 565.25,513.55 566.25,513.78 567.25,514.05 568.25,514.36 569.25,514.70 570.25,515.05 571.25,515.41 572.25,515.77 573.25,516.12 574.25,516.49 575.25,516.86 576.25,517.25 577.25,517.65 578.25,518.06 579.25,518.47 580.25,518.88 581.25,519.29 582.25,519.70 583.25,520.10 584.25,520.50 585.25,520.90 586.25,521.31 587.25,521.71 588.25,522.11 589.25,522.52 590.25,522.93 591.25,523.35 592.25,523.76 593.25,524.19 594.25,524.61 595.25,525.04 596.25,525.46 597.25,525.89 598.25,526.31 599.25,526.75 600.25,527.20 601.25,527.65 602.25,528.13 603.25,528.62 604.25,529.13 605.25,529.68 606.25,530.28 607.25,530.90 608.25,531.54 609.25,532.19 610.25,532.85 611.25,533.50 612.25,534.13 613.25,534.74 614.25,535.31 615.25,535.84 616.25,536.34 617.25,536.81 618.25,537.27 619.25,537.74 620.25,538.22 621.25,538.73 622.25,539.25 623.25,539.79 624.25,540.34 625.25,540.89 626.25,541.44 627.25,542.00 628.25,542.55 629.25,543.09 630.25,543.63 631.25,544.18 632.25,544.74 633.25,545.30 634.25,545.87 635.25,546.43 636.25,546.98 637.25,547.53 638.25,548.06 639.25,548.56 640.25,549.05 641.25,549.50 642.25,549.93 643.25,550.35 644.25,550.75 645.25,551.14 646.25,551.52 647.25,551.89 648.25,552.25 649.25,552.59 650.25,552.93 651.25,553.26 652.25,553.58 653.25,553.90 654.25,554.20 655.25,554.50 656.25,554.79 657.25,555.06 658.25,555.33 659.25,555.58 660.25,555.83 661.25,556.07 662.25,556.31 663.25,556.55 664.25,556.78 665.25,557.01 666.25,557.24 667.25,557.48 668.25,557.72 669.25,557.96 670.25,558.21 671.25,558.46 672.25,558.71 673.25,558.96 674.25,559.22 675.25,559.47 676.25,559.72 677.25,559.97 678.25,560.23 679.25,560.48 680.25,560.73 681.25,560.98 682.25,561.24 683.25,561.49 684.25,561.74 685.25,561.99 686.25,562.24 687.25,562.49 688.25,562.75 689.25,563.00 690.25,563.25 691.25,563.50 692.25,563.75 693.25,564.01 694.25,564.26 695.25,564.51 696.25,564.76 697.25,565.01 698.25,565.26 699.25,565.51 700.25,565.75 701.25,566.00 702.25,566.24 703.25,566.48 704.25,566.72 705.25,566.97 706.25,567.22 707.25,567.47 708.25,567.73 709.25,567.99 710.25,568.26 711.25,568.54 712.25,568.86 713.25,569.23 714.25,569.63 715.25,570.05 716.25,570.47 717.25,570.88 718.25,571.27 719.25,571.61 720.25,571.90 721.25,572.12 722.25,572.26 723.25,572.30 724.25,572.30 725.25,572.30 726.25,572.30 727.25,572.30 728.25,572.30 729.25,572.30 730.25,572.30 731.25,572.30 732.25,572.30 733.25,572.30 734.25,572.30 735.25,572.32 736.25,572.37 737.25,572.44 738.25,572.53 739.25,572.63 740.25,572.72 741.25,572.83 742.25,572.96 743.25,573.11 744.25,573.27 745.25,573.44 746.25,573.63 747.25,573.83 748.25,574.04 749.25,574.26 750.25,574.49 751.25,574.72 752.25,574.96 753.25,575.20 754.25,575.45 755.25,575.70 756.25,575.94 757.25,576.19 758.25,576.44 759.25,576.71 760.25,577.00 761.25,577.29 762.25,577.60 763.25,577.92 764.25,578.24 765.25,578.57 766.25,578.91 767.25,579.25 768.25,579.59 769.25,579.94 770.25,580.29 771.25,580.64 772.25,580.99 773.25,581.33 774.25,581.67 775.25,582.01 776.25,582.34 777.25,582.66 778.25,582.97 779.25,583.28 780.25,583.57 781.25,583.85 782.25,584.11 783.25,584.35 784.25,584.58 785.25,584.79 786.25,584.98 787.25,585.17 788.25,585.36 789.25,585.54 790.25,585.72 791.25,585.90 792.25,586.09 793.25,586.28 794.25,586.48 795.25,586.70 796.25,586.93 797.25,587.18 798.25,587.44 799.25,587.74 800.25,588.05 801.25,588.40 802.25,588.77 803.25,589.18 804.25,589.63 805.25,590.44 806.25,591.75 807.25,592.80 808.25,593.00 809.25,593.00 810.25,593.00 811.25,593.00 812.25,593.00 813.25,593.00 814.25,593.00 815.25,593.00 816.25,593.00 817.25,593.00 818.00,593.00 818.00,598.10 819.00,598.10 820.00,598.10 821.00,598.10 822.00,598.10 823.00,598.10 824.00,598.10 825.00,598.10 826.00,598.10 827.00,598.10 828.00,598.10 829.00,598.10 830.00,598.10 831.00,598.10 832.00,598.10 833.00,598.10 834.00,598.10 835.00,598.10 836.00,598.10 837.00,598.10 838.00,598.10 839.00,598.10 840.00,598.10 841.00,598.10 842.00,598.10 843.00,598.10 844.00,598.10 845.00,598.10 846.00,598.10 847.00,598.10 848.00,598.10 849.00,598.10 850.00,598.10 851.00,598.10 852.00,598.10 853.00,598.10 854.00,598.10 855.00,598.10 856.00,598.10 857.00,598.10 858.00,598.10 859.00,598.10 860.00,598.10 861.00,598.10 862.00,598.10 863.00,598.10 864.00,598.10 865.00,598.10 866.00,598.10 867.00,598.10 868.00,598.10 869.00,598.10 870.00,598.10 871.00,598.10 872.00,598.10 873.00,598.10 874.00,598.10 875.00,598.10 876.00,598.10 877.00,598.10 878.00,598.10 879.00,598.10 880.00,598.10 881.00,598.10 882.00,598.10 882.40,598.10" fill="none" stroke="#E36D68" stroke-width="2.3" stroke-linejoin="round"/>
<polyline points="556.25,512.30 557.25,512.90 558.25,513.48 559.25,514.07 560.25,514.68 561.25,515.37 562.25,516.14 563.25,517.00 564.25,517.95 565.25,518.99 566.25,520.10 567.25,521.31 568.25,522.73 569.25,524.26 570.25,525.78 571.25,527.20 572.25,528.50 573.25,529.77 574.25,530.99 575.25,532.13 576.25,533.15 577.25,534.09 578.25,534.97 579.25,535.78 580.25,536.51 581.25,537.13 582.25,537.62 583.25,538.02 584.25,538.37 585.25,538.72 586.25,539.10 587.25,539.57 588.25,540.17 589.25,541.07 590.25,542.23 591.25,543.54 592.25,544.89 593.25,546.17 594.25,547.28 595.25,548.31 596.25,549.30 597.25,550.27 598.25,551.24 599.25,552.22 600.25,553.23 601.25,554.31 602.25,555.49 603.25,556.73 604.25,557.99 605.25,559.21 606.25,560.35 607.25,561.36 608.25,562.19 609.25,562.85 610.25,563.41 611.25,563.92 612.25,564.38 613.25,564.84 614.25,565.33 615.25,565.79 616.25,566.20 617.25,566.59 618.25,566.99 619.25,567.44 620.25,567.95 621.25,568.56 622.25,569.33 623.25,570.75 624.25,572.15 625.25,573.00 626.25,573.69 627.25,574.28 628.25,574.81 629.25,575.34 630.25,575.89 631.25,576.49 632.25,577.06 633.25,577.62 634.25,578.18 635.25,578.77 636.25,579.41 637.25,580.11 638.25,580.92 639.25,581.88 640.25,582.92 641.25,583.95 641.70,584.40 641.70,590.00 642.70,590.20 643.70,590.40 644.70,590.60 645.70,590.81 646.70,591.01 647.70,591.21 648.70,591.41 649.70,591.61 650.70,591.81 651.70,592.01 652.70,592.21 653.70,592.42 654.70,592.62 655.70,592.82 656.70,593.02 657.70,593.23 658.70,593.43 659.70,593.63 660.70,593.84 661.70,594.04 662.70,594.25 663.70,594.45 664.70,594.65 665.70,594.86 666.70,595.06 667.70,595.26 668.70,595.46 669.70,595.66 670.70,595.86 671.70,596.07 672.70,596.29 673.70,596.50 674.70,596.72 675.70,596.93 676.70,597.14 677.70,597.34 678.70,597.54 679.70,597.73 680.70,597.90 681.70,598.07 682.70,598.22 683.70,598.35 684.70,598.47 685.70,598.57 686.70,598.66 687.70,598.74 688.70,598.82 689.70,598.89 690.70,598.97 691.70,599.05 692.70,599.13 693.70,599.23 694.70,599.34 695.70,599.47 696.70,599.62 697.70,599.81 698.70,600.13 699.70,600.57 700.70,601.08 701.70,601.62 702.70,602.14 703.70,602.61 704.70,602.98 705.70,603.22 706.70,603.38 707.70,603.53 708.70,603.67 709.70,603.81 710.70,603.93 711.70,604.04 712.70,604.15 713.70,604.24 714.70,604.32 715.70,604.40 716.70,604.46 717.70,604.52 718.70,604.56 719.70,604.59 720.70,604.62 721.70,604.64 722.70,604.65 723.70,604.67 724.70,604.68 725.70,604.69 726.70,604.70 727.70,604.72 728.70,604.73 729.70,604.74 730.70,604.75 731.70,604.76 732.70,604.77 733.70,604.79 734.70,604.81 735.70,604.83 736.70,604.86 737.70,604.88 738.70,604.91 739.70,604.94 740.70,604.98 741.70,605.01 742.70,605.05 743.70,605.08 744.70,605.12 745.70,605.16 746.70,605.20 747.70,605.24 748.70,605.28 749.70,605.32 750.70,605.36 751.70,605.40 752.70,605.44 753.70,605.48 754.70,605.52 755.70,605.55 756.70,605.59 757.00,605.60 757.00,609.20 758.00,609.20 759.00,609.20 760.00,609.20 761.00,609.20 762.00,609.20 763.00,609.20 764.00,609.20 765.00,609.20 766.00,609.20 767.00,609.20 768.00,609.20 769.00,609.20 770.00,609.20 771.00,609.20 772.00,609.20 773.00,609.20 774.00,609.20 775.00,609.20 776.00,609.20 777.00,609.20 778.00,609.20 779.00,609.20 780.00,609.20 781.00,609.20 782.00,609.20 783.00,609.20 784.00,609.20 785.00,609.20 786.00,609.20 787.00,609.20 787.50,609.20 787.50,615.00 788.50,615.00 789.50,615.00 790.50,615.00 791.50,615.00 792.50,615.00 793.50,615.00 794.50,615.00 795.50,615.00 796.50,615.00 797.50,615.00 798.50,615.00 799.50,615.00 800.50,615.00 801.50,615.00 802.50,615.00 803.50,615.00 804.50,615.00 805.50,615.00 806.50,615.00 807.50,615.00 808.50,615.00 809.50,615.00 810.50,615.00 811.50,615.00 812.50,615.00 813.50,615.00 814.50,615.00 815.50,615.00 815.60,615.00" fill="none" stroke="#1E9B3C" stroke-width="2.3" stroke-linejoin="round"/>
<polyline points="556.25,512.30 557.25,519.19 558.25,522.13 559.25,522.95 560.25,524.25 561.25,526.63 562.25,528.78 563.25,529.59 564.25,529.88 565.25,530.26 566.25,532.88 567.25,539.03 568.25,541.93 569.25,543.91 570.25,545.45 571.25,546.71 572.25,547.68 573.25,548.53 574.25,549.45 575.25,550.63 576.25,552.41 577.25,554.79 578.25,557.36 579.25,559.72 580.25,561.47 581.25,562.82 582.25,564.03 583.25,564.93 584.25,565.33 585.25,565.47 586.25,565.55 587.25,565.61 588.25,565.65 589.25,565.70 590.25,565.78 591.25,565.90 592.25,566.31 593.25,568.15 594.25,570.68 595.25,572.78 596.25,574.23 597.25,575.52 598.25,576.72 599.25,577.93 600.25,579.24 601.25,580.65 602.25,582.12 603.25,583.60 604.25,585.07 605.25,586.49 606.25,587.81 607.25,589.01 608.25,590.21 609.25,591.40 610.25,592.55 611.25,593.60 612.25,594.51 613.25,595.24 614.25,595.76 615.25,596.11 616.25,596.35 617.25,596.53 618.25,596.68 619.25,596.86 620.25,597.09 621.25,597.42 622.25,597.90 623.25,599.15 624.25,605.04 625.25,608.20 626.25,608.90 627.25,609.46 628.25,609.90 629.25,610.24 630.25,610.52 631.25,610.75 632.25,610.95 633.25,611.16 634.25,611.38 635.25,611.64 636.25,611.87 637.25,612.07 638.25,612.25 639.25,612.42 640.25,612.60 641.25,612.79 642.25,613.01 643.25,613.26 644.25,613.55 645.25,613.94 646.25,614.49 647.25,615.15 648.25,615.89 649.25,616.66 650.25,617.45 651.25,618.19 652.25,618.87 653.25,619.46 654.25,620.07 655.25,620.70 656.25,621.29 657.25,621.82 658.25,622.25 659.25,622.53 660.25,622.66 661.25,622.74 662.25,622.81 663.25,622.86 664.25,622.90 665.25,622.94 666.25,622.97 667.25,623.00 668.25,623.04 669.25,623.08 670.25,623.14 671.25,623.21 672.25,623.31 673.25,623.51 674.25,623.86 675.25,624.31 676.25,624.83 677.25,625.37 678.25,625.89 679.25,626.35 680.25,626.71 681.25,626.96 682.25,627.19 683.25,627.42 684.25,627.65 685.25,627.86 686.25,628.05 687.25,628.22 688.25,628.36 689.25,628.48 690.25,628.56 691.25,628.60 692.25,628.60 693.25,628.60 694.25,628.60 695.25,628.60 696.25,628.60 697.25,628.60 698.25,628.60 699.25,628.60 700.25,628.60 701.25,628.60 702.25,628.60 703.25,628.60 704.25,628.60 705.25,628.60 706.25,628.60 707.25,628.60 708.25,628.60 709.25,628.60 710.25,628.60 711.25,628.60 712.25,628.60 713.25,628.60 714.25,628.60 715.25,628.60 716.25,628.60 717.25,628.60 718.25,628.60 719.25,628.60 720.25,628.60 721.25,628.60 722.25,628.60 723.25,628.60 724.25,628.60 725.25,628.60 726.25,628.60 727.25,628.60 728.25,628.60 729.25,628.60 730.25,628.60 731.25,628.60 732.25,628.60 733.25,628.60 734.25,628.60 735.25,628.60 736.25,628.60 737.25,628.60 738.25,628.60 739.25,628.60 740.25,628.60 741.25,628.60 742.25,628.60 743.25,628.60 744.25,628.60 745.25,628.60 746.25,628.60 747.25,628.60 748.25,628.60 749.25,628.60 750.25,628.60 751.25,628.60 752.25,628.60 753.25,628.60 754.25,628.60 755.25,628.60 756.25,628.60 757.25,628.60 758.25,628.60 759.25,628.60 760.25,628.60 761.25,628.60 762.25,628.60 763.25,628.60 764.25,628.60 765.25,628.60 766.25,628.60 767.25,628.60 768.25,628.60 769.25,628.60 770.25,628.60 771.25,628.60 772.25,628.60 773.25,628.60 774.25,628.60 775.25,628.60 776.00,628.60" fill="none" stroke="#5683D6" stroke-width="2.3" stroke-linejoin="round"/>
<path d="M564.25 511.56V514.56M569.43 512.96V515.96M577.69 516.03V519.03M583.34 518.34V521.34M589.56 520.85V523.85M594.49 522.91V525.91M602.58 526.49V529.49M607.87 529.49V532.49M615.92 534.38V537.38M622.08 537.36V540.36M630.66 542.06V545.06M634.62 544.28V547.28M640.49 547.36V550.36M645.17 549.31V552.31M653.51 552.18V555.18M658.40 553.57V556.57M663.15 554.72V557.72M671.10 556.62V559.62M677.72 558.29V561.29M685.03 560.14V563.14M688.56 561.02V564.02M695.69 562.82V565.82M698.80 563.60V566.60M707.78 565.81V568.81M711.31 566.76V569.76M715.99 568.56V571.56M720.39 570.14V573.14M723.92 570.50V573.50M729.02 570.50V573.50M735.27 570.52V573.52M743.43 571.34V574.34M750.92 572.85V575.85M759.03 574.85V577.85M764.30 576.46V579.46M771.76 579.02V582.02M776.38 580.58V583.58M783.13 582.52V585.52M790.96 584.05V587.05M796.18 585.11V588.11M800.74 586.42V589.42M806.38 590.11V593.11M810.89 591.20V594.20M819.75 596.30V599.30M823.42 596.30V599.30M831.81 596.30V599.30" stroke="#E36D68" stroke-width="0.9" fill="none"/>
<path d="M564.25 516.15V519.15M570.69 524.62V527.62M573.92 528.79V531.79M578.48 533.37V536.37M586.20 537.28V540.28M591.94 542.67V545.67M600.22 551.41V554.41M607.37 559.67V562.67M610.77 561.88V564.88M618.72 565.40V568.40M624.98 570.98V573.98M630.16 574.04V577.04M634.99 576.82V579.82M638.23 579.11V582.11M646.39 589.14V592.14M655.83 591.05V594.05M664.64 592.84V595.84M669.03 593.73V596.73M672.40 594.42V597.42M678.84 595.76V598.76M687.41 596.92V599.92M692.31 597.30V600.30M698.84 598.39V601.39M703.79 600.85V603.85M710.76 602.14V605.14M715.93 602.61V605.61M725.39 602.89V605.89M733.49 602.99V605.99M742.14 603.23V606.23M747.93 603.45V606.45M756.08 603.77V606.77M764.19 607.40V610.40M767.65 607.40V610.40M771.72 607.40V610.40M776.83 607.40V610.40M781.79 607.40V610.40M787.92 613.20V616.20M794.76 613.20V616.20M800.93 613.20V616.20M810.10 613.20V616.20" stroke="#1E9B3C" stroke-width="0.9" fill="none"/>
<path d="M564.25 528.08V531.08M576.44 551.05V554.05M586.61 563.77V566.77M593.34 566.59V569.59M600.71 578.08V581.08M608.67 588.91V591.91M620.84 595.47V598.47M630.50 608.78V611.78M643.40 611.50V614.50M656.61 619.69V622.69M667.14 621.20V624.20M679.84 624.77V627.77M693.08 626.80V629.80M699.38 626.80V629.80M705.08 626.80V629.80M710.42 626.80V629.80M721.27 626.80V629.80M728.97 626.80V629.80M734.85 626.80V629.80M741.88 626.80V629.80M751.46 626.80V629.80M760.30 626.80V629.80" stroke="#5683D6" stroke-width="0.9" fill="none"/>
<line x1="555.90" y1="572.70" x2="723.10" y2="572.70" stroke="#222" stroke-width="0.9" stroke-dasharray="3,2.2"/>
<line x1="595.20" y1="572.70" x2="595.20" y2="633.10" stroke="#222" stroke-width="0.9" stroke-dasharray="3,2.2"/>
<line x1="624.40" y1="572.70" x2="624.40" y2="633.10" stroke="#222" stroke-width="0.9" stroke-dasharray="3,2.2"/>
<line x1="723.10" y1="572.70" x2="723.10" y2="633.10" stroke="#222" stroke-width="0.9" stroke-dasharray="3,2.2"/>
<line x1="539.60" y1="506.70" x2="539.60" y2="638.60" stroke="#333" stroke-width="1"/>
<line x1="539.60" y1="638.60" x2="888.00" y2="638.60" stroke="#333" stroke-width="1"/>
<line x1="537.00" y1="633.10" x2="539.60" y2="633.10" stroke="#333" stroke-width="0.8"/>
<text x="536.20" y="635.80" font-size="7.6" text-anchor="end" fill="#222" stroke="#222" stroke-width="0.22">0.00</text>
<line x1="537.00" y1="602.90" x2="539.60" y2="602.90" stroke="#333" stroke-width="0.8"/>
<text x="536.20" y="605.60" font-size="7.6" text-anchor="end" fill="#222" stroke="#222" stroke-width="0.22">0.25</text>
<line x1="537.00" y1="572.70" x2="539.60" y2="572.70" stroke="#333" stroke-width="0.8"/>
<text x="536.20" y="575.40" font-size="7.6" text-anchor="end" fill="#222" stroke="#222" stroke-width="0.22">0.50</text>
<line x1="537.00" y1="542.50" x2="539.60" y2="542.50" stroke="#333" stroke-width="0.8"/>
<text x="536.20" y="545.20" font-size="7.6" text-anchor="end" fill="#222" stroke="#222" stroke-width="0.22">0.75</text>
<line x1="537.00" y1="512.30" x2="539.60" y2="512.30" stroke="#333" stroke-width="0.8"/>
<text x="536.20" y="515.00" font-size="7.6" text-anchor="end" fill="#222" stroke="#222" stroke-width="0.22">1.00</text>
<line x1="555.90" y1="638.60" x2="555.90" y2="641.20" stroke="#333" stroke-width="0.8"/>
<text x="555.90" y="648.40" font-size="7.9" text-anchor="middle" fill="#222" stroke="#222" stroke-width="0.25">0</text>
<line x1="579.60" y1="638.60" x2="579.60" y2="641.20" stroke="#333" stroke-width="0.8"/>
<text x="579.60" y="648.40" font-size="7.9" text-anchor="middle" fill="#222" stroke="#222" stroke-width="0.25">12</text>
<line x1="603.30" y1="638.60" x2="603.30" y2="641.20" stroke="#333" stroke-width="0.8"/>
<text x="603.30" y="648.40" font-size="7.9" text-anchor="middle" fill="#222" stroke="#222" stroke-width="0.25">24</text>
<line x1="627.00" y1="638.60" x2="627.00" y2="641.20" stroke="#333" stroke-width="0.8"/>
<text x="627.00" y="648.40" font-size="7.9" text-anchor="middle" fill="#222" stroke="#222" stroke-width="0.25">36</text>
<line x1="650.70" y1="638.60" x2="650.70" y2="641.20" stroke="#333" stroke-width="0.8"/>
<text x="650.70" y="648.40" font-size="7.9" text-anchor="middle" fill="#222" stroke="#222" stroke-width="0.25">48</text>
<line x1="674.40" y1="638.60" x2="674.40" y2="641.20" stroke="#333" stroke-width="0.8"/>
<text x="674.40" y="648.40" font-size="7.9" text-anchor="middle" fill="#222" stroke="#222" stroke-width="0.25">60</text>
<line x1="698.10" y1="638.60" x2="698.10" y2="641.20" stroke="#333" stroke-width="0.8"/>
<text x="698.10" y="648.40" font-size="7.9" text-anchor="middle" fill="#222" stroke="#222" stroke-width="0.25">72</text>
<line x1="721.80" y1="638.60" x2="721.80" y2="641.20" stroke="#333" stroke-width="0.8"/>
<text x="721.80" y="648.40" font-size="7.9" text-anchor="middle" fill="#222" stroke="#222" stroke-width="0.25">84</text>
<line x1="745.50" y1="638.60" x2="745.50" y2="641.20" stroke="#333" stroke-width="0.8"/>
<text x="745.50" y="648.40" font-size="7.9" text-anchor="middle" fill="#222" stroke="#222" stroke-width="0.25">96</text>
<line x1="769.20" y1="638.60" x2="769.20" y2="641.20" stroke="#333" stroke-width="0.8"/>
<text x="769.20" y="648.40" font-size="7.9" text-anchor="middle" fill="#222" stroke="#222" stroke-width="0.25">108</text>
<line x1="792.90" y1="638.60" x2="792.90" y2="641.20" stroke="#333" stroke-width="0.8"/>
<text x="792.90" y="648.40" font-size="7.9" text-anchor="middle" fill="#222" stroke="#222" stroke-width="0.25">120</text>
<line x1="816.60" y1="638.60" x2="816.60" y2="641.20" stroke="#333" stroke-width="0.8"/>
<text x="816.60" y="648.40" font-size="7.9" text-anchor="middle" fill="#222" stroke="#222" stroke-width="0.25">132</text>
<line x1="840.30" y1="638.60" x2="840.30" y2="641.20" stroke="#333" stroke-width="0.8"/>
<text x="840.30" y="648.40" font-size="7.9" text-anchor="middle" fill="#222" stroke="#222" stroke-width="0.25">144</text>
<line x1="864.00" y1="638.60" x2="864.00" y2="641.20" stroke="#333" stroke-width="0.8"/>
<text x="864.00" y="648.40" font-size="7.9" text-anchor="middle" fill="#222" stroke="#222" stroke-width="0.25">156</text>
<text x="716.40" y="657.90" font-size="8.6" text-anchor="middle" fill="#111" stroke="#111" stroke-width="0.22">Overall survival (months)</text>
<text transform="translate(509.50,572.70) rotate(-90)" font-size="9.8" text-anchor="middle" fill="#111" stroke="#111" stroke-width="0.22">Survival probability</text>
<text x="692.00" y="509.60" font-size="9.9" font-weight="bold" text-anchor="middle" fill="#111">Asian validation cohort</text>
<text x="448.20" y="507.80" font-size="23" font-weight="bold" stroke="#000" stroke-width="0.5">E</text>
<text x="561.40" y="600.30" font-size="8.4" fill="#222" stroke="#222" stroke-width="0.22">Log−rank</text>
<text x="561.40" y="611.70" font-size="8.4" fill="#222" stroke="#222" stroke-width="0.22">p &lt; 0.0001</text>
<text x="781.20" y="524.40" font-size="7.4" fill="#111" stroke="#111" stroke-width="0.22">Overall survival</text>
<rect x="781.20" y="528.30" width="9.8" height="10" fill="#F6BBB5" opacity="0.8"/>
<line x1="781.20" y1="533.30" x2="791.00" y2="533.30" stroke="#E36D68" stroke-width="1.1"/>
<line x1="786.10" y1="531.80" x2="786.10" y2="534.80" stroke="#E36D68" stroke-width="0.8"/>
<text x="794.40" y="535.40" font-size="6.1" fill="#111" stroke="#111" stroke-width="0.22">Low−risk strata</text>
<rect x="781.20" y="538.95" width="9.8" height="10" fill="#A3DDAE" opacity="0.8"/>
<line x1="781.20" y1="543.95" x2="791.00" y2="543.95" stroke="#1E9B3C" stroke-width="1.1"/>
<line x1="786.10" y1="542.45" x2="786.10" y2="545.45" stroke="#1E9B3C" stroke-width="0.8"/>
<text x="794.40" y="546.05" font-size="6.1" fill="#111" stroke="#111" stroke-width="0.22">Intermediate−risk strata</text>
<rect x="781.20" y="549.60" width="9.8" height="10" fill="#BBD2F4" opacity="0.8"/>
<line x1="781.20" y1="554.60" x2="791.00" y2="554.60" stroke="#5683D6" stroke-width="1.1"/>
<line x1="786.10" y1="553.10" x2="786.10" y2="556.10" stroke="#5683D6" stroke-width="0.8"/>
<text x="794.40" y="556.70" font-size="6.1" fill="#111" stroke="#111" stroke-width="0.22">High−risk strata</text>
<text x="539.90" y="672.90" font-size="9.7" fill="#111" stroke="#111" stroke-width="0.22">Number at risk</text>
<line x1="539.20" y1="678.90" x2="539.20" y2="707.40" stroke="#333" stroke-width="1"/>
<line x1="539.20" y1="707.40" x2="888.00" y2="707.40" stroke="#333" stroke-width="1"/>
<line x1="536.60" y1="684.10" x2="539.60" y2="684.10" stroke="#333" stroke-width="0.8"/>
<text x="536.10" y="686.70" font-size="7.2" text-anchor="end" fill="#E8908C" stroke="#E8908C" stroke-width="0.22">Low−risk <tspan dx="2.0">strata</tspan></text>
<text x="555.90" y="687.10" font-size="8.3" text-anchor="middle" fill="#111" stroke="#111" stroke-width="0.16">600</text>
<text x="579.60" y="687.10" font-size="8.3" text-anchor="middle" fill="#111" stroke="#111" stroke-width="0.16">549</text>
<text x="603.30" y="687.10" font-size="8.3" text-anchor="middle" fill="#111" stroke="#111" stroke-width="0.16">459</text>
<text x="627.00" y="687.10" font-size="8.3" text-anchor="middle" fill="#111" stroke="#111" stroke-width="0.16">377</text>
<text x="650.70" y="687.10" font-size="8.3" text-anchor="middle" fill="#111" stroke="#111" stroke-width="0.16">302</text>
<text x="674.40" y="687.10" font-size="8.3" text-anchor="middle" fill="#111" stroke="#111" stroke-width="0.16">260</text>
<text x="698.10" y="687.10" font-size="8.3" text-anchor="middle" fill="#111" stroke="#111" stroke-width="0.16">241</text>
<text x="721.80" y="687.10" font-size="8.3" text-anchor="middle" fill="#111" stroke="#111" stroke-width="0.16">216</text>
<text x="745.50" y="687.10" font-size="8.3" text-anchor="middle" fill="#111" stroke="#111" stroke-width="0.16">161</text>
<text x="769.20" y="687.10" font-size="8.3" text-anchor="middle" fill="#111" stroke="#111" stroke-width="0.16">91</text>
<text x="792.90" y="687.10" font-size="8.3" text-anchor="middle" fill="#111" stroke="#111" stroke-width="0.16">42</text>
<text x="816.60" y="687.10" font-size="8.3" text-anchor="middle" fill="#111" stroke="#111" stroke-width="0.16">9</text>
<text x="840.30" y="687.10" font-size="8.3" text-anchor="middle" fill="#111" stroke="#111" stroke-width="0.16">1</text>
<text x="864.00" y="687.10" font-size="8.3" text-anchor="middle" fill="#111" stroke="#111" stroke-width="0.16">1</text>
<line x1="536.60" y1="693.10" x2="539.60" y2="693.10" stroke="#333" stroke-width="0.8"/>
<text x="536.10" y="695.70" font-size="7.2" text-anchor="end" fill="#3DAF5C" stroke="#3DAF5C" stroke-width="0.22">Intermediate−risk <tspan dx="2.0">strata</tspan></text>
<text x="555.90" y="696.10" font-size="8.3" text-anchor="middle" fill="#111" stroke="#111" stroke-width="0.16">156</text>
<text x="579.60" y="696.10" font-size="8.3" text-anchor="middle" fill="#111" stroke="#111" stroke-width="0.16">115</text>
<text x="603.30" y="696.10" font-size="8.3" text-anchor="middle" fill="#111" stroke="#111" stroke-width="0.16">87</text>
<text x="627.00" y="696.10" font-size="8.3" text-anchor="middle" fill="#111" stroke="#111" stroke-width="0.16">57</text>
<text x="650.70" y="696.10" font-size="8.3" text-anchor="middle" fill="#111" stroke="#111" stroke-width="0.16">35</text>
<text x="674.40" y="696.10" font-size="8.3" text-anchor="middle" fill="#111" stroke="#111" stroke-width="0.16">30</text>
<text x="698.10" y="696.10" font-size="8.3" text-anchor="middle" fill="#111" stroke="#111" stroke-width="0.16">26</text>
<text x="721.80" y="696.10" font-size="8.3" text-anchor="middle" fill="#111" stroke="#111" stroke-width="0.16">22</text>
<text x="745.50" y="696.10" font-size="8.3" text-anchor="middle" fill="#111" stroke="#111" stroke-width="0.16">20</text>
<text x="769.20" y="696.10" font-size="8.3" text-anchor="middle" fill="#111" stroke="#111" stroke-width="0.16">9</text>
<text x="792.90" y="696.10" font-size="8.3" text-anchor="middle" fill="#111" stroke="#111" stroke-width="0.16">3</text>
<text x="816.60" y="696.10" font-size="8.3" text-anchor="middle" fill="#111" stroke="#111" stroke-width="0.16">0</text>
<text x="840.30" y="696.10" font-size="8.3" text-anchor="middle" fill="#111" stroke="#111" stroke-width="0.16">0</text>
<text x="864.00" y="696.10" font-size="8.3" text-anchor="middle" fill="#111" stroke="#111" stroke-width="0.16">0</text>
<line x1="536.60" y1="702.10" x2="539.60" y2="702.10" stroke="#333" stroke-width="0.8"/>
<text x="536.10" y="704.70" font-size="7.2" text-anchor="end" fill="#7C9EE0" stroke="#7C9EE0" stroke-width="0.22">High−risk <tspan dx="2.0">strata</tspan></text>
<text x="555.90" y="705.10" font-size="8.3" text-anchor="middle" fill="#111" stroke="#111" stroke-width="0.16">84</text>
<text x="579.60" y="705.10" font-size="8.3" text-anchor="middle" fill="#111" stroke="#111" stroke-width="0.16">48</text>
<text x="603.30" y="705.10" font-size="8.3" text-anchor="middle" fill="#111" stroke="#111" stroke-width="0.16">32</text>
<text x="627.00" y="705.10" font-size="8.3" text-anchor="middle" fill="#111" stroke="#111" stroke-width="0.16">14</text>
<text x="650.70" y="705.10" font-size="8.3" text-anchor="middle" fill="#111" stroke="#111" stroke-width="0.16">8</text>
<text x="674.40" y="705.10" font-size="8.3" text-anchor="middle" fill="#111" stroke="#111" stroke-width="0.16">4</text>
<text x="698.10" y="705.10" font-size="8.3" text-anchor="middle" fill="#111" stroke="#111" stroke-width="0.16">2</text>
<text x="721.80" y="705.10" font-size="8.3" text-anchor="middle" fill="#111" stroke="#111" stroke-width="0.16">2</text>
<text x="745.50" y="705.10" font-size="8.3" text-anchor="middle" fill="#111" stroke="#111" stroke-width="0.16">2</text>
<text x="769.20" y="705.10" font-size="8.3" text-anchor="middle" fill="#111" stroke="#111" stroke-width="0.16">2</text>
<text x="792.90" y="705.10" font-size="8.3" text-anchor="middle" fill="#111" stroke="#111" stroke-width="0.16">0</text>
<text x="816.60" y="705.10" font-size="8.3" text-anchor="middle" fill="#111" stroke="#111" stroke-width="0.16">0</text>
<text x="840.30" y="705.10" font-size="8.3" text-anchor="middle" fill="#111" stroke="#111" stroke-width="0.16">0</text>
<text x="864.00" y="705.10" font-size="8.3" text-anchor="middle" fill="#111" stroke="#111" stroke-width="0.16">0</text>
<line x1="555.90" y1="707.40" x2="555.90" y2="709.90" stroke="#333" stroke-width="0.8"/>
<text x="555.90" y="715.80" font-size="7.9" text-anchor="middle" fill="#222" stroke="#222" stroke-width="0.25">0</text>
<line x1="579.60" y1="707.40" x2="579.60" y2="709.90" stroke="#333" stroke-width="0.8"/>
<text x="579.60" y="715.80" font-size="7.9" text-anchor="middle" fill="#222" stroke="#222" stroke-width="0.25">12</text>
<line x1="603.30" y1="707.40" x2="603.30" y2="709.90" stroke="#333" stroke-width="0.8"/>
<text x="603.30" y="715.80" font-size="7.9" text-anchor="middle" fill="#222" stroke="#222" stroke-width="0.25">24</text>
<line x1="627.00" y1="707.40" x2="627.00" y2="709.90" stroke="#333" stroke-width="0.8"/>
<text x="627.00" y="715.80" font-size="7.9" text-anchor="middle" fill="#222" stroke="#222" stroke-width="0.25">36</text>
<line x1="650.70" y1="707.40" x2="650.70" y2="709.90" stroke="#333" stroke-width="0.8"/>
<text x="650.70" y="715.80" font-size="7.9" text-anchor="middle" fill="#222" stroke="#222" stroke-width="0.25">48</text>
<line x1="674.40" y1="707.40" x2="674.40" y2="709.90" stroke="#333" stroke-width="0.8"/>
<text x="674.40" y="715.80" font-size="7.9" text-anchor="middle" fill="#222" stroke="#222" stroke-width="0.25">60</text>
<line x1="698.10" y1="707.40" x2="698.10" y2="709.90" stroke="#333" stroke-width="0.8"/>
<text x="698.10" y="715.80" font-size="7.9" text-anchor="middle" fill="#222" stroke="#222" stroke-width="0.25">72</text>
<line x1="721.80" y1="707.40" x2="721.80" y2="709.90" stroke="#333" stroke-width="0.8"/>
<text x="721.80" y="715.80" font-size="7.9" text-anchor="middle" fill="#222" stroke="#222" stroke-width="0.25">84</text>
<line x1="745.50" y1="707.40" x2="745.50" y2="709.90" stroke="#333" stroke-width="0.8"/>
<text x="745.50" y="715.80" font-size="7.9" text-anchor="middle" fill="#222" stroke="#222" stroke-width="0.25">96</text>
<line x1="769.20" y1="707.40" x2="769.20" y2="709.90" stroke="#333" stroke-width="0.8"/>
<text x="769.20" y="715.80" font-size="7.9" text-anchor="middle" fill="#222" stroke="#222" stroke-width="0.25">108</text>
<line x1="792.90" y1="707.40" x2="792.90" y2="709.90" stroke="#333" stroke-width="0.8"/>
<text x="792.90" y="715.80" font-size="7.9" text-anchor="middle" fill="#222" stroke="#222" stroke-width="0.25">120</text>
<line x1="816.60" y1="707.40" x2="816.60" y2="709.90" stroke="#333" stroke-width="0.8"/>
<text x="816.60" y="715.80" font-size="7.9" text-anchor="middle" fill="#222" stroke="#222" stroke-width="0.25">132</text>
<line x1="840.30" y1="707.40" x2="840.30" y2="709.90" stroke="#333" stroke-width="0.8"/>
<text x="840.30" y="715.80" font-size="7.9" text-anchor="middle" fill="#222" stroke="#222" stroke-width="0.25">144</text>
<line x1="864.00" y1="707.40" x2="864.00" y2="709.90" stroke="#333" stroke-width="0.8"/>
<text x="864.00" y="715.80" font-size="7.9" text-anchor="middle" fill="#222" stroke="#222" stroke-width="0.25">156</text>
</svg></body></html>
